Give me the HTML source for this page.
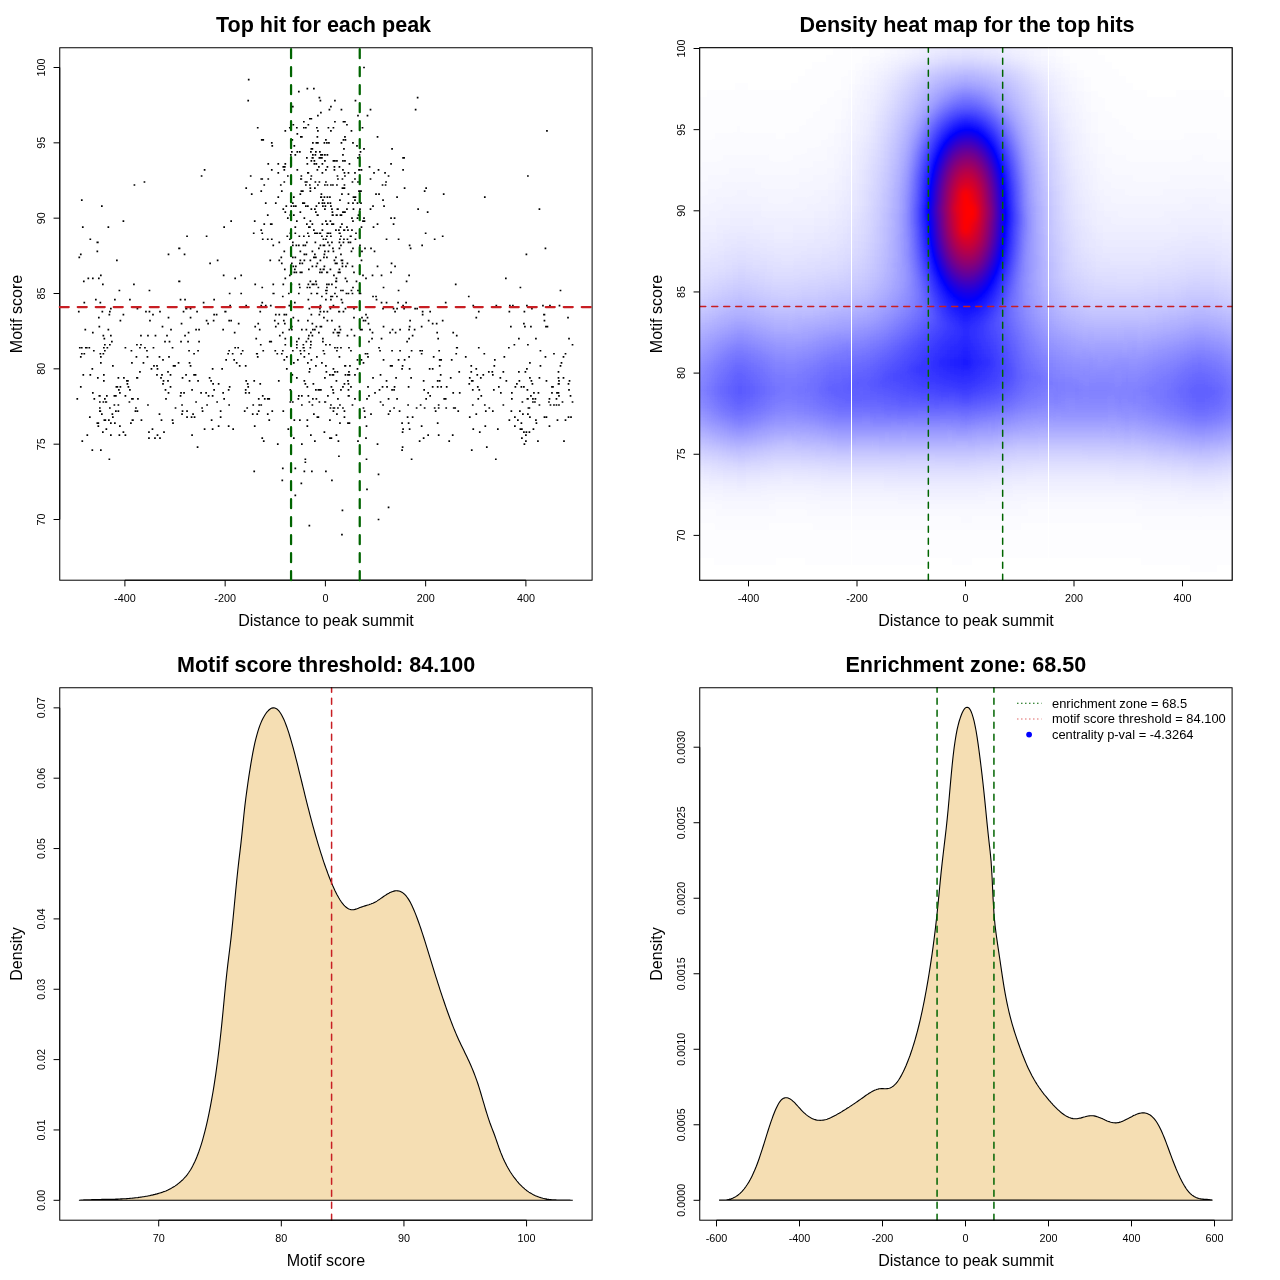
<!DOCTYPE html>
<html><head><meta charset="utf-8"><style>
html,body{margin:0;padding:0;background:#fff;}
svg{display:block;font-family:"Liberation Sans", sans-serif;will-change:transform;}
</style></head><body>
<svg width="1280" height="1280" viewBox="0 0 1280 1280">
<rect width="1280" height="1280" fill="#fff"/>
<path d="M78.9 1200.2L79.9 1200.2L80.9 1200.1L81.9 1200.0L82.9 1200.0L83.9 1199.9L84.9 1199.9L85.9 1199.9L86.9 1199.8L87.9 1199.8L88.9 1199.7L89.9 1199.7L90.9 1199.7L91.9 1199.6L92.9 1199.6L93.9 1199.6L94.9 1199.6L95.9 1199.6L96.9 1199.5L97.9 1199.5L98.9 1199.5L99.9 1199.5L100.9 1199.5L101.9 1199.4L102.9 1199.4L103.9 1199.4L104.9 1199.4L105.9 1199.4L106.9 1199.4L107.9 1199.3L108.9 1199.3L109.9 1199.3L110.9 1199.3L111.9 1199.2L112.9 1199.2L113.9 1199.2L114.9 1199.2L115.9 1199.1L116.9 1199.1L117.9 1199.1L118.9 1199.0L119.9 1199.0L120.9 1198.9L121.9 1198.9L122.9 1198.8L123.9 1198.8L124.9 1198.7L125.9 1198.7L126.9 1198.6L127.9 1198.5L128.9 1198.5L129.9 1198.4L130.9 1198.3L131.9 1198.2L132.9 1198.1L133.9 1198.0L134.9 1197.9L135.9 1197.8L136.9 1197.7L137.9 1197.6L138.9 1197.4L139.9 1197.3L140.9 1197.1L141.9 1197.0L142.9 1196.8L143.9 1196.7L144.9 1196.5L145.9 1196.3L146.9 1196.2L147.9 1196.0L148.9 1195.8L149.9 1195.6L150.9 1195.3L151.9 1195.1L152.9 1194.9L153.9 1194.6L154.9 1194.4L155.9 1194.1L156.9 1193.9L157.9 1193.6L158.9 1193.3L159.9 1193.0L160.9 1192.7L161.9 1192.4L162.9 1192.0L163.9 1191.6L164.9 1191.3L165.9 1190.9L166.9 1190.4L167.9 1190.0L168.9 1189.5L169.9 1189.0L170.9 1188.5L171.9 1187.9L172.9 1187.3L173.9 1186.7L174.9 1186.1L175.9 1185.4L176.9 1184.7L177.9 1183.9L178.9 1183.1L179.9 1182.3L180.9 1181.4L181.9 1180.5L182.9 1179.6L183.9 1178.5L184.9 1177.4L185.9 1176.3L186.9 1175.1L187.9 1173.7L188.9 1172.3L189.9 1170.8L190.9 1169.2L191.9 1167.4L192.9 1165.6L193.9 1163.6L194.9 1161.5L195.9 1159.2L196.9 1156.8L197.9 1154.2L198.9 1151.5L199.9 1148.6L200.9 1145.6L201.9 1142.3L202.9 1138.9L203.9 1135.2L204.9 1131.4L205.9 1127.4L206.9 1123.1L207.9 1118.6L208.9 1113.9L209.9 1108.9L210.9 1103.7L211.9 1098.2L212.9 1092.5L213.9 1086.4L214.9 1079.9L215.9 1073.1L216.9 1065.8L217.9 1058.2L218.9 1050.1L219.9 1041.5L220.9 1032.5L221.9 1022.9L222.9 1012.8L223.9 1002.3L224.9 991.8L225.9 981.6L226.9 972.2L227.9 963.6L228.9 955.5L229.9 947.5L230.9 939.1L231.9 929.9L232.9 920.0L233.9 909.7L234.9 899.2L235.9 888.7L236.9 878.7L237.9 869.2L238.9 860.4L239.9 852.1L240.9 843.6L241.9 834.4L242.9 824.6L243.9 814.7L244.9 805.6L245.9 797.5L246.9 790.1L247.9 783.0L248.9 776.2L249.9 769.8L250.9 763.6L251.9 757.8L252.9 752.4L253.9 747.4L254.9 742.7L255.9 738.6L256.9 734.8L257.9 731.3L258.9 728.2L259.9 725.4L260.9 722.9L261.9 720.6L262.9 718.6L263.9 716.7L264.9 715.0L265.9 713.5L266.9 712.2L267.9 711.0L268.9 710.0L269.9 709.2L270.9 708.6L271.9 708.1L272.9 707.9L273.9 707.9L274.9 708.0L275.9 708.4L276.9 709.0L277.9 709.8L278.9 710.9L279.9 712.2L280.9 713.7L281.9 715.4L282.9 717.4L283.9 719.5L284.9 721.9L285.9 724.5L286.9 727.2L287.9 730.2L288.9 733.2L289.9 736.5L290.9 739.8L291.9 743.3L292.9 746.9L293.9 750.6L294.9 754.4L295.9 758.3L296.9 762.2L297.9 766.2L298.9 770.3L299.9 774.3L300.9 778.4L301.9 782.5L302.9 786.7L303.9 790.7L304.9 794.8L305.9 798.9L306.9 802.9L307.9 806.8L308.9 810.7L309.9 814.6L310.9 818.4L311.9 822.1L312.9 825.8L313.9 829.4L314.9 833.0L315.9 836.5L316.9 839.9L317.9 843.3L318.9 846.6L319.9 849.9L320.9 853.1L321.9 856.2L322.9 859.3L323.9 862.3L324.9 865.2L325.9 868.1L326.9 870.8L327.9 873.6L328.9 876.2L329.9 878.7L330.9 881.2L331.9 883.6L332.9 886.0L333.9 888.2L334.9 890.4L335.9 892.4L336.9 894.4L337.9 896.2L338.9 898.0L339.9 899.7L340.9 901.2L341.9 902.6L342.9 903.9L343.9 905.1L344.9 906.1L345.9 907.0L346.9 907.8L347.9 908.4L348.9 908.9L349.9 909.3L350.9 909.6L351.9 909.7L352.9 909.7L353.9 909.6L354.9 909.4L355.9 909.1L356.9 908.8L357.9 908.4L358.9 908.0L359.9 907.6L360.9 907.2L361.9 906.9L362.9 906.5L363.9 906.2L364.9 905.9L365.9 905.6L366.9 905.3L367.9 905.0L368.9 904.7L369.9 904.3L370.9 904.0L371.9 903.6L372.9 903.2L373.9 902.7L374.9 902.2L375.9 901.7L376.9 901.1L377.9 900.4L378.9 899.8L379.9 899.1L380.9 898.4L381.9 897.7L382.9 897.0L383.9 896.3L384.9 895.6L385.9 895.0L386.9 894.3L387.9 893.7L388.9 893.2L389.9 892.6L390.9 892.2L391.9 891.8L392.9 891.4L393.9 891.1L394.9 890.9L395.9 890.8L396.9 890.8L397.9 890.9L398.9 891.0L399.9 891.3L400.9 891.7L401.9 892.2L402.9 892.9L403.9 893.7L404.9 894.6L405.9 895.7L406.9 897.0L407.9 898.4L408.9 899.9L409.9 901.6L410.9 903.5L411.9 905.5L412.9 907.7L413.9 910.0L414.9 912.4L415.9 914.9L416.9 917.5L417.9 920.2L418.9 923.0L419.9 925.9L420.9 928.8L421.9 931.8L422.9 934.9L423.9 938.0L424.9 941.2L425.9 944.4L426.9 947.6L427.9 950.9L428.9 954.1L429.9 957.4L430.9 960.6L431.9 963.9L432.9 967.1L433.9 970.4L434.9 973.6L435.9 976.8L436.9 979.9L437.9 983.1L438.9 986.2L439.9 989.3L440.9 992.3L441.9 995.4L442.9 998.4L443.9 1001.3L444.9 1004.2L445.9 1007.1L446.9 1010.0L447.9 1012.8L448.9 1015.5L449.9 1018.2L450.9 1020.9L451.9 1023.5L452.9 1026.1L453.9 1028.6L454.9 1031.0L455.9 1033.4L456.9 1035.7L457.9 1038.0L458.9 1040.2L459.9 1042.3L460.9 1044.4L461.9 1046.5L462.9 1048.6L463.9 1050.6L464.9 1052.7L465.9 1054.7L466.9 1056.8L467.9 1058.9L468.9 1061.1L469.9 1063.3L470.9 1065.5L471.9 1067.9L472.9 1070.3L473.9 1072.8L474.9 1075.4L475.9 1078.1L476.9 1080.9L477.9 1083.8L478.9 1086.9L479.9 1090.2L480.9 1093.5L481.9 1096.9L482.9 1100.3L483.9 1103.7L484.9 1107.1L485.9 1110.5L486.9 1113.7L487.9 1116.9L488.9 1119.9L489.9 1122.8L490.9 1125.5L491.9 1128.1L492.9 1130.7L493.9 1133.3L494.9 1136.0L495.9 1138.9L496.9 1141.7L497.9 1144.6L498.9 1147.5L499.9 1150.2L500.9 1152.9L501.9 1155.3L502.9 1157.7L503.9 1159.9L504.9 1162.1L505.9 1164.1L506.9 1166.0L507.9 1167.8L508.9 1169.5L509.9 1171.2L510.9 1172.8L511.9 1174.3L512.9 1175.7L513.9 1177.1L514.9 1178.4L515.9 1179.7L516.9 1181.0L517.9 1182.1L518.9 1183.3L519.9 1184.4L520.9 1185.4L521.9 1186.4L522.9 1187.3L523.9 1188.2L524.9 1189.1L525.9 1189.9L526.9 1190.7L527.9 1191.4L528.9 1192.1L529.9 1192.7L530.9 1193.3L531.9 1193.9L532.9 1194.5L533.9 1195.0L534.9 1195.5L535.9 1195.9L536.9 1196.3L537.9 1196.7L538.9 1197.1L539.9 1197.4L540.9 1197.7L541.9 1198.0L542.9 1198.3L543.9 1198.5L544.9 1198.7L545.9 1198.9L546.9 1199.1L547.9 1199.2L548.9 1199.4L549.9 1199.5L550.9 1199.6L551.9 1199.7L552.9 1199.8L553.9 1199.8L554.9 1199.9L555.9 1199.9L556.9 1200.0L557.9 1200.0L558.9 1200.0L559.9 1200.0L560.9 1200.1L561.9 1200.1L562.9 1200.1L563.9 1200.1L564.9 1200.1L565.9 1200.1L566.9 1200.1L567.9 1200.1L568.9 1200.1L569.9 1200.1L570.9 1200.2L571.9 1200.2L572.8 1200.2Z" fill="#F5DEB3" stroke="#000" stroke-width="1.1"/>
<line x1="331.59" y1="1220.2" x2="331.59" y2="687.75" stroke="#C81E23" stroke-width="1.5" stroke-dasharray="6 6" stroke-linecap="round"/>
<rect x="59.75" y="687.75" width="532.35" height="532.45" fill="none" stroke="#000" stroke-width="1"/>
<path d="M158.7 1220.2H526.56M158.7 1220.2V1226.4M281.32 1220.2V1226.4M403.94 1220.2V1226.4M526.56 1220.2V1226.4M59.75 1200.3V707.85M59.75 1200.3H53.55M59.75 1129.95H53.55M59.75 1059.6H53.55M59.75 989.25H53.55M59.75 918.9H53.55M59.75 848.55H53.55M59.75 778.2H53.55M59.75 707.85H53.55" stroke="#000" stroke-width="1" fill="none"/>
<text x="158.7" y="1241.7" text-anchor="middle" font-size="10.8" fill="#000">70</text>
<text x="281.32" y="1241.7" text-anchor="middle" font-size="10.8" fill="#000">80</text>
<text x="403.94" y="1241.7" text-anchor="middle" font-size="10.8" fill="#000">90</text>
<text x="526.56" y="1241.7" text-anchor="middle" font-size="10.8" fill="#000">100</text>
<text transform="translate(44.7,1200.3) rotate(-90)" text-anchor="middle" font-size="10.8" fill="#000">0.00</text>
<text transform="translate(44.7,1129.95) rotate(-90)" text-anchor="middle" font-size="10.8" fill="#000">0.01</text>
<text transform="translate(44.7,1059.6) rotate(-90)" text-anchor="middle" font-size="10.8" fill="#000">0.02</text>
<text transform="translate(44.7,989.25) rotate(-90)" text-anchor="middle" font-size="10.8" fill="#000">0.03</text>
<text transform="translate(44.7,918.9) rotate(-90)" text-anchor="middle" font-size="10.8" fill="#000">0.04</text>
<text transform="translate(44.7,848.55) rotate(-90)" text-anchor="middle" font-size="10.8" fill="#000">0.05</text>
<text transform="translate(44.7,778.2) rotate(-90)" text-anchor="middle" font-size="10.8" fill="#000">0.06</text>
<text transform="translate(44.7,707.85) rotate(-90)" text-anchor="middle" font-size="10.8" fill="#000">0.07</text>
<text x="325.93" y="1265.6" text-anchor="middle" font-size="16.05" fill="#000">Motif score</text>
<text transform="translate(21.9,953.98) rotate(-90)" text-anchor="middle" font-size="16.05" fill="#000">Density</text>
<text x="177" y="671.7" text-anchor="start" font-size="21.55" font-weight="bold" fill="#000">Motif score threshold: 84.100</text>
<path d="M719.1 1200.1L720.1 1200.2L721.1 1200.2L722.1 1200.2L723.1 1200.2L724.1 1200.2L725.1 1200.1L726.1 1200.0L727.1 1199.8L728.1 1199.6L729.1 1199.4L730.1 1199.1L731.1 1198.8L732.1 1198.4L733.1 1198.0L734.1 1197.5L735.1 1197.0L736.1 1196.4L737.1 1195.7L738.1 1195.0L739.1 1194.2L740.1 1193.3L741.1 1192.3L742.1 1191.3L743.1 1190.2L744.1 1189.0L745.1 1187.7L746.1 1186.3L747.1 1184.8L748.1 1183.2L749.1 1181.6L750.1 1179.8L751.1 1177.9L752.1 1175.9L753.1 1173.8L754.1 1171.6L755.1 1169.2L756.1 1166.8L757.1 1164.2L758.1 1161.5L759.1 1158.7L760.1 1155.7L761.1 1152.7L762.1 1149.6L763.1 1146.5L764.1 1143.3L765.1 1140.1L766.1 1136.9L767.1 1133.7L768.1 1130.5L769.1 1127.4L770.1 1124.4L771.1 1121.4L772.1 1118.6L773.1 1115.8L774.1 1113.2L775.1 1110.8L776.1 1108.5L777.1 1106.4L778.1 1104.5L779.1 1102.8L780.1 1101.4L781.1 1100.2L782.1 1099.2L783.1 1098.5L784.1 1098.1L785.1 1097.8L786.1 1097.7L787.1 1097.8L788.1 1098.0L789.1 1098.4L790.1 1099.0L791.1 1099.6L792.1 1100.4L793.1 1101.3L794.1 1102.2L795.1 1103.2L796.1 1104.3L797.1 1105.4L798.1 1106.5L799.1 1107.6L800.1 1108.7L801.1 1109.8L802.1 1110.9L803.1 1111.9L804.1 1112.8L805.1 1113.7L806.1 1114.6L807.1 1115.4L808.1 1116.1L809.1 1116.8L810.1 1117.4L811.1 1118.0L812.1 1118.5L813.1 1118.9L814.1 1119.3L815.1 1119.6L816.1 1119.9L817.1 1120.1L818.1 1120.2L819.1 1120.3L820.1 1120.4L821.1 1120.3L822.1 1120.3L823.1 1120.1L824.1 1120.0L825.1 1119.7L826.1 1119.5L827.1 1119.2L828.1 1118.8L829.1 1118.4L830.1 1118.0L831.1 1117.6L832.1 1117.1L833.1 1116.6L834.1 1116.1L835.1 1115.6L836.1 1115.0L837.1 1114.4L838.1 1113.8L839.1 1113.3L840.1 1112.7L841.1 1112.1L842.1 1111.5L843.1 1110.8L844.1 1110.2L845.1 1109.6L846.1 1109.0L847.1 1108.3L848.1 1107.7L849.1 1107.1L850.1 1106.4L851.1 1105.8L852.1 1105.1L853.1 1104.4L854.1 1103.8L855.1 1103.1L856.1 1102.4L857.1 1101.7L858.1 1101.0L859.1 1100.3L860.1 1099.6L861.1 1098.9L862.1 1098.2L863.1 1097.5L864.1 1096.8L865.1 1096.0L866.1 1095.3L867.1 1094.6L868.1 1094.0L869.1 1093.3L870.1 1092.7L871.1 1092.1L872.1 1091.5L873.1 1091.0L874.1 1090.5L875.1 1090.0L876.1 1089.7L877.1 1089.3L878.1 1089.1L879.1 1088.8L880.1 1088.7L881.1 1088.6L882.1 1088.6L883.1 1088.6L884.1 1088.7L885.1 1088.7L886.1 1088.7L887.1 1088.6L888.1 1088.5L889.1 1088.3L890.1 1088.0L891.1 1087.5L892.1 1086.9L893.1 1086.2L894.1 1085.4L895.1 1084.4L896.1 1083.3L897.1 1082.1L898.1 1080.7L899.1 1079.2L900.1 1077.6L901.1 1075.9L902.1 1074.0L903.1 1072.1L904.1 1070.0L905.1 1067.8L906.1 1065.5L907.1 1063.0L908.1 1060.5L909.1 1057.9L910.1 1055.2L911.1 1052.3L912.1 1049.3L913.1 1046.2L914.1 1043.0L915.1 1039.6L916.1 1036.0L917.1 1032.3L918.1 1028.5L919.1 1024.5L920.1 1020.3L921.1 1015.9L922.1 1011.3L923.1 1006.5L924.1 1001.6L925.1 996.4L926.1 991.0L927.1 985.4L928.1 979.6L929.1 973.5L930.1 967.2L931.1 960.7L932.1 953.8L933.1 946.6L934.1 939.0L935.1 931.0L936.1 922.4L937.1 913.2L938.1 903.4L939.1 893.1L940.1 882.6L941.1 872.6L942.1 863.4L943.1 854.7L944.1 846.3L945.1 837.9L946.1 829.2L947.1 819.9L948.1 809.7L949.1 798.7L950.1 787.4L951.1 776.2L952.1 765.7L953.1 756.3L954.1 748.0L955.1 741.0L956.1 734.9L957.1 729.7L958.1 725.3L959.1 721.5L960.1 718.3L961.1 715.5L962.1 713.0L963.1 711.0L964.1 709.3L965.1 708.1L966.1 707.4L967.1 707.2L968.1 707.4L969.1 708.2L970.1 709.6L971.1 711.6L972.1 714.1L973.1 717.3L974.1 721.2L975.1 725.8L976.1 731.0L977.1 737.1L978.1 743.8L979.1 751.2L980.1 758.9L981.1 767.0L982.1 775.4L983.1 784.2L984.1 793.6L985.1 803.4L986.1 813.5L987.1 823.6L988.1 833.3L989.1 842.5L990.1 851.1L991.1 861.5L992.1 877.7L993.1 899.0L994.1 915.5L995.1 925.8L996.1 933.7L997.1 940.9L998.1 947.7L999.1 954.3L1000.1 961.0L1001.1 967.9L1002.1 974.6L1003.1 981.2L1004.1 987.3L1005.1 993.1L1006.1 998.4L1007.1 1003.4L1008.1 1008.0L1009.1 1012.4L1010.1 1016.4L1011.1 1020.2L1012.1 1023.8L1013.1 1027.2L1014.1 1030.5L1015.1 1033.6L1016.1 1036.6L1017.1 1039.6L1018.1 1042.5L1019.1 1045.3L1020.1 1048.1L1021.1 1050.8L1022.1 1053.5L1023.1 1056.0L1024.1 1058.5L1025.1 1061.0L1026.1 1063.4L1027.1 1065.7L1028.1 1067.9L1029.1 1070.0L1030.1 1072.1L1031.1 1074.1L1032.1 1076.0L1033.1 1077.8L1034.1 1079.6L1035.1 1081.3L1036.1 1082.9L1037.1 1084.5L1038.1 1086.0L1039.1 1087.5L1040.1 1088.9L1041.1 1090.3L1042.1 1091.7L1043.1 1093.0L1044.1 1094.3L1045.1 1095.5L1046.1 1096.7L1047.1 1097.9L1048.1 1099.1L1049.1 1100.3L1050.1 1101.4L1051.1 1102.6L1052.1 1103.7L1053.1 1104.8L1054.1 1105.8L1055.1 1106.9L1056.1 1107.9L1057.1 1108.9L1058.1 1109.8L1059.1 1110.7L1060.1 1111.6L1061.1 1112.5L1062.1 1113.3L1063.1 1114.0L1064.1 1114.7L1065.1 1115.4L1066.1 1116.0L1067.1 1116.5L1068.1 1117.0L1069.1 1117.5L1070.1 1117.8L1071.1 1118.2L1072.1 1118.4L1073.1 1118.6L1074.1 1118.7L1075.1 1118.8L1076.1 1118.7L1077.1 1118.7L1078.1 1118.5L1079.1 1118.3L1080.1 1118.1L1081.1 1117.9L1082.1 1117.6L1083.1 1117.3L1084.1 1117.0L1085.1 1116.8L1086.1 1116.5L1087.1 1116.2L1088.1 1116.0L1089.1 1115.9L1090.1 1115.8L1091.1 1115.7L1092.1 1115.7L1093.1 1115.8L1094.1 1115.9L1095.1 1116.1L1096.1 1116.4L1097.1 1116.7L1098.1 1117.0L1099.1 1117.4L1100.1 1117.8L1101.1 1118.2L1102.1 1118.6L1103.1 1119.1L1104.1 1119.5L1105.1 1120.0L1106.1 1120.4L1107.1 1120.9L1108.1 1121.3L1109.1 1121.6L1110.1 1122.0L1111.1 1122.3L1112.1 1122.5L1113.1 1122.7L1114.1 1122.8L1115.1 1122.9L1116.1 1122.9L1117.1 1122.8L1118.1 1122.6L1119.1 1122.4L1120.1 1122.1L1121.1 1121.8L1122.1 1121.4L1123.1 1121.0L1124.1 1120.6L1125.1 1120.1L1126.1 1119.6L1127.1 1119.1L1128.1 1118.5L1129.1 1118.0L1130.1 1117.4L1131.1 1116.9L1132.1 1116.4L1133.1 1115.8L1134.1 1115.3L1135.1 1114.9L1136.1 1114.4L1137.1 1114.1L1138.1 1113.7L1139.1 1113.4L1140.1 1113.2L1141.1 1113.0L1142.1 1112.9L1143.1 1112.8L1144.1 1112.9L1145.1 1113.0L1146.1 1113.2L1147.1 1113.5L1148.1 1113.9L1149.1 1114.4L1150.1 1115.0L1151.1 1115.8L1152.1 1116.6L1153.1 1117.6L1154.1 1118.7L1155.1 1119.9L1156.1 1121.2L1157.1 1122.7L1158.1 1124.4L1159.1 1126.2L1160.1 1128.2L1161.1 1130.3L1162.1 1132.5L1163.1 1134.9L1164.1 1137.3L1165.1 1139.8L1166.1 1142.4L1167.1 1145.1L1168.1 1147.8L1169.1 1150.5L1170.1 1153.2L1171.1 1155.9L1172.1 1158.6L1173.1 1161.2L1174.1 1163.8L1175.1 1166.3L1176.1 1168.8L1177.1 1171.1L1178.1 1173.4L1179.1 1175.6L1180.1 1177.8L1181.1 1179.8L1182.1 1181.7L1183.1 1183.6L1184.1 1185.3L1185.1 1186.9L1186.1 1188.5L1187.1 1189.9L1188.1 1191.2L1189.1 1192.3L1190.1 1193.4L1191.1 1194.3L1192.1 1195.1L1193.1 1195.8L1194.1 1196.5L1195.1 1197.0L1196.1 1197.5L1197.1 1197.9L1198.1 1198.2L1199.1 1198.5L1200.1 1198.7L1201.1 1198.9L1202.1 1199.0L1203.1 1199.1L1204.1 1199.2L1205.1 1199.3L1206.1 1199.4L1207.1 1199.4L1208.1 1199.5L1209.1 1199.6L1210.1 1199.8L1211.1 1199.9L1212.1 1200.1L1212.5 1200.2Z" fill="#F5DEB3" stroke="#000" stroke-width="1.1"/>
<line x1="937.07" y1="1220.2" x2="937.07" y2="687.75" stroke="#006400" stroke-width="1.5" stroke-dasharray="6 6" stroke-linecap="round"/>
<line x1="993.93" y1="1220.2" x2="993.93" y2="687.75" stroke="#006400" stroke-width="1.5" stroke-dasharray="6 6" stroke-linecap="round"/>
<rect x="699.75" y="687.75" width="532.35" height="532.45" fill="none" stroke="#000" stroke-width="1"/>
<path d="M716.5 1220.2H1214.5M716.5 1220.2V1226.4M799.5 1220.2V1226.4M882.5 1220.2V1226.4M965.5 1220.2V1226.4M1048.5 1220.2V1226.4M1131.5 1220.2V1226.4M1214.5 1220.2V1226.4M699.75 1200.3V747.21M699.75 1200.3H693.55M699.75 1124.78H693.55M699.75 1049.27H693.55M699.75 973.75H693.55M699.75 898.24H693.55M699.75 822.72H693.55M699.75 747.21H693.55" stroke="#000" stroke-width="1" fill="none"/>
<text x="716.5" y="1241.7" text-anchor="middle" font-size="10.8" fill="#000">-600</text>
<text x="799.5" y="1241.7" text-anchor="middle" font-size="10.8" fill="#000">-400</text>
<text x="882.5" y="1241.7" text-anchor="middle" font-size="10.8" fill="#000">-200</text>
<text x="965.5" y="1241.7" text-anchor="middle" font-size="10.8" fill="#000">0</text>
<text x="1048.5" y="1241.7" text-anchor="middle" font-size="10.8" fill="#000">200</text>
<text x="1131.5" y="1241.7" text-anchor="middle" font-size="10.8" fill="#000">400</text>
<text x="1214.5" y="1241.7" text-anchor="middle" font-size="10.8" fill="#000">600</text>
<text transform="translate(684.7,1200.3) rotate(-90)" text-anchor="middle" font-size="10.8" fill="#000">0.0000</text>
<text transform="translate(684.7,1124.78) rotate(-90)" text-anchor="middle" font-size="10.8" fill="#000">0.0005</text>
<text transform="translate(684.7,1049.27) rotate(-90)" text-anchor="middle" font-size="10.8" fill="#000">0.0010</text>
<text transform="translate(684.7,973.75) rotate(-90)" text-anchor="middle" font-size="10.8" fill="#000">0.0015</text>
<text transform="translate(684.7,898.24) rotate(-90)" text-anchor="middle" font-size="10.8" fill="#000">0.0020</text>
<text transform="translate(684.7,822.72) rotate(-90)" text-anchor="middle" font-size="10.8" fill="#000">0.0025</text>
<text transform="translate(684.7,747.21) rotate(-90)" text-anchor="middle" font-size="10.8" fill="#000">0.0030</text>
<text x="965.92" y="1265.6" text-anchor="middle" font-size="16.05" fill="#000">Distance to peak summit</text>
<text transform="translate(661.9,953.98) rotate(-90)" text-anchor="middle" font-size="16.05" fill="#000">Density</text>
<text x="845.5" y="671.7" text-anchor="start" font-size="21.55" font-weight="bold" fill="#000">Enrichment zone: 68.50</text>
<line x1="1017" y1="703.2" x2="1041.5" y2="703.2" stroke="#006400" stroke-width="1.1" stroke-dasharray="1.5 2.5"/>
<line x1="1017" y1="719" x2="1041.5" y2="719" stroke="#E06666" stroke-width="1.1" stroke-dasharray="1.5 2.5"/>
<circle cx="1029.1" cy="734.6" r="2.9" fill="#0000FF"/>
<text x="1052" y="707.8" text-anchor="start" font-size="12.9" fill="#000">enrichment zone = 68.5</text>
<text x="1052" y="723.4" text-anchor="start" font-size="12.9" fill="#000">motif score threshold = 84.100</text>
<text x="1052" y="739" text-anchor="start" font-size="12.9" fill="#000">centrality p-val = -4.3264</text>
<rect x="59.75" y="47.75" width="532.35" height="532.45" fill="none" stroke="#000" stroke-width="1"/>
<path d="M124.9 580.2H525.9M124.9 580.2V586.4M225.15 580.2V586.4M325.4 580.2V586.4M425.65 580.2V586.4M525.9 580.2V586.4M59.75 519.51V67.5M59.75 519.51H53.55M59.75 444.18H53.55M59.75 368.84H53.55M59.75 293.5H53.55M59.75 218.17H53.55M59.75 142.84H53.55M59.75 67.5H53.55" stroke="#000" stroke-width="1" fill="none"/>
<text x="124.9" y="601.7" text-anchor="middle" font-size="10.8" fill="#000">-400</text>
<text x="225.15" y="601.7" text-anchor="middle" font-size="10.8" fill="#000">-200</text>
<text x="325.4" y="601.7" text-anchor="middle" font-size="10.8" fill="#000">0</text>
<text x="425.65" y="601.7" text-anchor="middle" font-size="10.8" fill="#000">200</text>
<text x="525.9" y="601.7" text-anchor="middle" font-size="10.8" fill="#000">400</text>
<text transform="translate(44.7,519.51) rotate(-90)" text-anchor="middle" font-size="10.8" fill="#000">70</text>
<text transform="translate(44.7,444.18) rotate(-90)" text-anchor="middle" font-size="10.8" fill="#000">75</text>
<text transform="translate(44.7,368.84) rotate(-90)" text-anchor="middle" font-size="10.8" fill="#000">80</text>
<text transform="translate(44.7,293.5) rotate(-90)" text-anchor="middle" font-size="10.8" fill="#000">85</text>
<text transform="translate(44.7,218.17) rotate(-90)" text-anchor="middle" font-size="10.8" fill="#000">90</text>
<text transform="translate(44.7,142.84) rotate(-90)" text-anchor="middle" font-size="10.8" fill="#000">95</text>
<text transform="translate(44.7,67.5) rotate(-90)" text-anchor="middle" font-size="10.8" fill="#000">100</text>
<text x="325.93" y="625.6" text-anchor="middle" font-size="16.05" fill="#000">Distance to peak summit</text>
<text transform="translate(21.9,313.98) rotate(-90)" text-anchor="middle" font-size="16.05" fill="#000">Motif score</text>
<text x="216" y="31.7" text-anchor="start" font-size="21.55" font-weight="bold" fill="#000">Top hit for each peak</text>
<path d="M131.07 361.96h1.7v1.7h-1.7zM232.32 428.26h1.7v1.7h-1.7zM262.39 138.97h1.7v1.7h-1.7zM263.40 184.17h1.7v1.7h-1.7zM322.04 337.86h1.7v1.7h-1.7zM284.45 343.88h1.7v1.7h-1.7zM455.88 346.90h1.7v1.7h-1.7zM375.18 193.21h1.7v1.7h-1.7zM508.51 310.74h1.7v1.7h-1.7zM295.98 377.03h1.7v1.7h-1.7zM326.55 184.17h1.7v1.7h-1.7zM276.43 352.92h1.7v1.7h-1.7zM317.53 286.63h1.7v1.7h-1.7zM340.59 214.31h1.7v1.7h-1.7zM296.48 169.11h1.7v1.7h-1.7zM353.12 307.72h1.7v1.7h-1.7zM113.52 404.15h1.7v1.7h-1.7zM178.69 247.45h1.7v1.7h-1.7zM320.54 193.21h1.7v1.7h-1.7zM318.03 331.83h1.7v1.7h-1.7zM346.10 123.90h1.7v1.7h-1.7zM101.49 310.74h1.7v1.7h-1.7zM190.72 416.20h1.7v1.7h-1.7zM513.52 343.88h1.7v1.7h-1.7zM436.83 422.23h1.7v1.7h-1.7zM159.14 437.30h1.7v1.7h-1.7zM257.88 410.18h1.7v1.7h-1.7zM307.51 395.11h1.7v1.7h-1.7zM347.61 172.12h1.7v1.7h-1.7zM183.20 392.10h1.7v1.7h-1.7zM293.47 419.22h1.7v1.7h-1.7zM344.60 138.97h1.7v1.7h-1.7zM244.85 364.98h1.7v1.7h-1.7zM336.58 208.28h1.7v1.7h-1.7zM334.07 120.89h1.7v1.7h-1.7zM98.49 395.11h1.7v1.7h-1.7zM127.06 380.04h1.7v1.7h-1.7zM421.29 349.91h1.7v1.7h-1.7zM333.57 166.09h1.7v1.7h-1.7zM324.55 205.27h1.7v1.7h-1.7zM109.01 343.88h1.7v1.7h-1.7zM307.01 319.78h1.7v1.7h-1.7zM174.68 407.16h1.7v1.7h-1.7zM371.17 337.86h1.7v1.7h-1.7zM365.65 425.24h1.7v1.7h-1.7zM297.98 292.65h1.7v1.7h-1.7zM281.94 331.83h1.7v1.7h-1.7zM454.87 283.61h1.7v1.7h-1.7zM105.00 401.14h1.7v1.7h-1.7zM310.51 292.65h1.7v1.7h-1.7zM339.09 199.24h1.7v1.7h-1.7zM413.77 328.82h1.7v1.7h-1.7zM311.52 404.15h1.7v1.7h-1.7zM521.04 437.30h1.7v1.7h-1.7zM191.22 389.08h1.7v1.7h-1.7zM475.43 316.76h1.7v1.7h-1.7zM197.23 380.04h1.7v1.7h-1.7zM262.39 349.91h1.7v1.7h-1.7zM91.47 449.35h1.7v1.7h-1.7zM301.99 202.25h1.7v1.7h-1.7zM281.94 467.43h1.7v1.7h-1.7zM246.86 383.06h1.7v1.7h-1.7zM518.53 380.04h1.7v1.7h-1.7zM338.58 268.55h1.7v1.7h-1.7zM344.10 364.98h1.7v1.7h-1.7zM382.69 325.80h1.7v1.7h-1.7zM427.31 434.28h1.7v1.7h-1.7zM514.02 425.24h1.7v1.7h-1.7zM543.60 416.20h1.7v1.7h-1.7zM353.62 334.84h1.7v1.7h-1.7zM323.55 202.25h1.7v1.7h-1.7zM499.49 377.03h1.7v1.7h-1.7zM219.79 416.20h1.7v1.7h-1.7zM317.03 114.86h1.7v1.7h-1.7zM357.13 181.16h1.7v1.7h-1.7zM351.62 181.16h1.7v1.7h-1.7zM470.91 380.04h1.7v1.7h-1.7zM437.83 404.15h1.7v1.7h-1.7zM445.35 407.16h1.7v1.7h-1.7zM203.75 428.26h1.7v1.7h-1.7zM310.51 148.01h1.7v1.7h-1.7zM301.99 190.20h1.7v1.7h-1.7zM546.60 325.80h1.7v1.7h-1.7zM431.82 367.99h1.7v1.7h-1.7zM316.53 135.96h1.7v1.7h-1.7zM82.45 374.02h1.7v1.7h-1.7zM271.42 145.00h1.7v1.7h-1.7zM295.48 271.56h1.7v1.7h-1.7zM118.03 389.08h1.7v1.7h-1.7zM367.66 322.79h1.7v1.7h-1.7zM539.59 364.98h1.7v1.7h-1.7zM347.11 374.02h1.7v1.7h-1.7zM294.98 205.27h1.7v1.7h-1.7zM312.02 398.12h1.7v1.7h-1.7zM468.91 377.03h1.7v1.7h-1.7zM352.12 247.45h1.7v1.7h-1.7zM376.68 223.35h1.7v1.7h-1.7zM338.58 310.74h1.7v1.7h-1.7zM292.47 123.90h1.7v1.7h-1.7zM316.53 416.20h1.7v1.7h-1.7zM528.56 431.27h1.7v1.7h-1.7zM336.08 413.19h1.7v1.7h-1.7zM360.14 202.25h1.7v1.7h-1.7zM401.24 367.99h1.7v1.7h-1.7zM314.52 256.49h1.7v1.7h-1.7zM538.58 404.15h1.7v1.7h-1.7zM342.09 386.07h1.7v1.7h-1.7zM195.23 328.82h1.7v1.7h-1.7zM493.47 364.98h1.7v1.7h-1.7zM387.71 398.12h1.7v1.7h-1.7zM306.00 157.05h1.7v1.7h-1.7zM431.82 322.79h1.7v1.7h-1.7zM401.74 431.27h1.7v1.7h-1.7zM259.39 310.74h1.7v1.7h-1.7zM458.38 371.00h1.7v1.7h-1.7zM280.94 190.20h1.7v1.7h-1.7zM323.55 352.92h1.7v1.7h-1.7zM140.59 419.22h1.7v1.7h-1.7zM245.35 304.71h1.7v1.7h-1.7zM410.76 458.39h1.7v1.7h-1.7zM538.58 208.28h1.7v1.7h-1.7zM263.90 398.12h1.7v1.7h-1.7zM555.63 398.12h1.7v1.7h-1.7zM314.02 187.19h1.7v1.7h-1.7zM306.50 87.74h1.7v1.7h-1.7zM436.83 386.07h1.7v1.7h-1.7zM393.72 217.32h1.7v1.7h-1.7zM110.01 307.72h1.7v1.7h-1.7zM285.45 205.27h1.7v1.7h-1.7zM303.00 235.40h1.7v1.7h-1.7zM293.97 301.70h1.7v1.7h-1.7zM292.97 437.30h1.7v1.7h-1.7zM306.50 425.24h1.7v1.7h-1.7zM260.39 178.15h1.7v1.7h-1.7zM341.59 509.62h1.7v1.7h-1.7zM401.24 449.35h1.7v1.7h-1.7zM99.49 352.92h1.7v1.7h-1.7zM349.61 241.43h1.7v1.7h-1.7zM271.42 410.18h1.7v1.7h-1.7zM307.01 205.27h1.7v1.7h-1.7zM365.65 458.39h1.7v1.7h-1.7zM303.50 470.45h1.7v1.7h-1.7zM347.11 380.04h1.7v1.7h-1.7zM327.56 250.47h1.7v1.7h-1.7zM408.26 328.82h1.7v1.7h-1.7zM105.50 401.14h1.7v1.7h-1.7zM520.54 422.23h1.7v1.7h-1.7zM449.86 377.03h1.7v1.7h-1.7zM372.17 205.27h1.7v1.7h-1.7zM300.49 482.50h1.7v1.7h-1.7zM102.00 431.27h1.7v1.7h-1.7zM172.17 422.23h1.7v1.7h-1.7zM374.17 392.10h1.7v1.7h-1.7zM362.64 407.16h1.7v1.7h-1.7zM260.39 404.15h1.7v1.7h-1.7zM452.37 331.83h1.7v1.7h-1.7zM435.83 322.79h1.7v1.7h-1.7zM142.60 361.96h1.7v1.7h-1.7zM234.32 346.90h1.7v1.7h-1.7zM345.10 265.53h1.7v1.7h-1.7zM431.82 386.07h1.7v1.7h-1.7zM331.07 283.61h1.7v1.7h-1.7zM299.49 259.51h1.7v1.7h-1.7zM551.11 386.07h1.7v1.7h-1.7zM289.96 154.04h1.7v1.7h-1.7zM358.63 169.11h1.7v1.7h-1.7zM308.51 524.69h1.7v1.7h-1.7zM297.98 244.44h1.7v1.7h-1.7zM367.16 355.94h1.7v1.7h-1.7zM256.38 413.19h1.7v1.7h-1.7zM283.45 358.95h1.7v1.7h-1.7zM148.11 431.27h1.7v1.7h-1.7zM518.03 337.86h1.7v1.7h-1.7zM144.10 346.90h1.7v1.7h-1.7zM340.09 389.08h1.7v1.7h-1.7zM526.55 398.12h1.7v1.7h-1.7zM377.68 169.11h1.7v1.7h-1.7zM394.72 331.83h1.7v1.7h-1.7zM415.78 407.16h1.7v1.7h-1.7zM91.97 392.10h1.7v1.7h-1.7zM343.10 229.37h1.7v1.7h-1.7zM332.57 223.35h1.7v1.7h-1.7zM310.51 313.75h1.7v1.7h-1.7zM348.61 374.02h1.7v1.7h-1.7zM494.97 458.39h1.7v1.7h-1.7zM420.79 352.92h1.7v1.7h-1.7zM349.11 364.98h1.7v1.7h-1.7zM274.93 202.25h1.7v1.7h-1.7zM294.47 494.55h1.7v1.7h-1.7zM548.61 425.24h1.7v1.7h-1.7zM416.78 96.78h1.7v1.7h-1.7zM81.44 440.31h1.7v1.7h-1.7zM299.49 250.47h1.7v1.7h-1.7zM319.04 271.56h1.7v1.7h-1.7zM268.91 340.87h1.7v1.7h-1.7zM317.03 141.99h1.7v1.7h-1.7zM429.31 395.11h1.7v1.7h-1.7zM298.99 286.63h1.7v1.7h-1.7zM250.87 193.21h1.7v1.7h-1.7zM148.11 437.30h1.7v1.7h-1.7zM84.45 328.82h1.7v1.7h-1.7zM309.51 346.90h1.7v1.7h-1.7zM529.06 416.20h1.7v1.7h-1.7zM319.54 99.80h1.7v1.7h-1.7zM311.52 250.47h1.7v1.7h-1.7zM495.48 304.71h1.7v1.7h-1.7zM543.60 319.78h1.7v1.7h-1.7zM110.01 422.23h1.7v1.7h-1.7zM298.99 151.03h1.7v1.7h-1.7zM231.82 352.92h1.7v1.7h-1.7zM105.50 428.26h1.7v1.7h-1.7zM316.03 292.65h1.7v1.7h-1.7zM331.07 241.43h1.7v1.7h-1.7zM391.22 389.08h1.7v1.7h-1.7zM167.66 253.48h1.7v1.7h-1.7zM133.57 184.17h1.7v1.7h-1.7zM99.99 274.57h1.7v1.7h-1.7zM308.01 226.36h1.7v1.7h-1.7zM363.65 410.18h1.7v1.7h-1.7zM533.07 392.10h1.7v1.7h-1.7zM444.85 301.70h1.7v1.7h-1.7zM99.99 449.35h1.7v1.7h-1.7zM350.61 328.82h1.7v1.7h-1.7zM234.32 277.59h1.7v1.7h-1.7zM299.99 178.15h1.7v1.7h-1.7zM323.05 256.49h1.7v1.7h-1.7zM347.11 229.37h1.7v1.7h-1.7zM317.03 214.31h1.7v1.7h-1.7zM570.16 416.20h1.7v1.7h-1.7zM319.54 259.51h1.7v1.7h-1.7zM491.47 371.00h1.7v1.7h-1.7zM186.20 416.20h1.7v1.7h-1.7zM310.01 151.03h1.7v1.7h-1.7zM502.49 404.15h1.7v1.7h-1.7zM315.53 325.80h1.7v1.7h-1.7zM247.36 99.80h1.7v1.7h-1.7zM401.74 446.34h1.7v1.7h-1.7zM356.63 202.25h1.7v1.7h-1.7zM537.08 440.31h1.7v1.7h-1.7zM403.25 157.05h1.7v1.7h-1.7zM136.08 377.03h1.7v1.7h-1.7zM213.27 389.08h1.7v1.7h-1.7zM520.54 386.07h1.7v1.7h-1.7zM329.06 374.02h1.7v1.7h-1.7zM410.26 377.03h1.7v1.7h-1.7zM291.97 241.43h1.7v1.7h-1.7zM80.94 352.92h1.7v1.7h-1.7zM530.56 380.04h1.7v1.7h-1.7zM545.60 380.04h1.7v1.7h-1.7zM269.91 223.35h1.7v1.7h-1.7zM389.21 331.83h1.7v1.7h-1.7zM325.05 169.11h1.7v1.7h-1.7zM567.66 383.06h1.7v1.7h-1.7zM519.54 428.26h1.7v1.7h-1.7zM179.69 395.11h1.7v1.7h-1.7zM352.12 141.99h1.7v1.7h-1.7zM339.59 214.31h1.7v1.7h-1.7zM277.43 172.12h1.7v1.7h-1.7zM319.04 151.03h1.7v1.7h-1.7zM315.03 151.03h1.7v1.7h-1.7zM325.05 364.98h1.7v1.7h-1.7zM344.10 135.96h1.7v1.7h-1.7zM224.30 310.74h1.7v1.7h-1.7zM327.56 232.39h1.7v1.7h-1.7zM438.83 358.95h1.7v1.7h-1.7zM140.09 334.84h1.7v1.7h-1.7zM210.26 380.04h1.7v1.7h-1.7zM304.50 244.44h1.7v1.7h-1.7zM343.60 410.18h1.7v1.7h-1.7zM380.69 337.86h1.7v1.7h-1.7zM361.14 316.76h1.7v1.7h-1.7zM257.38 322.79h1.7v1.7h-1.7zM337.58 440.31h1.7v1.7h-1.7zM340.59 108.84h1.7v1.7h-1.7zM254.37 283.61h1.7v1.7h-1.7zM316.53 232.39h1.7v1.7h-1.7zM205.75 319.78h1.7v1.7h-1.7zM389.71 364.98h1.7v1.7h-1.7zM352.62 208.28h1.7v1.7h-1.7zM337.08 398.12h1.7v1.7h-1.7zM420.79 425.24h1.7v1.7h-1.7zM440.34 386.07h1.7v1.7h-1.7zM525.55 431.27h1.7v1.7h-1.7zM326.05 289.64h1.7v1.7h-1.7zM322.54 349.91h1.7v1.7h-1.7zM414.77 108.84h1.7v1.7h-1.7zM288.46 328.82h1.7v1.7h-1.7zM89.46 374.02h1.7v1.7h-1.7zM140.09 343.88h1.7v1.7h-1.7zM302.49 244.44h1.7v1.7h-1.7zM161.14 374.02h1.7v1.7h-1.7zM262.90 440.31h1.7v1.7h-1.7zM86.46 434.28h1.7v1.7h-1.7zM344.10 160.07h1.7v1.7h-1.7zM548.11 401.14h1.7v1.7h-1.7zM371.67 331.83h1.7v1.7h-1.7zM312.52 383.06h1.7v1.7h-1.7zM362.14 220.33h1.7v1.7h-1.7zM322.54 244.44h1.7v1.7h-1.7zM420.79 325.80h1.7v1.7h-1.7zM330.06 105.82h1.7v1.7h-1.7zM455.38 352.92h1.7v1.7h-1.7zM139.09 346.90h1.7v1.7h-1.7zM266.91 214.31h1.7v1.7h-1.7zM385.70 380.04h1.7v1.7h-1.7zM308.01 334.84h1.7v1.7h-1.7zM523.55 443.32h1.7v1.7h-1.7zM323.55 265.53h1.7v1.7h-1.7zM295.48 244.44h1.7v1.7h-1.7zM350.11 386.07h1.7v1.7h-1.7zM378.18 193.21h1.7v1.7h-1.7zM318.03 166.09h1.7v1.7h-1.7zM410.76 349.91h1.7v1.7h-1.7zM397.73 289.64h1.7v1.7h-1.7zM188.71 380.04h1.7v1.7h-1.7zM309.51 259.51h1.7v1.7h-1.7zM433.82 238.41h1.7v1.7h-1.7zM347.61 241.43h1.7v1.7h-1.7zM336.58 175.13h1.7v1.7h-1.7zM314.02 208.28h1.7v1.7h-1.7zM307.51 123.90h1.7v1.7h-1.7zM147.11 404.15h1.7v1.7h-1.7zM350.11 235.40h1.7v1.7h-1.7zM303.50 259.51h1.7v1.7h-1.7zM233.32 358.95h1.7v1.7h-1.7zM556.63 419.22h1.7v1.7h-1.7zM191.22 434.28h1.7v1.7h-1.7zM557.63 383.06h1.7v1.7h-1.7zM270.92 223.35h1.7v1.7h-1.7zM302.49 346.90h1.7v1.7h-1.7zM337.08 407.16h1.7v1.7h-1.7zM311.52 265.53h1.7v1.7h-1.7zM532.07 401.14h1.7v1.7h-1.7zM292.97 214.31h1.7v1.7h-1.7zM488.46 407.16h1.7v1.7h-1.7zM152.12 313.75h1.7v1.7h-1.7zM361.14 250.47h1.7v1.7h-1.7zM543.09 313.75h1.7v1.7h-1.7zM526.05 367.99h1.7v1.7h-1.7zM272.92 292.65h1.7v1.7h-1.7zM335.08 280.60h1.7v1.7h-1.7zM281.94 349.91h1.7v1.7h-1.7zM543.60 313.75h1.7v1.7h-1.7zM422.79 380.04h1.7v1.7h-1.7zM326.05 283.61h1.7v1.7h-1.7zM164.15 340.87h1.7v1.7h-1.7zM407.76 386.07h1.7v1.7h-1.7zM291.97 105.82h1.7v1.7h-1.7zM299.49 211.29h1.7v1.7h-1.7zM308.51 307.72h1.7v1.7h-1.7zM314.52 154.04h1.7v1.7h-1.7zM295.98 220.33h1.7v1.7h-1.7zM350.61 129.93h1.7v1.7h-1.7zM329.56 407.16h1.7v1.7h-1.7zM117.53 377.03h1.7v1.7h-1.7zM290.97 328.82h1.7v1.7h-1.7zM203.75 169.11h1.7v1.7h-1.7zM403.25 307.72h1.7v1.7h-1.7zM379.69 374.02h1.7v1.7h-1.7zM452.87 407.16h1.7v1.7h-1.7zM187.21 340.87h1.7v1.7h-1.7zM83.45 352.92h1.7v1.7h-1.7zM325.05 298.68h1.7v1.7h-1.7zM354.12 199.24h1.7v1.7h-1.7zM319.04 232.39h1.7v1.7h-1.7zM296.98 358.95h1.7v1.7h-1.7zM391.22 148.01h1.7v1.7h-1.7zM285.95 355.94h1.7v1.7h-1.7zM511.01 398.12h1.7v1.7h-1.7zM516.03 383.06h1.7v1.7h-1.7zM330.06 235.40h1.7v1.7h-1.7zM332.57 407.16h1.7v1.7h-1.7zM279.94 184.17h1.7v1.7h-1.7zM148.61 310.74h1.7v1.7h-1.7zM268.41 419.22h1.7v1.7h-1.7zM417.28 208.28h1.7v1.7h-1.7zM308.01 352.92h1.7v1.7h-1.7zM532.57 428.26h1.7v1.7h-1.7zM333.57 259.51h1.7v1.7h-1.7zM301.49 262.52h1.7v1.7h-1.7zM332.57 410.18h1.7v1.7h-1.7zM228.31 319.78h1.7v1.7h-1.7zM223.30 226.36h1.7v1.7h-1.7zM287.46 428.26h1.7v1.7h-1.7zM334.57 262.52h1.7v1.7h-1.7zM170.16 328.82h1.7v1.7h-1.7zM277.43 163.08h1.7v1.7h-1.7zM368.16 340.87h1.7v1.7h-1.7zM328.06 283.61h1.7v1.7h-1.7zM359.64 190.20h1.7v1.7h-1.7zM527.56 407.16h1.7v1.7h-1.7zM425.30 187.19h1.7v1.7h-1.7zM283.45 169.11h1.7v1.7h-1.7zM317.53 389.08h1.7v1.7h-1.7zM438.83 364.98h1.7v1.7h-1.7zM397.23 301.70h1.7v1.7h-1.7zM139.09 371.00h1.7v1.7h-1.7zM169.66 386.07h1.7v1.7h-1.7zM343.60 172.12h1.7v1.7h-1.7zM324.05 154.04h1.7v1.7h-1.7zM357.13 440.31h1.7v1.7h-1.7zM325.05 238.41h1.7v1.7h-1.7zM523.04 431.27h1.7v1.7h-1.7zM326.05 235.40h1.7v1.7h-1.7zM423.30 389.08h1.7v1.7h-1.7zM321.54 154.04h1.7v1.7h-1.7zM248.36 392.10h1.7v1.7h-1.7zM519.54 286.63h1.7v1.7h-1.7zM211.77 367.99h1.7v1.7h-1.7zM285.95 367.99h1.7v1.7h-1.7zM290.46 434.28h1.7v1.7h-1.7zM557.63 392.10h1.7v1.7h-1.7zM363.15 66.65h1.7v1.7h-1.7zM343.60 383.06h1.7v1.7h-1.7zM427.81 319.78h1.7v1.7h-1.7zM313.02 413.19h1.7v1.7h-1.7zM320.04 111.85h1.7v1.7h-1.7zM291.97 256.49h1.7v1.7h-1.7zM360.64 226.36h1.7v1.7h-1.7zM357.13 289.64h1.7v1.7h-1.7zM356.13 145.00h1.7v1.7h-1.7zM326.05 141.99h1.7v1.7h-1.7zM316.53 169.11h1.7v1.7h-1.7zM283.45 250.47h1.7v1.7h-1.7zM181.69 377.03h1.7v1.7h-1.7zM104.00 349.91h1.7v1.7h-1.7zM249.86 175.13h1.7v1.7h-1.7zM247.36 386.07h1.7v1.7h-1.7zM78.44 256.49h1.7v1.7h-1.7zM136.58 377.03h1.7v1.7h-1.7zM450.86 358.95h1.7v1.7h-1.7zM278.43 259.51h1.7v1.7h-1.7zM347.61 395.11h1.7v1.7h-1.7zM342.09 169.11h1.7v1.7h-1.7zM308.51 371.00h1.7v1.7h-1.7zM309.51 220.33h1.7v1.7h-1.7zM532.07 398.12h1.7v1.7h-1.7zM351.62 404.15h1.7v1.7h-1.7zM304.50 461.41h1.7v1.7h-1.7zM289.96 166.09h1.7v1.7h-1.7zM527.05 175.13h1.7v1.7h-1.7zM278.94 334.84h1.7v1.7h-1.7zM359.14 208.28h1.7v1.7h-1.7zM309.01 367.99h1.7v1.7h-1.7zM311.52 283.61h1.7v1.7h-1.7zM563.14 440.31h1.7v1.7h-1.7zM315.53 283.61h1.7v1.7h-1.7zM537.58 392.10h1.7v1.7h-1.7zM314.02 440.31h1.7v1.7h-1.7zM553.12 352.92h1.7v1.7h-1.7zM306.50 286.63h1.7v1.7h-1.7zM381.69 386.07h1.7v1.7h-1.7zM252.87 232.39h1.7v1.7h-1.7zM441.84 235.40h1.7v1.7h-1.7zM391.22 364.98h1.7v1.7h-1.7zM470.41 364.98h1.7v1.7h-1.7zM294.47 232.39h1.7v1.7h-1.7zM339.59 328.82h1.7v1.7h-1.7zM487.96 371.00h1.7v1.7h-1.7zM366.15 488.53h1.7v1.7h-1.7zM274.42 349.91h1.7v1.7h-1.7zM167.66 392.10h1.7v1.7h-1.7zM340.59 259.51h1.7v1.7h-1.7zM526.55 389.08h1.7v1.7h-1.7zM306.50 386.07h1.7v1.7h-1.7zM94.98 298.68h1.7v1.7h-1.7zM298.99 262.52h1.7v1.7h-1.7zM549.11 304.71h1.7v1.7h-1.7zM407.76 386.07h1.7v1.7h-1.7zM307.51 298.68h1.7v1.7h-1.7zM285.45 313.75h1.7v1.7h-1.7zM357.13 114.86h1.7v1.7h-1.7zM124.55 346.90h1.7v1.7h-1.7zM423.80 407.16h1.7v1.7h-1.7zM344.10 175.13h1.7v1.7h-1.7zM255.38 337.86h1.7v1.7h-1.7zM316.53 292.65h1.7v1.7h-1.7zM523.55 310.74h1.7v1.7h-1.7zM346.10 208.28h1.7v1.7h-1.7zM525.05 434.28h1.7v1.7h-1.7zM338.58 325.80h1.7v1.7h-1.7zM375.18 295.67h1.7v1.7h-1.7zM363.65 220.33h1.7v1.7h-1.7zM319.54 304.71h1.7v1.7h-1.7zM530.06 395.11h1.7v1.7h-1.7zM123.05 377.03h1.7v1.7h-1.7zM88.46 346.90h1.7v1.7h-1.7zM326.55 319.78h1.7v1.7h-1.7zM161.64 325.80h1.7v1.7h-1.7zM448.36 440.31h1.7v1.7h-1.7zM294.47 467.43h1.7v1.7h-1.7zM329.56 232.39h1.7v1.7h-1.7zM471.92 404.15h1.7v1.7h-1.7zM80.94 199.24h1.7v1.7h-1.7zM332.07 247.45h1.7v1.7h-1.7zM411.77 416.20h1.7v1.7h-1.7zM227.31 352.92h1.7v1.7h-1.7zM360.64 169.11h1.7v1.7h-1.7zM273.92 319.78h1.7v1.7h-1.7zM347.61 383.06h1.7v1.7h-1.7zM331.07 479.49h1.7v1.7h-1.7zM386.20 386.07h1.7v1.7h-1.7zM291.47 138.97h1.7v1.7h-1.7zM351.12 217.32h1.7v1.7h-1.7zM296.48 151.03h1.7v1.7h-1.7zM277.43 322.79h1.7v1.7h-1.7zM342.59 310.74h1.7v1.7h-1.7zM299.99 135.96h1.7v1.7h-1.7zM408.76 367.99h1.7v1.7h-1.7zM281.44 479.49h1.7v1.7h-1.7zM303.00 346.90h1.7v1.7h-1.7zM366.65 316.76h1.7v1.7h-1.7zM557.63 377.03h1.7v1.7h-1.7zM476.93 386.07h1.7v1.7h-1.7zM339.09 271.56h1.7v1.7h-1.7zM331.07 319.78h1.7v1.7h-1.7zM303.50 217.32h1.7v1.7h-1.7zM99.99 361.96h1.7v1.7h-1.7zM363.15 217.32h1.7v1.7h-1.7zM240.34 274.57h1.7v1.7h-1.7zM313.02 256.49h1.7v1.7h-1.7zM332.57 331.83h1.7v1.7h-1.7zM352.62 196.23h1.7v1.7h-1.7zM336.08 184.17h1.7v1.7h-1.7zM246.35 407.16h1.7v1.7h-1.7zM338.08 310.74h1.7v1.7h-1.7zM362.14 274.57h1.7v1.7h-1.7zM381.69 184.17h1.7v1.7h-1.7zM553.12 404.15h1.7v1.7h-1.7zM186.20 410.18h1.7v1.7h-1.7zM124.55 434.28h1.7v1.7h-1.7zM290.46 271.56h1.7v1.7h-1.7zM295.98 126.92h1.7v1.7h-1.7zM341.59 301.70h1.7v1.7h-1.7zM212.77 319.78h1.7v1.7h-1.7zM421.79 313.75h1.7v1.7h-1.7zM340.09 253.48h1.7v1.7h-1.7zM332.57 126.92h1.7v1.7h-1.7zM522.04 413.19h1.7v1.7h-1.7zM292.47 123.90h1.7v1.7h-1.7zM341.59 265.53h1.7v1.7h-1.7zM300.99 395.11h1.7v1.7h-1.7zM311.52 223.35h1.7v1.7h-1.7zM114.03 298.68h1.7v1.7h-1.7zM104.50 419.22h1.7v1.7h-1.7zM343.60 211.29h1.7v1.7h-1.7zM91.97 277.59h1.7v1.7h-1.7zM108.51 458.39h1.7v1.7h-1.7zM202.75 301.70h1.7v1.7h-1.7zM348.11 395.11h1.7v1.7h-1.7zM253.37 470.45h1.7v1.7h-1.7zM491.97 374.02h1.7v1.7h-1.7zM477.43 398.12h1.7v1.7h-1.7zM339.59 226.36h1.7v1.7h-1.7zM180.69 322.79h1.7v1.7h-1.7zM478.43 389.08h1.7v1.7h-1.7zM433.82 407.16h1.7v1.7h-1.7zM108.01 419.22h1.7v1.7h-1.7zM251.87 413.19h1.7v1.7h-1.7zM538.58 377.03h1.7v1.7h-1.7zM261.39 437.30h1.7v1.7h-1.7zM330.56 437.30h1.7v1.7h-1.7zM228.31 349.91h1.7v1.7h-1.7zM342.09 289.64h1.7v1.7h-1.7zM315.53 141.99h1.7v1.7h-1.7zM544.60 355.94h1.7v1.7h-1.7zM557.63 371.00h1.7v1.7h-1.7zM330.06 129.93h1.7v1.7h-1.7zM347.61 389.08h1.7v1.7h-1.7zM299.49 193.21h1.7v1.7h-1.7zM111.02 340.87h1.7v1.7h-1.7zM319.54 310.74h1.7v1.7h-1.7zM323.55 196.23h1.7v1.7h-1.7zM527.05 343.88h1.7v1.7h-1.7zM539.59 349.91h1.7v1.7h-1.7zM219.79 410.18h1.7v1.7h-1.7zM104.00 343.88h1.7v1.7h-1.7zM443.35 398.12h1.7v1.7h-1.7zM493.97 358.95h1.7v1.7h-1.7zM221.29 367.99h1.7v1.7h-1.7zM517.03 419.22h1.7v1.7h-1.7zM113.52 395.11h1.7v1.7h-1.7zM320.04 157.05h1.7v1.7h-1.7zM454.37 407.16h1.7v1.7h-1.7zM365.15 277.59h1.7v1.7h-1.7zM330.06 205.27h1.7v1.7h-1.7zM253.87 220.33h1.7v1.7h-1.7zM475.43 367.99h1.7v1.7h-1.7zM235.83 361.96h1.7v1.7h-1.7zM217.78 425.24h1.7v1.7h-1.7zM343.60 416.20h1.7v1.7h-1.7zM309.51 280.60h1.7v1.7h-1.7zM437.83 434.28h1.7v1.7h-1.7zM371.67 274.57h1.7v1.7h-1.7zM290.97 151.03h1.7v1.7h-1.7zM322.04 199.24h1.7v1.7h-1.7zM267.41 163.08h1.7v1.7h-1.7zM484.45 425.24h1.7v1.7h-1.7zM423.80 190.20h1.7v1.7h-1.7zM510.51 410.18h1.7v1.7h-1.7zM432.82 355.94h1.7v1.7h-1.7zM383.20 205.27h1.7v1.7h-1.7zM305.00 126.92h1.7v1.7h-1.7zM401.74 364.98h1.7v1.7h-1.7zM439.84 374.02h1.7v1.7h-1.7zM548.61 398.12h1.7v1.7h-1.7zM205.25 392.10h1.7v1.7h-1.7zM322.54 238.41h1.7v1.7h-1.7zM411.77 334.84h1.7v1.7h-1.7zM336.08 214.31h1.7v1.7h-1.7zM160.14 377.03h1.7v1.7h-1.7zM390.71 262.52h1.7v1.7h-1.7zM181.19 404.15h1.7v1.7h-1.7zM278.43 313.75h1.7v1.7h-1.7zM407.26 404.15h1.7v1.7h-1.7zM326.55 271.56h1.7v1.7h-1.7zM559.64 289.64h1.7v1.7h-1.7zM479.94 377.03h1.7v1.7h-1.7zM343.60 229.37h1.7v1.7h-1.7zM286.96 175.13h1.7v1.7h-1.7zM368.66 166.09h1.7v1.7h-1.7zM339.09 422.23h1.7v1.7h-1.7zM107.51 226.36h1.7v1.7h-1.7zM238.84 364.98h1.7v1.7h-1.7zM354.62 196.23h1.7v1.7h-1.7zM342.09 211.29h1.7v1.7h-1.7zM456.38 346.90h1.7v1.7h-1.7zM484.95 410.18h1.7v1.7h-1.7zM508.51 419.22h1.7v1.7h-1.7zM295.98 346.90h1.7v1.7h-1.7zM297.48 319.78h1.7v1.7h-1.7zM274.93 313.75h1.7v1.7h-1.7zM185.20 374.02h1.7v1.7h-1.7zM340.59 298.68h1.7v1.7h-1.7zM266.91 413.19h1.7v1.7h-1.7zM358.13 190.20h1.7v1.7h-1.7zM133.07 283.61h1.7v1.7h-1.7zM261.89 395.11h1.7v1.7h-1.7zM313.52 160.07h1.7v1.7h-1.7zM98.99 407.16h1.7v1.7h-1.7zM297.98 395.11h1.7v1.7h-1.7zM305.00 184.17h1.7v1.7h-1.7zM344.60 277.59h1.7v1.7h-1.7zM156.13 364.98h1.7v1.7h-1.7zM302.49 343.88h1.7v1.7h-1.7zM264.90 202.25h1.7v1.7h-1.7zM337.08 208.28h1.7v1.7h-1.7zM387.71 413.19h1.7v1.7h-1.7zM103.00 346.90h1.7v1.7h-1.7zM259.89 343.88h1.7v1.7h-1.7zM136.58 410.18h1.7v1.7h-1.7zM406.25 340.87h1.7v1.7h-1.7zM318.53 313.75h1.7v1.7h-1.7zM526.05 304.71h1.7v1.7h-1.7zM310.01 434.28h1.7v1.7h-1.7zM337.08 331.83h1.7v1.7h-1.7zM79.94 253.48h1.7v1.7h-1.7zM436.83 380.04h1.7v1.7h-1.7zM336.08 262.52h1.7v1.7h-1.7zM437.83 407.16h1.7v1.7h-1.7zM189.71 364.98h1.7v1.7h-1.7zM135.08 407.16h1.7v1.7h-1.7zM292.47 316.76h1.7v1.7h-1.7zM112.02 364.98h1.7v1.7h-1.7zM305.00 205.27h1.7v1.7h-1.7zM109.01 407.16h1.7v1.7h-1.7zM362.64 361.96h1.7v1.7h-1.7zM535.58 422.23h1.7v1.7h-1.7zM556.13 392.10h1.7v1.7h-1.7zM405.25 301.70h1.7v1.7h-1.7zM134.58 410.18h1.7v1.7h-1.7zM97.48 425.24h1.7v1.7h-1.7zM314.52 241.43h1.7v1.7h-1.7zM568.16 389.08h1.7v1.7h-1.7zM362.64 319.78h1.7v1.7h-1.7zM122.55 313.75h1.7v1.7h-1.7zM182.70 310.74h1.7v1.7h-1.7zM341.59 178.15h1.7v1.7h-1.7zM184.20 298.68h1.7v1.7h-1.7zM260.39 304.71h1.7v1.7h-1.7zM485.95 446.34h1.7v1.7h-1.7zM523.04 386.07h1.7v1.7h-1.7zM318.53 181.16h1.7v1.7h-1.7zM483.95 404.15h1.7v1.7h-1.7zM309.01 117.88h1.7v1.7h-1.7zM354.12 374.02h1.7v1.7h-1.7zM130.57 349.91h1.7v1.7h-1.7zM354.12 178.15h1.7v1.7h-1.7zM245.35 187.19h1.7v1.7h-1.7zM299.49 271.56h1.7v1.7h-1.7zM366.65 352.92h1.7v1.7h-1.7zM109.01 310.74h1.7v1.7h-1.7zM336.08 349.91h1.7v1.7h-1.7zM558.13 395.11h1.7v1.7h-1.7zM335.08 229.37h1.7v1.7h-1.7zM168.66 340.87h1.7v1.7h-1.7zM297.98 337.86h1.7v1.7h-1.7zM352.12 202.25h1.7v1.7h-1.7zM253.87 425.24h1.7v1.7h-1.7zM529.06 377.03h1.7v1.7h-1.7zM106.51 346.90h1.7v1.7h-1.7zM171.67 419.22h1.7v1.7h-1.7zM96.48 250.47h1.7v1.7h-1.7zM497.98 386.07h1.7v1.7h-1.7zM325.55 292.65h1.7v1.7h-1.7zM325.05 470.45h1.7v1.7h-1.7zM542.09 304.71h1.7v1.7h-1.7zM288.96 238.41h1.7v1.7h-1.7zM252.37 404.15h1.7v1.7h-1.7zM331.57 211.29h1.7v1.7h-1.7zM174.17 364.98h1.7v1.7h-1.7zM79.94 386.07h1.7v1.7h-1.7zM291.97 256.49h1.7v1.7h-1.7zM309.51 190.20h1.7v1.7h-1.7zM310.01 117.88h1.7v1.7h-1.7zM310.51 117.88h1.7v1.7h-1.7zM350.61 289.64h1.7v1.7h-1.7zM425.30 398.12h1.7v1.7h-1.7zM338.58 247.45h1.7v1.7h-1.7zM334.07 99.80h1.7v1.7h-1.7zM332.57 250.47h1.7v1.7h-1.7zM326.55 232.39h1.7v1.7h-1.7zM367.16 386.07h1.7v1.7h-1.7zM243.85 410.18h1.7v1.7h-1.7zM403.75 358.95h1.7v1.7h-1.7zM329.06 419.22h1.7v1.7h-1.7zM317.03 129.93h1.7v1.7h-1.7zM324.05 184.17h1.7v1.7h-1.7zM240.34 292.65h1.7v1.7h-1.7zM102.50 352.92h1.7v1.7h-1.7zM257.88 398.12h1.7v1.7h-1.7zM294.98 265.53h1.7v1.7h-1.7zM312.02 154.04h1.7v1.7h-1.7zM282.95 319.78h1.7v1.7h-1.7zM334.07 292.65h1.7v1.7h-1.7zM457.38 410.18h1.7v1.7h-1.7zM244.85 389.08h1.7v1.7h-1.7zM317.03 184.17h1.7v1.7h-1.7zM284.45 163.08h1.7v1.7h-1.7zM186.20 416.20h1.7v1.7h-1.7zM111.52 413.19h1.7v1.7h-1.7zM261.39 232.39h1.7v1.7h-1.7zM78.94 346.90h1.7v1.7h-1.7zM103.50 337.86h1.7v1.7h-1.7zM336.58 346.90h1.7v1.7h-1.7zM396.23 196.23h1.7v1.7h-1.7zM118.54 434.28h1.7v1.7h-1.7zM310.01 178.15h1.7v1.7h-1.7zM380.69 301.70h1.7v1.7h-1.7zM288.96 126.92h1.7v1.7h-1.7zM183.70 253.48h1.7v1.7h-1.7zM284.45 337.86h1.7v1.7h-1.7zM122.55 431.27h1.7v1.7h-1.7zM318.53 401.14h1.7v1.7h-1.7zM347.61 292.65h1.7v1.7h-1.7zM181.69 410.18h1.7v1.7h-1.7zM312.02 157.05h1.7v1.7h-1.7zM298.48 235.40h1.7v1.7h-1.7zM315.53 265.53h1.7v1.7h-1.7zM308.51 401.14h1.7v1.7h-1.7zM160.64 419.22h1.7v1.7h-1.7zM99.49 301.70h1.7v1.7h-1.7zM442.84 193.21h1.7v1.7h-1.7zM98.49 325.80h1.7v1.7h-1.7zM512.02 304.71h1.7v1.7h-1.7zM342.09 160.07h1.7v1.7h-1.7zM89.46 238.41h1.7v1.7h-1.7zM344.60 364.98h1.7v1.7h-1.7zM177.68 361.96h1.7v1.7h-1.7zM289.46 232.39h1.7v1.7h-1.7zM180.19 340.87h1.7v1.7h-1.7zM348.61 422.23h1.7v1.7h-1.7zM315.53 398.12h1.7v1.7h-1.7zM379.19 349.91h1.7v1.7h-1.7zM332.07 184.17h1.7v1.7h-1.7zM178.69 280.60h1.7v1.7h-1.7zM96.48 422.23h1.7v1.7h-1.7zM307.01 172.12h1.7v1.7h-1.7zM472.42 428.26h1.7v1.7h-1.7zM300.49 178.15h1.7v1.7h-1.7zM206.25 404.15h1.7v1.7h-1.7zM334.07 346.90h1.7v1.7h-1.7zM283.45 181.16h1.7v1.7h-1.7zM352.12 220.33h1.7v1.7h-1.7zM331.57 214.31h1.7v1.7h-1.7zM282.44 166.09h1.7v1.7h-1.7zM558.13 404.15h1.7v1.7h-1.7zM292.97 196.23h1.7v1.7h-1.7zM261.89 238.41h1.7v1.7h-1.7zM321.04 157.05h1.7v1.7h-1.7zM307.51 283.61h1.7v1.7h-1.7zM373.67 250.47h1.7v1.7h-1.7zM534.57 398.12h1.7v1.7h-1.7zM329.06 196.23h1.7v1.7h-1.7zM340.09 289.64h1.7v1.7h-1.7zM339.09 404.15h1.7v1.7h-1.7zM394.22 310.74h1.7v1.7h-1.7zM300.99 328.82h1.7v1.7h-1.7zM468.91 416.20h1.7v1.7h-1.7zM343.60 184.17h1.7v1.7h-1.7zM110.01 434.28h1.7v1.7h-1.7zM545.10 325.80h1.7v1.7h-1.7zM156.63 434.28h1.7v1.7h-1.7zM560.64 361.96h1.7v1.7h-1.7zM357.13 157.05h1.7v1.7h-1.7zM299.49 349.91h1.7v1.7h-1.7zM340.09 214.31h1.7v1.7h-1.7zM360.64 358.95h1.7v1.7h-1.7zM185.70 307.72h1.7v1.7h-1.7zM282.44 208.28h1.7v1.7h-1.7zM91.97 331.83h1.7v1.7h-1.7zM525.55 431.27h1.7v1.7h-1.7zM342.09 407.16h1.7v1.7h-1.7zM291.47 374.02h1.7v1.7h-1.7zM156.63 367.99h1.7v1.7h-1.7zM294.47 154.04h1.7v1.7h-1.7zM100.99 413.19h1.7v1.7h-1.7zM298.99 286.63h1.7v1.7h-1.7zM552.12 386.07h1.7v1.7h-1.7zM342.09 407.16h1.7v1.7h-1.7zM438.83 380.04h1.7v1.7h-1.7zM326.05 286.63h1.7v1.7h-1.7zM355.13 232.39h1.7v1.7h-1.7zM335.58 277.59h1.7v1.7h-1.7zM396.23 398.12h1.7v1.7h-1.7zM332.57 367.99h1.7v1.7h-1.7zM366.15 398.12h1.7v1.7h-1.7zM338.08 455.38h1.7v1.7h-1.7zM393.22 389.08h1.7v1.7h-1.7zM325.05 343.88h1.7v1.7h-1.7zM396.23 307.72h1.7v1.7h-1.7zM305.50 340.87h1.7v1.7h-1.7zM209.26 262.52h1.7v1.7h-1.7zM471.92 389.08h1.7v1.7h-1.7zM201.74 410.18h1.7v1.7h-1.7zM310.51 175.13h1.7v1.7h-1.7zM119.54 319.78h1.7v1.7h-1.7zM365.15 313.75h1.7v1.7h-1.7zM358.13 169.11h1.7v1.7h-1.7zM332.57 304.71h1.7v1.7h-1.7zM311.02 470.45h1.7v1.7h-1.7zM571.67 401.14h1.7v1.7h-1.7zM496.98 428.26h1.7v1.7h-1.7zM256.88 126.92h1.7v1.7h-1.7zM333.57 169.11h1.7v1.7h-1.7zM372.17 295.67h1.7v1.7h-1.7zM158.64 355.94h1.7v1.7h-1.7zM524.55 371.00h1.7v1.7h-1.7zM555.63 404.15h1.7v1.7h-1.7zM154.12 437.30h1.7v1.7h-1.7zM393.72 386.07h1.7v1.7h-1.7zM162.14 358.95h1.7v1.7h-1.7zM241.84 349.91h1.7v1.7h-1.7zM300.99 443.32h1.7v1.7h-1.7zM361.14 328.82h1.7v1.7h-1.7zM342.09 154.04h1.7v1.7h-1.7zM322.04 340.87h1.7v1.7h-1.7zM333.57 407.16h1.7v1.7h-1.7zM387.71 175.13h1.7v1.7h-1.7zM85.95 346.90h1.7v1.7h-1.7zM195.23 401.14h1.7v1.7h-1.7zM482.44 374.02h1.7v1.7h-1.7zM329.06 437.30h1.7v1.7h-1.7zM361.64 126.92h1.7v1.7h-1.7zM527.05 413.19h1.7v1.7h-1.7zM326.05 271.56h1.7v1.7h-1.7zM406.75 416.20h1.7v1.7h-1.7zM310.01 340.87h1.7v1.7h-1.7zM359.64 328.82h1.7v1.7h-1.7zM196.73 446.34h1.7v1.7h-1.7zM185.20 307.72h1.7v1.7h-1.7zM300.49 190.20h1.7v1.7h-1.7zM373.17 172.12h1.7v1.7h-1.7zM310.51 160.07h1.7v1.7h-1.7zM351.12 229.37h1.7v1.7h-1.7zM480.44 395.11h1.7v1.7h-1.7zM294.47 226.36h1.7v1.7h-1.7zM300.99 135.96h1.7v1.7h-1.7zM408.76 325.80h1.7v1.7h-1.7zM340.09 253.48h1.7v1.7h-1.7zM340.09 346.90h1.7v1.7h-1.7zM343.10 148.01h1.7v1.7h-1.7zM136.08 343.88h1.7v1.7h-1.7zM335.08 256.49h1.7v1.7h-1.7zM88.96 416.20h1.7v1.7h-1.7zM397.73 358.95h1.7v1.7h-1.7zM178.19 247.45h1.7v1.7h-1.7zM321.04 235.40h1.7v1.7h-1.7zM408.76 244.44h1.7v1.7h-1.7zM148.61 289.64h1.7v1.7h-1.7zM330.06 184.17h1.7v1.7h-1.7zM293.47 145.00h1.7v1.7h-1.7zM297.48 398.12h1.7v1.7h-1.7zM403.75 187.19h1.7v1.7h-1.7zM356.63 217.32h1.7v1.7h-1.7zM544.60 247.45h1.7v1.7h-1.7zM359.14 244.44h1.7v1.7h-1.7zM329.06 343.88h1.7v1.7h-1.7zM499.99 392.10h1.7v1.7h-1.7zM325.05 138.97h1.7v1.7h-1.7zM310.51 358.95h1.7v1.7h-1.7zM321.04 361.96h1.7v1.7h-1.7zM326.55 196.23h1.7v1.7h-1.7zM196.23 310.74h1.7v1.7h-1.7zM213.27 313.75h1.7v1.7h-1.7zM99.99 355.94h1.7v1.7h-1.7zM102.00 283.61h1.7v1.7h-1.7zM210.77 419.22h1.7v1.7h-1.7zM320.04 389.08h1.7v1.7h-1.7zM283.95 268.55h1.7v1.7h-1.7zM127.56 386.07h1.7v1.7h-1.7zM335.58 380.04h1.7v1.7h-1.7zM337.58 334.84h1.7v1.7h-1.7zM350.61 250.47h1.7v1.7h-1.7zM201.24 407.16h1.7v1.7h-1.7zM327.06 202.25h1.7v1.7h-1.7zM267.41 178.15h1.7v1.7h-1.7zM338.58 355.94h1.7v1.7h-1.7zM270.92 169.11h1.7v1.7h-1.7zM80.94 346.90h1.7v1.7h-1.7zM332.07 214.31h1.7v1.7h-1.7zM156.13 374.02h1.7v1.7h-1.7zM510.01 325.80h1.7v1.7h-1.7zM407.76 422.23h1.7v1.7h-1.7zM354.62 238.41h1.7v1.7h-1.7zM319.04 389.08h1.7v1.7h-1.7zM281.94 295.67h1.7v1.7h-1.7zM323.55 431.27h1.7v1.7h-1.7zM356.63 367.99h1.7v1.7h-1.7zM332.57 374.02h1.7v1.7h-1.7zM303.00 126.92h1.7v1.7h-1.7zM207.26 322.79h1.7v1.7h-1.7zM321.04 154.04h1.7v1.7h-1.7zM314.02 253.48h1.7v1.7h-1.7zM338.58 232.39h1.7v1.7h-1.7zM276.93 443.32h1.7v1.7h-1.7zM97.48 422.23h1.7v1.7h-1.7zM313.02 229.37h1.7v1.7h-1.7zM408.26 337.86h1.7v1.7h-1.7zM483.45 352.92h1.7v1.7h-1.7zM180.19 392.10h1.7v1.7h-1.7zM288.46 304.71h1.7v1.7h-1.7zM228.81 386.07h1.7v1.7h-1.7zM378.18 346.90h1.7v1.7h-1.7zM421.29 244.44h1.7v1.7h-1.7zM296.48 132.94h1.7v1.7h-1.7zM545.60 416.20h1.7v1.7h-1.7zM321.54 172.12h1.7v1.7h-1.7zM377.68 518.66h1.7v1.7h-1.7zM521.54 401.14h1.7v1.7h-1.7zM291.97 349.91h1.7v1.7h-1.7zM215.78 313.75h1.7v1.7h-1.7zM335.08 286.63h1.7v1.7h-1.7zM455.88 334.84h1.7v1.7h-1.7zM76.43 398.12h1.7v1.7h-1.7zM303.00 120.89h1.7v1.7h-1.7zM389.21 410.18h1.7v1.7h-1.7zM429.31 310.74h1.7v1.7h-1.7zM112.02 416.20h1.7v1.7h-1.7zM213.27 298.68h1.7v1.7h-1.7zM324.05 208.28h1.7v1.7h-1.7zM304.50 181.16h1.7v1.7h-1.7zM353.62 196.23h1.7v1.7h-1.7zM256.38 352.92h1.7v1.7h-1.7zM270.41 340.87h1.7v1.7h-1.7zM283.45 313.75h1.7v1.7h-1.7zM349.61 235.40h1.7v1.7h-1.7zM319.04 307.72h1.7v1.7h-1.7zM392.72 223.35h1.7v1.7h-1.7zM118.54 289.64h1.7v1.7h-1.7zM292.97 361.96h1.7v1.7h-1.7zM308.01 235.40h1.7v1.7h-1.7zM338.08 229.37h1.7v1.7h-1.7zM440.34 358.95h1.7v1.7h-1.7zM341.59 259.51h1.7v1.7h-1.7zM311.52 322.79h1.7v1.7h-1.7zM568.66 380.04h1.7v1.7h-1.7zM284.45 129.93h1.7v1.7h-1.7zM546.10 129.93h1.7v1.7h-1.7zM558.13 380.04h1.7v1.7h-1.7zM549.61 404.15h1.7v1.7h-1.7zM322.54 238.41h1.7v1.7h-1.7zM323.55 244.44h1.7v1.7h-1.7zM559.64 364.98h1.7v1.7h-1.7zM318.03 247.45h1.7v1.7h-1.7zM323.55 202.25h1.7v1.7h-1.7zM379.69 401.14h1.7v1.7h-1.7zM340.59 141.99h1.7v1.7h-1.7zM426.80 211.29h1.7v1.7h-1.7zM228.81 292.65h1.7v1.7h-1.7zM354.62 99.80h1.7v1.7h-1.7zM341.59 187.19h1.7v1.7h-1.7zM335.08 280.60h1.7v1.7h-1.7zM103.00 380.04h1.7v1.7h-1.7zM283.95 322.79h1.7v1.7h-1.7zM270.92 141.99h1.7v1.7h-1.7zM198.23 340.87h1.7v1.7h-1.7zM558.63 304.71h1.7v1.7h-1.7zM527.05 398.12h1.7v1.7h-1.7zM329.56 307.72h1.7v1.7h-1.7zM365.15 437.30h1.7v1.7h-1.7zM310.51 208.28h1.7v1.7h-1.7zM260.39 190.20h1.7v1.7h-1.7zM344.60 307.72h1.7v1.7h-1.7zM256.88 355.94h1.7v1.7h-1.7zM286.96 217.32h1.7v1.7h-1.7zM316.03 355.94h1.7v1.7h-1.7zM319.54 268.55h1.7v1.7h-1.7zM342.59 120.89h1.7v1.7h-1.7zM438.33 349.91h1.7v1.7h-1.7zM364.15 416.20h1.7v1.7h-1.7zM268.41 398.12h1.7v1.7h-1.7zM323.05 268.55h1.7v1.7h-1.7zM158.64 413.19h1.7v1.7h-1.7zM312.02 141.99h1.7v1.7h-1.7zM524.05 325.80h1.7v1.7h-1.7zM317.53 416.20h1.7v1.7h-1.7zM323.05 310.74h1.7v1.7h-1.7zM518.03 371.00h1.7v1.7h-1.7zM369.66 208.28h1.7v1.7h-1.7zM380.69 274.57h1.7v1.7h-1.7zM100.99 205.27h1.7v1.7h-1.7zM419.79 404.15h1.7v1.7h-1.7zM314.52 181.16h1.7v1.7h-1.7zM324.05 154.04h1.7v1.7h-1.7zM283.95 166.09h1.7v1.7h-1.7zM441.84 319.78h1.7v1.7h-1.7zM319.54 244.44h1.7v1.7h-1.7zM303.50 355.94h1.7v1.7h-1.7zM370.16 247.45h1.7v1.7h-1.7zM277.93 380.04h1.7v1.7h-1.7zM227.81 425.24h1.7v1.7h-1.7zM167.16 380.04h1.7v1.7h-1.7zM187.71 331.83h1.7v1.7h-1.7zM303.50 380.04h1.7v1.7h-1.7zM347.61 202.25h1.7v1.7h-1.7zM342.59 241.43h1.7v1.7h-1.7zM102.50 401.14h1.7v1.7h-1.7zM237.33 346.90h1.7v1.7h-1.7zM83.45 301.70h1.7v1.7h-1.7zM514.52 386.07h1.7v1.7h-1.7zM408.26 355.94h1.7v1.7h-1.7zM398.73 410.18h1.7v1.7h-1.7zM382.69 358.95h1.7v1.7h-1.7zM284.45 277.59h1.7v1.7h-1.7zM278.43 241.43h1.7v1.7h-1.7zM193.22 352.92h1.7v1.7h-1.7zM124.55 395.11h1.7v1.7h-1.7zM258.89 328.82h1.7v1.7h-1.7zM401.24 422.23h1.7v1.7h-1.7zM314.02 232.39h1.7v1.7h-1.7zM162.65 380.04h1.7v1.7h-1.7zM193.72 416.20h1.7v1.7h-1.7zM227.81 389.08h1.7v1.7h-1.7zM280.94 352.92h1.7v1.7h-1.7zM217.78 383.06h1.7v1.7h-1.7zM216.28 401.14h1.7v1.7h-1.7zM117.53 410.18h1.7v1.7h-1.7zM169.66 374.02h1.7v1.7h-1.7zM477.93 346.90h1.7v1.7h-1.7zM339.09 232.39h1.7v1.7h-1.7zM472.42 304.71h1.7v1.7h-1.7zM529.06 361.96h1.7v1.7h-1.7zM312.02 328.82h1.7v1.7h-1.7zM452.37 392.10h1.7v1.7h-1.7zM306.50 163.08h1.7v1.7h-1.7zM98.99 395.11h1.7v1.7h-1.7zM505.00 277.59h1.7v1.7h-1.7zM308.01 268.55h1.7v1.7h-1.7zM419.29 349.91h1.7v1.7h-1.7zM327.06 241.43h1.7v1.7h-1.7zM295.98 340.87h1.7v1.7h-1.7zM222.29 328.82h1.7v1.7h-1.7zM347.11 422.23h1.7v1.7h-1.7zM348.61 163.08h1.7v1.7h-1.7zM328.06 141.99h1.7v1.7h-1.7zM223.30 398.12h1.7v1.7h-1.7zM334.07 328.82h1.7v1.7h-1.7zM437.33 337.86h1.7v1.7h-1.7zM348.11 346.90h1.7v1.7h-1.7zM326.55 223.35h1.7v1.7h-1.7zM310.01 343.88h1.7v1.7h-1.7zM318.53 157.05h1.7v1.7h-1.7zM458.88 392.10h1.7v1.7h-1.7zM324.05 401.14h1.7v1.7h-1.7zM369.66 108.84h1.7v1.7h-1.7zM325.05 220.33h1.7v1.7h-1.7zM316.03 126.92h1.7v1.7h-1.7zM421.79 310.74h1.7v1.7h-1.7zM382.19 404.15h1.7v1.7h-1.7zM335.58 214.31h1.7v1.7h-1.7zM364.65 319.78h1.7v1.7h-1.7zM503.50 355.94h1.7v1.7h-1.7zM289.46 214.31h1.7v1.7h-1.7zM378.68 389.08h1.7v1.7h-1.7zM315.53 205.27h1.7v1.7h-1.7zM289.46 389.08h1.7v1.7h-1.7zM228.31 404.15h1.7v1.7h-1.7zM561.64 401.14h1.7v1.7h-1.7zM327.06 395.11h1.7v1.7h-1.7zM309.01 286.63h1.7v1.7h-1.7zM99.49 410.18h1.7v1.7h-1.7zM145.10 310.74h1.7v1.7h-1.7zM222.29 392.10h1.7v1.7h-1.7zM334.07 371.00h1.7v1.7h-1.7zM356.63 358.95h1.7v1.7h-1.7zM193.22 374.02h1.7v1.7h-1.7zM346.10 280.60h1.7v1.7h-1.7zM313.02 283.61h1.7v1.7h-1.7zM253.37 380.04h1.7v1.7h-1.7zM321.04 295.67h1.7v1.7h-1.7zM304.50 383.06h1.7v1.7h-1.7zM340.09 244.44h1.7v1.7h-1.7zM390.21 217.32h1.7v1.7h-1.7zM328.56 108.84h1.7v1.7h-1.7zM509.01 304.71h1.7v1.7h-1.7zM129.06 298.68h1.7v1.7h-1.7zM98.99 410.18h1.7v1.7h-1.7zM326.05 256.49h1.7v1.7h-1.7zM126.56 383.06h1.7v1.7h-1.7zM477.93 310.74h1.7v1.7h-1.7zM320.04 154.04h1.7v1.7h-1.7zM164.65 389.08h1.7v1.7h-1.7zM188.21 349.91h1.7v1.7h-1.7zM330.06 298.68h1.7v1.7h-1.7zM315.03 232.39h1.7v1.7h-1.7zM165.15 398.12h1.7v1.7h-1.7zM224.80 310.74h1.7v1.7h-1.7zM272.42 292.65h1.7v1.7h-1.7zM132.07 419.22h1.7v1.7h-1.7zM84.95 346.90h1.7v1.7h-1.7zM326.55 166.09h1.7v1.7h-1.7zM326.55 310.74h1.7v1.7h-1.7zM272.42 283.61h1.7v1.7h-1.7zM307.51 172.12h1.7v1.7h-1.7zM330.06 295.67h1.7v1.7h-1.7zM162.14 383.06h1.7v1.7h-1.7zM146.10 349.91h1.7v1.7h-1.7zM269.41 259.51h1.7v1.7h-1.7zM511.01 392.10h1.7v1.7h-1.7zM376.68 265.53h1.7v1.7h-1.7zM315.03 211.29h1.7v1.7h-1.7zM391.72 328.82h1.7v1.7h-1.7zM402.24 428.26h1.7v1.7h-1.7zM280.94 262.52h1.7v1.7h-1.7zM355.63 280.60h1.7v1.7h-1.7zM295.98 343.88h1.7v1.7h-1.7zM146.61 355.94h1.7v1.7h-1.7zM318.53 96.78h1.7v1.7h-1.7zM366.65 114.86h1.7v1.7h-1.7zM309.01 226.36h1.7v1.7h-1.7zM390.21 163.08h1.7v1.7h-1.7zM282.44 410.18h1.7v1.7h-1.7zM324.05 250.47h1.7v1.7h-1.7zM208.76 377.03h1.7v1.7h-1.7zM337.08 178.15h1.7v1.7h-1.7zM360.64 259.51h1.7v1.7h-1.7zM385.70 238.41h1.7v1.7h-1.7zM294.47 256.49h1.7v1.7h-1.7zM171.67 346.90h1.7v1.7h-1.7zM360.14 190.20h1.7v1.7h-1.7zM329.56 220.33h1.7v1.7h-1.7zM117.53 404.15h1.7v1.7h-1.7zM126.06 380.04h1.7v1.7h-1.7zM335.58 280.60h1.7v1.7h-1.7zM297.98 90.76h1.7v1.7h-1.7zM352.12 286.63h1.7v1.7h-1.7zM562.64 377.03h1.7v1.7h-1.7zM322.54 268.55h1.7v1.7h-1.7zM314.02 328.82h1.7v1.7h-1.7zM332.57 160.07h1.7v1.7h-1.7zM303.50 253.48h1.7v1.7h-1.7zM342.59 138.97h1.7v1.7h-1.7zM338.58 166.09h1.7v1.7h-1.7zM230.31 319.78h1.7v1.7h-1.7zM198.23 328.82h1.7v1.7h-1.7zM416.28 307.72h1.7v1.7h-1.7zM290.97 262.52h1.7v1.7h-1.7zM347.61 193.21h1.7v1.7h-1.7zM387.71 506.61h1.7v1.7h-1.7zM324.55 205.27h1.7v1.7h-1.7zM318.03 202.25h1.7v1.7h-1.7zM300.99 404.15h1.7v1.7h-1.7zM354.12 398.12h1.7v1.7h-1.7zM292.97 205.27h1.7v1.7h-1.7zM136.58 307.72h1.7v1.7h-1.7zM255.88 352.92h1.7v1.7h-1.7zM514.02 416.20h1.7v1.7h-1.7zM286.45 235.40h1.7v1.7h-1.7zM115.03 395.11h1.7v1.7h-1.7zM259.39 383.06h1.7v1.7h-1.7zM393.22 407.16h1.7v1.7h-1.7zM444.85 398.12h1.7v1.7h-1.7zM320.54 196.23h1.7v1.7h-1.7zM358.63 154.04h1.7v1.7h-1.7zM336.58 371.00h1.7v1.7h-1.7zM348.11 371.00h1.7v1.7h-1.7zM535.07 419.22h1.7v1.7h-1.7zM277.43 196.23h1.7v1.7h-1.7zM331.07 208.28h1.7v1.7h-1.7zM212.27 383.06h1.7v1.7h-1.7zM525.05 440.31h1.7v1.7h-1.7zM315.53 163.08h1.7v1.7h-1.7zM324.55 401.14h1.7v1.7h-1.7zM427.31 392.10h1.7v1.7h-1.7zM222.80 274.57h1.7v1.7h-1.7zM320.04 325.80h1.7v1.7h-1.7zM385.70 301.70h1.7v1.7h-1.7zM351.62 265.53h1.7v1.7h-1.7zM344.10 120.89h1.7v1.7h-1.7zM154.63 334.84h1.7v1.7h-1.7zM291.97 244.44h1.7v1.7h-1.7zM321.54 223.35h1.7v1.7h-1.7zM445.85 386.07h1.7v1.7h-1.7zM315.03 280.60h1.7v1.7h-1.7zM129.06 389.08h1.7v1.7h-1.7zM261.39 301.70h1.7v1.7h-1.7zM319.54 232.39h1.7v1.7h-1.7zM97.98 316.76h1.7v1.7h-1.7zM307.01 232.39h1.7v1.7h-1.7zM530.06 325.80h1.7v1.7h-1.7zM409.26 319.78h1.7v1.7h-1.7zM346.60 262.52h1.7v1.7h-1.7zM116.53 386.07h1.7v1.7h-1.7zM77.94 310.74h1.7v1.7h-1.7zM263.40 223.35h1.7v1.7h-1.7zM351.62 292.65h1.7v1.7h-1.7zM167.16 371.00h1.7v1.7h-1.7zM567.15 316.76h1.7v1.7h-1.7zM303.50 202.25h1.7v1.7h-1.7zM311.52 148.01h1.7v1.7h-1.7zM564.65 352.92h1.7v1.7h-1.7zM266.91 238.41h1.7v1.7h-1.7zM230.31 220.33h1.7v1.7h-1.7zM305.50 328.82h1.7v1.7h-1.7zM359.64 292.65h1.7v1.7h-1.7zM137.08 398.12h1.7v1.7h-1.7zM309.51 187.19h1.7v1.7h-1.7zM331.57 295.67h1.7v1.7h-1.7zM290.46 205.27h1.7v1.7h-1.7zM306.00 241.43h1.7v1.7h-1.7zM558.13 383.06h1.7v1.7h-1.7zM324.05 160.07h1.7v1.7h-1.7zM323.55 253.48h1.7v1.7h-1.7zM264.90 304.71h1.7v1.7h-1.7zM96.98 377.03h1.7v1.7h-1.7zM299.99 352.92h1.7v1.7h-1.7zM315.03 256.49h1.7v1.7h-1.7zM291.97 401.14h1.7v1.7h-1.7zM325.05 289.64h1.7v1.7h-1.7zM335.58 434.28h1.7v1.7h-1.7zM414.27 307.72h1.7v1.7h-1.7zM313.02 87.74h1.7v1.7h-1.7zM399.24 328.82h1.7v1.7h-1.7zM143.60 181.16h1.7v1.7h-1.7zM428.81 367.99h1.7v1.7h-1.7zM200.24 392.10h1.7v1.7h-1.7zM534.07 401.14h1.7v1.7h-1.7zM181.19 413.19h1.7v1.7h-1.7zM408.76 428.26h1.7v1.7h-1.7zM363.15 148.01h1.7v1.7h-1.7zM483.95 196.23h1.7v1.7h-1.7zM402.24 169.11h1.7v1.7h-1.7zM471.92 380.04h1.7v1.7h-1.7zM564.65 419.22h1.7v1.7h-1.7zM122.55 220.33h1.7v1.7h-1.7zM108.51 313.75h1.7v1.7h-1.7zM399.24 349.91h1.7v1.7h-1.7zM329.56 202.25h1.7v1.7h-1.7zM353.12 271.56h1.7v1.7h-1.7zM402.24 157.05h1.7v1.7h-1.7zM205.75 235.40h1.7v1.7h-1.7zM330.06 404.15h1.7v1.7h-1.7zM502.49 371.00h1.7v1.7h-1.7zM130.06 422.23h1.7v1.7h-1.7zM188.71 361.96h1.7v1.7h-1.7zM418.78 440.31h1.7v1.7h-1.7zM306.00 181.16h1.7v1.7h-1.7zM320.54 325.80h1.7v1.7h-1.7zM96.48 241.43h1.7v1.7h-1.7zM567.66 416.20h1.7v1.7h-1.7zM216.78 259.51h1.7v1.7h-1.7zM323.55 141.99h1.7v1.7h-1.7zM189.71 316.76h1.7v1.7h-1.7zM290.97 325.80h1.7v1.7h-1.7zM519.03 410.18h1.7v1.7h-1.7zM178.19 280.60h1.7v1.7h-1.7zM341.09 223.35h1.7v1.7h-1.7zM424.80 232.39h1.7v1.7h-1.7zM292.47 265.53h1.7v1.7h-1.7zM321.54 229.37h1.7v1.7h-1.7zM305.50 253.48h1.7v1.7h-1.7zM119.54 386.07h1.7v1.7h-1.7zM336.58 331.83h1.7v1.7h-1.7zM357.63 214.31h1.7v1.7h-1.7zM359.64 151.03h1.7v1.7h-1.7zM159.14 310.74h1.7v1.7h-1.7zM270.92 238.41h1.7v1.7h-1.7zM390.21 271.56h1.7v1.7h-1.7zM343.60 187.19h1.7v1.7h-1.7zM464.90 355.94h1.7v1.7h-1.7zM523.04 322.79h1.7v1.7h-1.7zM313.52 163.08h1.7v1.7h-1.7zM568.16 337.86h1.7v1.7h-1.7zM293.47 271.56h1.7v1.7h-1.7zM300.49 175.13h1.7v1.7h-1.7zM402.24 304.71h1.7v1.7h-1.7zM320.04 196.23h1.7v1.7h-1.7zM166.16 334.84h1.7v1.7h-1.7zM289.46 401.14h1.7v1.7h-1.7zM392.72 307.72h1.7v1.7h-1.7zM288.96 274.57h1.7v1.7h-1.7zM397.73 238.41h1.7v1.7h-1.7zM346.60 334.84h1.7v1.7h-1.7zM499.99 392.10h1.7v1.7h-1.7zM325.55 371.00h1.7v1.7h-1.7zM92.97 349.91h1.7v1.7h-1.7zM338.58 331.83h1.7v1.7h-1.7zM341.59 262.52h1.7v1.7h-1.7zM119.04 425.24h1.7v1.7h-1.7zM354.12 172.12h1.7v1.7h-1.7zM340.09 235.40h1.7v1.7h-1.7zM172.67 364.98h1.7v1.7h-1.7zM531.06 307.72h1.7v1.7h-1.7zM315.03 389.08h1.7v1.7h-1.7zM327.56 126.92h1.7v1.7h-1.7zM287.96 292.65h1.7v1.7h-1.7zM372.67 226.36h1.7v1.7h-1.7zM309.01 184.17h1.7v1.7h-1.7zM291.97 202.25h1.7v1.7h-1.7zM376.68 135.96h1.7v1.7h-1.7zM229.31 304.71h1.7v1.7h-1.7zM132.07 398.12h1.7v1.7h-1.7zM131.57 419.22h1.7v1.7h-1.7zM375.68 298.68h1.7v1.7h-1.7zM106.00 395.11h1.7v1.7h-1.7zM225.30 358.95h1.7v1.7h-1.7zM422.79 437.30h1.7v1.7h-1.7zM322.04 205.27h1.7v1.7h-1.7zM304.50 458.39h1.7v1.7h-1.7zM207.76 395.11h1.7v1.7h-1.7zM194.73 374.02h1.7v1.7h-1.7zM331.07 223.35h1.7v1.7h-1.7zM364.15 247.45h1.7v1.7h-1.7zM505.50 380.04h1.7v1.7h-1.7zM535.07 337.86h1.7v1.7h-1.7zM468.41 383.06h1.7v1.7h-1.7zM364.65 352.92h1.7v1.7h-1.7zM260.39 229.37h1.7v1.7h-1.7zM283.45 358.95h1.7v1.7h-1.7zM370.16 413.19h1.7v1.7h-1.7zM332.57 392.10h1.7v1.7h-1.7zM405.75 280.60h1.7v1.7h-1.7zM298.99 419.22h1.7v1.7h-1.7zM93.47 398.12h1.7v1.7h-1.7zM333.07 274.57h1.7v1.7h-1.7zM346.60 238.41h1.7v1.7h-1.7zM310.01 331.83h1.7v1.7h-1.7zM211.77 428.26h1.7v1.7h-1.7zM260.89 138.97h1.7v1.7h-1.7zM266.91 398.12h1.7v1.7h-1.7zM329.56 268.55h1.7v1.7h-1.7zM192.22 413.19h1.7v1.7h-1.7zM131.07 398.12h1.7v1.7h-1.7zM521.04 428.26h1.7v1.7h-1.7zM200.74 175.13h1.7v1.7h-1.7zM103.50 419.22h1.7v1.7h-1.7zM261.39 286.63h1.7v1.7h-1.7zM240.34 352.92h1.7v1.7h-1.7zM344.60 374.02h1.7v1.7h-1.7zM168.16 355.94h1.7v1.7h-1.7zM475.43 413.19h1.7v1.7h-1.7zM395.23 377.03h1.7v1.7h-1.7zM525.55 253.48h1.7v1.7h-1.7zM382.69 286.63h1.7v1.7h-1.7zM409.76 247.45h1.7v1.7h-1.7zM571.67 343.88h1.7v1.7h-1.7zM324.05 377.03h1.7v1.7h-1.7zM79.94 355.94h1.7v1.7h-1.7zM328.56 244.44h1.7v1.7h-1.7zM343.10 187.19h1.7v1.7h-1.7zM391.22 349.91h1.7v1.7h-1.7zM244.85 392.10h1.7v1.7h-1.7zM254.37 325.80h1.7v1.7h-1.7zM345.60 292.65h1.7v1.7h-1.7zM377.68 473.46h1.7v1.7h-1.7zM326.05 223.35h1.7v1.7h-1.7zM107.51 328.82h1.7v1.7h-1.7zM282.44 283.61h1.7v1.7h-1.7zM451.87 434.28h1.7v1.7h-1.7zM372.17 377.03h1.7v1.7h-1.7zM316.53 262.52h1.7v1.7h-1.7zM300.99 271.56h1.7v1.7h-1.7zM274.93 325.80h1.7v1.7h-1.7zM258.38 404.15h1.7v1.7h-1.7zM152.62 346.90h1.7v1.7h-1.7zM325.05 181.16h1.7v1.7h-1.7zM96.98 241.43h1.7v1.7h-1.7zM476.43 374.02h1.7v1.7h-1.7zM562.64 355.94h1.7v1.7h-1.7zM316.53 214.31h1.7v1.7h-1.7zM104.00 398.12h1.7v1.7h-1.7zM321.54 202.25h1.7v1.7h-1.7zM259.89 343.88h1.7v1.7h-1.7zM290.46 283.61h1.7v1.7h-1.7zM298.48 283.61h1.7v1.7h-1.7zM284.45 211.29h1.7v1.7h-1.7zM307.01 361.96h1.7v1.7h-1.7zM343.10 238.41h1.7v1.7h-1.7zM115.53 386.07h1.7v1.7h-1.7zM491.97 410.18h1.7v1.7h-1.7zM149.11 319.78h1.7v1.7h-1.7zM233.82 331.83h1.7v1.7h-1.7zM311.52 334.84h1.7v1.7h-1.7zM394.22 265.53h1.7v1.7h-1.7zM237.83 322.79h1.7v1.7h-1.7zM280.44 256.49h1.7v1.7h-1.7zM368.16 395.11h1.7v1.7h-1.7zM91.47 367.99h1.7v1.7h-1.7zM147.11 334.84h1.7v1.7h-1.7zM135.58 355.94h1.7v1.7h-1.7zM319.54 325.80h1.7v1.7h-1.7zM408.26 274.57h1.7v1.7h-1.7zM334.07 160.07h1.7v1.7h-1.7zM336.08 160.07h1.7v1.7h-1.7zM336.08 295.67h1.7v1.7h-1.7zM382.19 307.72h1.7v1.7h-1.7zM103.00 374.02h1.7v1.7h-1.7zM153.12 364.98h1.7v1.7h-1.7zM293.97 268.55h1.7v1.7h-1.7zM128.56 401.14h1.7v1.7h-1.7zM569.66 395.11h1.7v1.7h-1.7zM358.13 190.20h1.7v1.7h-1.7zM353.12 316.76h1.7v1.7h-1.7zM306.00 223.35h1.7v1.7h-1.7zM341.09 533.73h1.7v1.7h-1.7zM81.94 226.36h1.7v1.7h-1.7zM211.77 395.11h1.7v1.7h-1.7zM332.07 389.08h1.7v1.7h-1.7zM115.03 410.18h1.7v1.7h-1.7zM163.15 431.27h1.7v1.7h-1.7zM186.20 235.40h1.7v1.7h-1.7zM87.46 277.59h1.7v1.7h-1.7zM321.04 271.56h1.7v1.7h-1.7zM311.52 157.05h1.7v1.7h-1.7zM337.58 271.56h1.7v1.7h-1.7zM338.58 241.43h1.7v1.7h-1.7zM492.97 389.08h1.7v1.7h-1.7zM303.50 349.91h1.7v1.7h-1.7zM179.69 298.68h1.7v1.7h-1.7zM119.04 392.10h1.7v1.7h-1.7zM245.35 380.04h1.7v1.7h-1.7zM116.03 259.51h1.7v1.7h-1.7zM344.10 211.29h1.7v1.7h-1.7zM110.01 334.84h1.7v1.7h-1.7zM167.66 316.76h1.7v1.7h-1.7zM97.98 277.59h1.7v1.7h-1.7zM315.03 364.98h1.7v1.7h-1.7zM528.56 407.16h1.7v1.7h-1.7zM269.91 304.71h1.7v1.7h-1.7zM331.57 374.02h1.7v1.7h-1.7zM436.33 331.83h1.7v1.7h-1.7zM551.11 392.10h1.7v1.7h-1.7zM385.20 181.16h1.7v1.7h-1.7zM321.54 163.08h1.7v1.7h-1.7zM261.39 178.15h1.7v1.7h-1.7zM306.50 419.22h1.7v1.7h-1.7zM326.55 154.04h1.7v1.7h-1.7zM376.68 443.32h1.7v1.7h-1.7zM508.01 346.90h1.7v1.7h-1.7zM470.41 371.00h1.7v1.7h-1.7zM151.62 428.26h1.7v1.7h-1.7zM369.16 328.82h1.7v1.7h-1.7zM341.09 193.21h1.7v1.7h-1.7zM384.20 172.12h1.7v1.7h-1.7zM82.95 280.60h1.7v1.7h-1.7zM247.86 78.70h1.7v1.7h-1.7zM323.05 316.76h1.7v1.7h-1.7zM467.91 295.67h1.7v1.7h-1.7zM470.91 449.35h1.7v1.7h-1.7zM184.20 334.84h1.7v1.7h-1.7zM102.50 334.84h1.7v1.7h-1.7zM382.19 199.24h1.7v1.7h-1.7zM330.56 386.07h1.7v1.7h-1.7zM114.03 422.23h1.7v1.7h-1.7zM478.93 431.27h1.7v1.7h-1.7zM434.82 410.18h1.7v1.7h-1.7zM339.09 238.41h1.7v1.7h-1.7zM346.10 226.36h1.7v1.7h-1.7zM272.42 244.44h1.7v1.7h-1.7zM307.51 337.86h1.7v1.7h-1.7zM350.11 349.91h1.7v1.7h-1.7zM150.62 367.99h1.7v1.7h-1.7zM189.71 307.72h1.7v1.7h-1.7zM384.70 184.17h1.7v1.7h-1.7zM197.23 349.91h1.7v1.7h-1.7zM358.63 292.65h1.7v1.7h-1.7zM98.99 401.14h1.7v1.7h-1.7zM531.57 383.06h1.7v1.7h-1.7zM369.66 178.15h1.7v1.7h-1.7z" fill="#000"/>
<line x1="59.75" y1="307.07" x2="592.1" y2="307.07" stroke="#C81E23" stroke-width="2.25" stroke-dasharray="9 9" stroke-linecap="round"/>
<line x1="291.06" y1="580.2" x2="291.06" y2="47.75" stroke="#006400" stroke-width="2.25" stroke-dasharray="9 9" stroke-linecap="round"/>
<line x1="359.74" y1="580.2" x2="359.74" y2="47.75" stroke="#006400" stroke-width="2.25" stroke-dasharray="9 9" stroke-linecap="round"/>
<rect x="699.75" y="47.75" width="532.35" height="532.45" fill="none" stroke="#000" stroke-width="1"/>
<path d="M748.5 580.2H1182.5M748.5 580.2V586.4M857 580.2V586.4M965.5 580.2V586.4M1074 580.2V586.4M1182.5 580.2V586.4M699.75 535.4V48.5M699.75 535.4H693.55M699.75 454.25H693.55M699.75 373.1H693.55M699.75 291.95H693.55M699.75 210.8H693.55M699.75 129.65H693.55M699.75 48.5H693.55" stroke="#000" stroke-width="1" fill="none"/>
<text x="748.5" y="601.7" text-anchor="middle" font-size="10.8" fill="#000">-400</text>
<text x="857" y="601.7" text-anchor="middle" font-size="10.8" fill="#000">-200</text>
<text x="965.5" y="601.7" text-anchor="middle" font-size="10.8" fill="#000">0</text>
<text x="1074" y="601.7" text-anchor="middle" font-size="10.8" fill="#000">200</text>
<text x="1182.5" y="601.7" text-anchor="middle" font-size="10.8" fill="#000">400</text>
<text transform="translate(684.7,535.4) rotate(-90)" text-anchor="middle" font-size="10.8" fill="#000">70</text>
<text transform="translate(684.7,454.25) rotate(-90)" text-anchor="middle" font-size="10.8" fill="#000">75</text>
<text transform="translate(684.7,373.1) rotate(-90)" text-anchor="middle" font-size="10.8" fill="#000">80</text>
<text transform="translate(684.7,291.95) rotate(-90)" text-anchor="middle" font-size="10.8" fill="#000">85</text>
<text transform="translate(684.7,210.8) rotate(-90)" text-anchor="middle" font-size="10.8" fill="#000">90</text>
<text transform="translate(684.7,129.65) rotate(-90)" text-anchor="middle" font-size="10.8" fill="#000">95</text>
<text transform="translate(684.7,48.5) rotate(-90)" text-anchor="middle" font-size="10.8" fill="#000">100</text>
<text x="965.92" y="625.6" text-anchor="middle" font-size="16.05" fill="#000">Distance to peak summit</text>
<text transform="translate(661.9,313.98) rotate(-90)" text-anchor="middle" font-size="16.05" fill="#000">Motif score</text>
<text x="799.4" y="31.7" text-anchor="start" font-size="21.55" font-weight="bold" fill="#000">Density heat map for the top hits</text>
<defs><filter id="hmf" filterUnits="userSpaceOnUse" x="669.75" y="17.75" width="592.35" height="592.45" color-interpolation-filters="sRGB">
<feGaussianBlur stdDeviation="3.85"/>
<feComponentTransfer><feFuncR type="table" tableValues="1 0 1"/><feFuncG type="table" tableValues="1 0 0"/><feFuncB type="table" tableValues="1 1 0"/><feFuncA type="linear" slope="0" intercept="1"/></feComponentTransfer>
</filter><clipPath id="hmc"><rect x="699.75" y="47.75" width="532.35" height="532.45"/></clipPath></defs>
<g clip-path="url(#hmc)"><g filter="url(#hmf)"><rect x="678.75" y="26.75" width="581" height="581" fill="#000"/><path fill="rgb(1,1,1)" d="M846.75 26.75h35v7h-35zM1049.75 26.75h35v7h-35zM839.75 33.75h42v7h-42zM1056.75 33.75h35v7h-35zM832.75 40.75h42v7h-42zM1056.75 40.75h42v7h-42zM832.75 47.75h35v7h-35zM1063.75 47.75h35v7h-35zM825.75 54.75h35v7h-35zM1070.75 54.75h35v7h-35zM811.75 61.75h42v7h-42zM1077.75 61.75h35v7h-35zM804.75 68.75h42v7h-42zM1084.75 68.75h35v7h-35zM797.75 75.75h42v7h-42zM1091.75 75.75h35v7h-35zM734.75 82.75h14v7h-14zM790.75 82.75h49v7h-49zM1091.75 82.75h42v7h-42zM706.75 89.75h126v7h-126zM1098.75 89.75h49v7h-49zM1175.75 89.75h49v7h-49zM678.75 96.75h147v7h-147zM1105.75 96.75h154v7h-154zM678.75 103.75h140v7h-140zM1105.75 103.75h154v7h-154zM678.75 110.75h133v7h-133zM1112.75 110.75h147v7h-147zM678.75 117.75h126v7h-126zM1119.75 117.75h140v7h-140zM678.75 124.75h56v7h-56zM741.75 124.75h56v7h-56zM1126.75 124.75h133v7h-133zM678.75 131.75h35v7h-35zM776.75 131.75h7v7h-7zM1133.75 131.75h49v7h-49zM1217.75 131.75h42v7h-42zM678.75 138.75h14v7h-14zM1238.75 138.75h21v7h-21zM678.75 523.75h35v7h-35zM769.75 523.75h42v7h-42zM1021.75 523.75h119v7h-119zM678.75 530.75h581v7h-581zM678.75 537.75h581v7h-581zM678.75 544.75h581v7h-581zM678.75 551.75h581v7h-581zM713.75 558.75h63v7h-63zM804.75 558.75h126v7h-126zM951.75 558.75h21v7h-21zM1140.75 558.75h119v7h-119zM1189.75 565.75h28v7h-28z"/><path fill="rgb(2,2,2)" d="M881.75 26.75h14v7h-14zM1035.75 26.75h14v7h-14zM881.75 33.75h7v7h-7zM1042.75 33.75h14v7h-14zM874.75 40.75h7v7h-7zM1049.75 40.75h7v7h-7zM867.75 47.75h14v7h-14zM1056.75 47.75h7v7h-7zM860.75 54.75h7v7h-7zM1063.75 54.75h7v7h-7zM853.75 61.75h7v7h-7zM1070.75 61.75h7v7h-7zM846.75 68.75h7v7h-7zM1077.75 68.75h7v7h-7zM839.75 75.75h14v7h-14zM1084.75 75.75h7v7h-7zM839.75 82.75h7v7h-7zM1084.75 82.75h7v7h-7zM832.75 89.75h14v7h-14zM1091.75 89.75h7v7h-7zM825.75 96.75h14v7h-14zM1091.75 96.75h14v7h-14zM818.75 103.75h21v7h-21zM1091.75 103.75h14v7h-14zM811.75 110.75h28v7h-28zM1098.75 110.75h14v7h-14zM804.75 117.75h28v7h-28zM1098.75 117.75h21v7h-21zM734.75 124.75h7v7h-7zM797.75 124.75h35v7h-35zM1098.75 124.75h28v7h-28zM713.75 131.75h63v7h-63zM783.75 131.75h42v7h-42zM1105.75 131.75h28v7h-28zM1182.75 131.75h35v7h-35zM692.75 138.75h126v7h-126zM1105.75 138.75h133v7h-133zM678.75 145.75h126v7h-126zM1112.75 145.75h147v7h-147zM678.75 152.75h42v7h-42zM769.75 152.75h21v7h-21zM1126.75 152.75h63v7h-63zM1203.75 152.75h56v7h-56zM678.75 159.75h21v7h-21zM1231.75 159.75h28v7h-28zM678.75 509.75h35v7h-35zM776.75 509.75h28v7h-28zM1028.75 509.75h105v7h-105zM678.75 516.75h280v7h-280zM972.75 516.75h224v7h-224zM1203.75 516.75h56v7h-56zM713.75 523.75h56v7h-56zM811.75 523.75h210v7h-210zM1140.75 523.75h119v7h-119z"/><path fill="rgb(3,3,3)" d="M895.75 26.75h14v7h-14zM1028.75 26.75h7v7h-7zM888.75 33.75h14v7h-14zM1035.75 33.75h7v7h-7zM881.75 40.75h14v7h-14zM1042.75 40.75h7v7h-7zM881.75 47.75h7v7h-7zM1049.75 47.75h7v7h-7zM867.75 54.75h14v7h-14zM1056.75 54.75h7v7h-7zM860.75 61.75h7v7h-7zM1063.75 61.75h7v7h-7zM853.75 68.75h7v7h-7zM1070.75 68.75h7v7h-7zM853.75 75.75h7v7h-7zM1077.75 75.75h7v7h-7zM846.75 82.75h7v7h-7zM1077.75 82.75h7v7h-7zM846.75 89.75h7v7h-7zM1084.75 89.75h7v7h-7zM839.75 96.75h7v7h-7zM1084.75 96.75h7v7h-7zM839.75 103.75h7v7h-7zM1084.75 103.75h7v7h-7zM839.75 110.75h7v7h-7zM1091.75 110.75h7v7h-7zM832.75 117.75h7v7h-7zM1091.75 117.75h7v7h-7zM832.75 124.75h7v7h-7zM1091.75 124.75h7v7h-7zM825.75 131.75h7v7h-7zM1098.75 131.75h7v7h-7zM818.75 138.75h14v7h-14zM1098.75 138.75h7v7h-7zM804.75 145.75h21v7h-21zM1098.75 145.75h14v7h-14zM720.75 152.75h49v7h-49zM790.75 152.75h35v7h-35zM1105.75 152.75h21v7h-21zM1189.75 152.75h14v7h-14zM699.75 159.75h112v7h-112zM1105.75 159.75h126v7h-126zM678.75 166.75h49v7h-49zM755.75 166.75h42v7h-42zM1112.75 166.75h147v7h-147zM678.75 173.75h28v7h-28zM1133.75 173.75h35v7h-35zM1224.75 173.75h35v7h-35zM678.75 502.75h42v7h-42zM769.75 502.75h49v7h-49zM1021.75 502.75h119v7h-119zM713.75 509.75h63v7h-63zM804.75 509.75h224v7h-224zM1133.75 509.75h126v7h-126zM958.75 516.75h14v7h-14zM1196.75 516.75h7v7h-7z"/><path fill="rgb(4,4,4)" d="M909.75 26.75h7v7h-7zM1014.75 26.75h14v7h-14zM902.75 33.75h7v7h-7zM1021.75 33.75h14v7h-14zM895.75 40.75h7v7h-7zM1028.75 40.75h14v7h-14zM888.75 47.75h7v7h-7zM1042.75 47.75h7v7h-7zM1049.75 54.75h7v7h-7zM867.75 61.75h7v7h-7zM1056.75 61.75h7v7h-7zM860.75 68.75h7v7h-7zM1063.75 68.75h7v7h-7zM1070.75 75.75h7v7h-7zM853.75 82.75h7v7h-7zM1070.75 82.75h7v7h-7zM1077.75 89.75h7v7h-7zM846.75 96.75h7v7h-7zM1077.75 96.75h7v7h-7zM846.75 103.75h7v7h-7zM1084.75 110.75h7v7h-7zM839.75 117.75h7v7h-7zM1084.75 117.75h7v7h-7zM839.75 124.75h7v7h-7zM1084.75 124.75h7v7h-7zM832.75 131.75h7v7h-7zM1091.75 131.75h7v7h-7zM832.75 138.75h7v7h-7zM1091.75 138.75h7v7h-7zM825.75 145.75h14v7h-14zM1091.75 145.75h7v7h-7zM825.75 152.75h7v7h-7zM1098.75 152.75h7v7h-7zM811.75 159.75h21v7h-21zM1098.75 159.75h7v7h-7zM727.75 166.75h28v7h-28zM797.75 166.75h28v7h-28zM1098.75 166.75h14v7h-14zM706.75 173.75h105v7h-105zM1105.75 173.75h28v7h-28zM1168.75 173.75h56v7h-56zM678.75 180.75h42v7h-42zM762.75 180.75h35v7h-35zM1112.75 180.75h84v7h-84zM1203.75 180.75h56v7h-56zM678.75 187.75h28v7h-28zM1126.75 187.75h35v7h-35zM1231.75 187.75h28v7h-28zM678.75 495.75h35v7h-35zM776.75 495.75h28v7h-28zM1028.75 495.75h105v7h-105zM720.75 502.75h49v7h-49zM818.75 502.75h203v7h-203zM1140.75 502.75h119v7h-119z"/><path fill="rgb(5,5,5)" d="M916.75 26.75h14v7h-14zM1007.75 26.75h7v7h-7zM909.75 33.75h7v7h-7zM1014.75 33.75h7v7h-7zM902.75 40.75h7v7h-7zM1021.75 40.75h7v7h-7zM895.75 47.75h7v7h-7zM1035.75 47.75h7v7h-7zM881.75 54.75h7v7h-7zM1042.75 54.75h7v7h-7zM874.75 61.75h7v7h-7zM1049.75 61.75h7v7h-7zM867.75 68.75h7v7h-7zM860.75 75.75h7v7h-7zM1063.75 75.75h7v7h-7zM853.75 89.75h7v7h-7zM1070.75 89.75h7v7h-7zM853.75 96.75h7v7h-7zM1077.75 103.75h7v7h-7zM846.75 110.75h7v7h-7zM1077.75 110.75h7v7h-7zM846.75 117.75h7v7h-7zM839.75 131.75h7v7h-7zM1084.75 131.75h7v7h-7zM839.75 138.75h7v7h-7zM1084.75 138.75h7v7h-7zM832.75 152.75h7v7h-7zM1091.75 152.75h7v7h-7zM832.75 159.75h7v7h-7zM1091.75 159.75h7v7h-7zM825.75 166.75h7v7h-7zM811.75 173.75h21v7h-21zM1098.75 173.75h7v7h-7zM720.75 180.75h42v7h-42zM797.75 180.75h28v7h-28zM1098.75 180.75h14v7h-14zM1196.75 180.75h7v7h-7zM706.75 187.75h28v7h-28zM748.75 187.75h63v7h-63zM1105.75 187.75h21v7h-21zM1161.75 187.75h70v7h-70zM678.75 194.75h35v7h-35zM769.75 194.75h21v7h-21zM1112.75 194.75h70v7h-70zM1217.75 194.75h42v7h-42zM678.75 201.75h21v7h-21zM1238.75 201.75h21v7h-21zM678.75 488.75h21v7h-21zM713.75 495.75h63v7h-63zM804.75 495.75h91v7h-91zM986.75 495.75h42v7h-42zM1133.75 495.75h42v7h-42zM1224.75 495.75h35v7h-35z"/><path fill="rgb(6,6,6)" d="M930.75 26.75h14v7h-14zM993.75 26.75h14v7h-14zM916.75 33.75h14v7h-14zM1007.75 33.75h7v7h-7zM909.75 40.75h7v7h-7zM1014.75 40.75h7v7h-7zM902.75 47.75h7v7h-7zM1028.75 47.75h7v7h-7zM888.75 54.75h7v7h-7zM1035.75 54.75h7v7h-7zM881.75 61.75h7v7h-7zM1056.75 68.75h7v7h-7zM867.75 75.75h7v7h-7zM860.75 82.75h7v7h-7zM1063.75 82.75h7v7h-7zM860.75 89.75h7v7h-7zM1070.75 96.75h7v7h-7zM853.75 103.75h7v7h-7zM1070.75 103.75h7v7h-7zM853.75 110.75h7v7h-7zM1077.75 117.75h7v7h-7zM846.75 124.75h7v7h-7zM1077.75 124.75h7v7h-7zM846.75 131.75h7v7h-7zM839.75 145.75h7v7h-7zM1084.75 145.75h7v7h-7zM839.75 152.75h7v7h-7zM1084.75 152.75h7v7h-7zM832.75 166.75h7v7h-7zM1091.75 166.75h7v7h-7zM832.75 173.75h7v7h-7zM1091.75 173.75h7v7h-7zM825.75 180.75h7v7h-7zM1091.75 180.75h7v7h-7zM734.75 187.75h14v7h-14zM811.75 187.75h14v7h-14zM1098.75 187.75h7v7h-7zM713.75 194.75h56v7h-56zM790.75 194.75h28v7h-28zM1098.75 194.75h14v7h-14zM1182.75 194.75h35v7h-35zM699.75 201.75h21v7h-21zM762.75 201.75h42v7h-42zM1105.75 201.75h84v7h-84zM1210.75 201.75h28v7h-28zM678.75 208.75h28v7h-28zM1119.75 208.75h42v7h-42zM1231.75 208.75h28v7h-28zM699.75 488.75h21v7h-21zM762.75 488.75h56v7h-56zM1014.75 488.75h133v7h-133zM895.75 495.75h91v7h-91zM1175.75 495.75h49v7h-49z"/><path fill="rgb(7,7,7)" d="M944.75 26.75h49v7h-49zM930.75 33.75h14v7h-14zM993.75 33.75h14v7h-14zM916.75 40.75h7v7h-7zM1007.75 40.75h7v7h-7zM909.75 47.75h7v7h-7zM1021.75 47.75h7v7h-7zM895.75 54.75h7v7h-7zM1028.75 54.75h7v7h-7zM1042.75 61.75h7v7h-7zM874.75 68.75h7v7h-7zM1049.75 68.75h7v7h-7zM1056.75 75.75h7v7h-7zM867.75 82.75h7v7h-7zM1063.75 89.75h7v7h-7zM860.75 96.75h7v7h-7zM1063.75 96.75h7v7h-7zM860.75 103.75h7v7h-7zM1070.75 110.75h7v7h-7zM853.75 117.75h7v7h-7zM1070.75 117.75h7v7h-7zM853.75 124.75h7v7h-7zM1077.75 131.75h7v7h-7zM846.75 138.75h7v7h-7zM1077.75 138.75h7v7h-7zM846.75 145.75h7v7h-7zM1077.75 145.75h7v7h-7zM839.75 159.75h7v7h-7zM1084.75 159.75h7v7h-7zM839.75 166.75h7v7h-7zM1084.75 166.75h7v7h-7zM832.75 180.75h7v7h-7zM825.75 187.75h7v7h-7zM1091.75 187.75h7v7h-7zM818.75 194.75h14v7h-14zM720.75 201.75h42v7h-42zM804.75 201.75h21v7h-21zM1098.75 201.75h7v7h-7zM1189.75 201.75h21v7h-21zM706.75 208.75h21v7h-21zM762.75 208.75h49v7h-49zM1105.75 208.75h14v7h-14zM1161.75 208.75h70v7h-70zM678.75 215.75h35v7h-35zM1112.75 215.75h56v7h-56zM1224.75 215.75h35v7h-35zM678.75 222.75h21v7h-21zM1245.75 222.75h14v7h-14zM678.75 481.75h28v7h-28zM720.75 488.75h42v7h-42zM818.75 488.75h105v7h-105zM979.75 488.75h35v7h-35zM1147.75 488.75h35v7h-35zM1224.75 488.75h35v7h-35z"/><path fill="rgb(8,8,8)" d="M944.75 33.75h21v7h-21zM972.75 33.75h21v7h-21zM923.75 40.75h14v7h-14zM1000.75 40.75h7v7h-7zM916.75 47.75h7v7h-7zM1014.75 47.75h7v7h-7zM902.75 54.75h7v7h-7zM888.75 61.75h7v7h-7zM1035.75 61.75h7v7h-7zM881.75 68.75h7v7h-7zM874.75 75.75h7v7h-7zM1056.75 82.75h7v7h-7zM867.75 89.75h7v7h-7zM1063.75 103.75h7v7h-7zM860.75 110.75h7v7h-7zM1070.75 124.75h7v7h-7zM853.75 131.75h7v7h-7zM1070.75 131.75h7v7h-7zM846.75 152.75h7v7h-7zM1077.75 152.75h7v7h-7zM846.75 159.75h7v7h-7zM1077.75 159.75h7v7h-7zM839.75 173.75h7v7h-7zM1084.75 173.75h7v7h-7zM839.75 180.75h7v7h-7zM1084.75 180.75h7v7h-7zM832.75 187.75h7v7h-7zM832.75 194.75h7v7h-7zM1091.75 194.75h7v7h-7zM825.75 201.75h7v7h-7zM1091.75 201.75h7v7h-7zM727.75 208.75h35v7h-35zM811.75 208.75h14v7h-14zM1098.75 208.75h7v7h-7zM713.75 215.75h14v7h-14zM755.75 215.75h56v7h-56zM1098.75 215.75h14v7h-14zM1168.75 215.75h56v7h-56zM699.75 222.75h14v7h-14zM776.75 222.75h14v7h-14zM1105.75 222.75h70v7h-70zM1224.75 222.75h21v7h-21zM678.75 229.75h21v7h-21zM1238.75 229.75h21v7h-21zM706.75 481.75h14v7h-14zM769.75 481.75h42v7h-42zM1014.75 481.75h126v7h-126zM923.75 488.75h56v7h-56zM1182.75 488.75h42v7h-42z"/><path fill="rgb(9,9,9)" d="M965.75 33.75h7v7h-7zM937.75 40.75h7v7h-7zM986.75 40.75h14v7h-14zM923.75 47.75h7v7h-7zM1007.75 47.75h7v7h-7zM1021.75 54.75h7v7h-7zM1042.75 68.75h7v7h-7zM1049.75 75.75h7v7h-7zM874.75 82.75h7v7h-7zM1056.75 89.75h7v7h-7zM867.75 96.75h7v7h-7zM1056.75 96.75h7v7h-7zM867.75 103.75h7v7h-7zM1063.75 110.75h7v7h-7zM860.75 117.75h7v7h-7zM1063.75 117.75h7v7h-7zM860.75 124.75h7v7h-7zM853.75 138.75h7v7h-7zM1070.75 138.75h7v7h-7zM853.75 145.75h7v7h-7zM1070.75 145.75h7v7h-7zM846.75 166.75h7v7h-7zM1077.75 166.75h7v7h-7zM1077.75 173.75h7v7h-7zM839.75 187.75h7v7h-7zM1084.75 187.75h7v7h-7zM1084.75 194.75h7v7h-7zM832.75 201.75h7v7h-7zM825.75 208.75h7v7h-7zM1091.75 208.75h7v7h-7zM727.75 215.75h28v7h-28zM811.75 215.75h14v7h-14zM1091.75 215.75h7v7h-7zM713.75 222.75h14v7h-14zM755.75 222.75h21v7h-21zM790.75 222.75h21v7h-21zM1098.75 222.75h7v7h-7zM1175.75 222.75h49v7h-49zM699.75 229.75h14v7h-14zM776.75 229.75h14v7h-14zM1105.75 229.75h70v7h-70zM1224.75 229.75h14v7h-14zM678.75 236.75h21v7h-21zM1238.75 236.75h21v7h-21zM678.75 474.75h21v7h-21zM720.75 481.75h14v7h-14zM748.75 481.75h21v7h-21zM811.75 481.75h70v7h-70zM993.75 481.75h21v7h-21zM1140.75 481.75h28v7h-28zM1231.75 481.75h28v7h-28z"/><path fill="rgb(10,10,10)" d="M944.75 40.75h14v7h-14zM972.75 40.75h14v7h-14zM1000.75 47.75h7v7h-7zM909.75 54.75h7v7h-7zM1014.75 54.75h7v7h-7zM895.75 61.75h7v7h-7zM1028.75 61.75h7v7h-7zM888.75 68.75h7v7h-7zM881.75 75.75h7v7h-7zM1049.75 82.75h7v7h-7zM874.75 89.75h7v7h-7zM1056.75 103.75h7v7h-7zM867.75 110.75h7v7h-7zM1063.75 124.75h7v7h-7zM860.75 131.75h7v7h-7zM853.75 152.75h7v7h-7zM1070.75 152.75h7v7h-7zM853.75 159.75h7v7h-7zM1070.75 159.75h7v7h-7zM846.75 173.75h7v7h-7zM846.75 180.75h7v7h-7zM1077.75 180.75h7v7h-7zM1077.75 187.75h7v7h-7zM839.75 194.75h7v7h-7zM1084.75 201.75h7v7h-7zM832.75 208.75h7v7h-7zM1084.75 208.75h7v7h-7zM825.75 215.75h7v7h-7zM727.75 222.75h28v7h-28zM811.75 222.75h14v7h-14zM1091.75 222.75h7v7h-7zM713.75 229.75h7v7h-7zM762.75 229.75h14v7h-14zM790.75 229.75h21v7h-21zM1098.75 229.75h7v7h-7zM1175.75 229.75h21v7h-21zM1203.75 229.75h21v7h-21zM699.75 236.75h14v7h-14zM776.75 236.75h14v7h-14zM1105.75 236.75h63v7h-63zM1224.75 236.75h14v7h-14zM678.75 243.75h21v7h-21zM1245.75 243.75h14v7h-14zM699.75 474.75h7v7h-7zM783.75 474.75h7v7h-7zM1028.75 474.75h84v7h-84zM734.75 481.75h14v7h-14zM881.75 481.75h112v7h-112zM1168.75 481.75h21v7h-21zM1217.75 481.75h14v7h-14z"/><path fill="rgb(11,11,11)" d="M958.75 40.75h14v7h-14zM930.75 47.75h7v7h-7zM993.75 47.75h7v7h-7zM916.75 54.75h7v7h-7zM1035.75 68.75h7v7h-7zM1042.75 75.75h7v7h-7zM1049.75 89.75h7v7h-7zM874.75 96.75h7v7h-7zM1056.75 110.75h7v7h-7zM867.75 117.75h7v7h-7zM1063.75 131.75h7v7h-7zM860.75 138.75h7v7h-7zM853.75 166.75h7v7h-7zM1070.75 166.75h7v7h-7zM853.75 173.75h7v7h-7zM846.75 187.75h7v7h-7zM846.75 194.75h7v7h-7zM1077.75 194.75h7v7h-7zM839.75 201.75h7v7h-7zM839.75 208.75h7v7h-7zM832.75 215.75h7v7h-7zM1084.75 215.75h7v7h-7zM825.75 222.75h7v7h-7zM720.75 229.75h14v7h-14zM741.75 229.75h21v7h-21zM811.75 229.75h14v7h-14zM1091.75 229.75h7v7h-7zM1196.75 229.75h7v7h-7zM713.75 236.75h7v7h-7zM762.75 236.75h14v7h-14zM790.75 236.75h21v7h-21zM1098.75 236.75h7v7h-7zM1168.75 236.75h21v7h-21zM1210.75 236.75h14v7h-14zM699.75 243.75h7v7h-7zM1105.75 243.75h56v7h-56zM1231.75 243.75h14v7h-14zM678.75 250.75h14v7h-14zM706.75 474.75h14v7h-14zM762.75 474.75h21v7h-21zM790.75 474.75h28v7h-28zM1007.75 474.75h21v7h-21zM1112.75 474.75h35v7h-35zM1189.75 481.75h28v7h-28z"/><path fill="rgb(12,12,12)" d="M937.75 47.75h7v7h-7zM986.75 47.75h7v7h-7zM1007.75 54.75h7v7h-7zM902.75 61.75h7v7h-7zM881.75 82.75h7v7h-7zM1049.75 96.75h7v7h-7zM867.75 124.75h7v7h-7zM1063.75 138.75h7v7h-7zM860.75 145.75h7v7h-7zM1063.75 145.75h7v7h-7zM860.75 152.75h7v7h-7zM1070.75 173.75h7v7h-7zM853.75 180.75h7v7h-7zM1070.75 180.75h7v7h-7zM846.75 201.75h7v7h-7zM1077.75 201.75h7v7h-7zM1077.75 208.75h7v7h-7zM839.75 215.75h7v7h-7zM832.75 222.75h7v7h-7zM1084.75 222.75h7v7h-7zM734.75 229.75h7v7h-7zM825.75 229.75h7v7h-7zM720.75 236.75h14v7h-14zM748.75 236.75h14v7h-14zM811.75 236.75h14v7h-14zM1091.75 236.75h7v7h-7zM1189.75 236.75h21v7h-21zM706.75 243.75h14v7h-14zM769.75 243.75h35v7h-35zM1098.75 243.75h7v7h-7zM1161.75 243.75h21v7h-21zM1217.75 243.75h14v7h-14zM692.75 250.75h14v7h-14zM1105.75 250.75h49v7h-49zM1231.75 250.75h28v7h-28zM678.75 467.75h21v7h-21zM720.75 474.75h14v7h-14zM748.75 474.75h14v7h-14zM818.75 474.75h63v7h-63zM986.75 474.75h21v7h-21zM1147.75 474.75h21v7h-21zM1231.75 474.75h28v7h-28z"/><path fill="rgb(13,13,13)" d="M944.75 47.75h14v7h-14zM972.75 47.75h14v7h-14zM923.75 54.75h7v7h-7zM1000.75 54.75h7v7h-7zM1021.75 61.75h7v7h-7zM895.75 68.75h7v7h-7zM888.75 75.75h7v7h-7zM1042.75 82.75h7v7h-7zM881.75 89.75h7v7h-7zM874.75 103.75h7v7h-7zM1056.75 117.75h7v7h-7zM867.75 131.75h7v7h-7zM1063.75 152.75h7v7h-7zM860.75 159.75h7v7h-7zM853.75 187.75h7v7h-7zM1070.75 187.75h7v7h-7zM853.75 194.75h7v7h-7zM1070.75 194.75h7v7h-7zM846.75 208.75h7v7h-7zM1077.75 215.75h7v7h-7zM839.75 222.75h7v7h-7zM832.75 229.75h7v7h-7zM1084.75 229.75h7v7h-7zM734.75 236.75h14v7h-14zM825.75 236.75h7v7h-7zM1084.75 236.75h7v7h-7zM720.75 243.75h7v7h-7zM755.75 243.75h14v7h-14zM804.75 243.75h14v7h-14zM1091.75 243.75h7v7h-7zM1182.75 243.75h35v7h-35zM706.75 250.75h7v7h-7zM776.75 250.75h21v7h-21zM1098.75 250.75h7v7h-7zM1154.75 250.75h21v7h-21zM1224.75 250.75h7v7h-7zM678.75 257.75h21v7h-21zM1112.75 257.75h35v7h-35zM1238.75 257.75h21v7h-21zM699.75 467.75h7v7h-7zM1035.75 467.75h70v7h-70zM734.75 474.75h14v7h-14zM881.75 474.75h105v7h-105zM1168.75 474.75h14v7h-14zM1224.75 474.75h7v7h-7z"/><path fill="rgb(14,14,14)" d="M958.75 47.75h14v7h-14zM930.75 54.75h7v7h-7zM909.75 61.75h7v7h-7zM1028.75 68.75h7v7h-7zM1035.75 75.75h7v7h-7zM1049.75 103.75h7v7h-7zM874.75 110.75h7v7h-7zM1056.75 124.75h7v7h-7zM1056.75 131.75h7v7h-7zM867.75 138.75h7v7h-7zM1063.75 159.75h7v7h-7zM860.75 166.75h7v7h-7zM1063.75 166.75h7v7h-7zM860.75 173.75h7v7h-7zM853.75 201.75h7v7h-7zM1070.75 201.75h7v7h-7zM1070.75 208.75h7v7h-7zM846.75 215.75h7v7h-7zM1077.75 222.75h7v7h-7zM839.75 229.75h7v7h-7zM1077.75 229.75h7v7h-7zM832.75 236.75h7v7h-7zM727.75 243.75h28v7h-28zM818.75 243.75h14v7h-14zM1084.75 243.75h7v7h-7zM713.75 250.75h7v7h-7zM762.75 250.75h14v7h-14zM797.75 250.75h21v7h-21zM1091.75 250.75h7v7h-7zM1175.75 250.75h21v7h-21zM1203.75 250.75h21v7h-21zM699.75 257.75h7v7h-7zM783.75 257.75h7v7h-7zM1098.75 257.75h14v7h-14zM1147.75 257.75h21v7h-21zM1224.75 257.75h14v7h-14zM678.75 264.75h14v7h-14zM1245.75 264.75h14v7h-14zM706.75 467.75h7v7h-7zM776.75 467.75h28v7h-28zM1014.75 467.75h21v7h-21zM1105.75 467.75h35v7h-35zM1182.75 474.75h14v7h-14zM1203.75 474.75h21v7h-21z"/><path fill="rgb(15,15,15)" d="M993.75 54.75h7v7h-7zM1014.75 61.75h7v7h-7zM888.75 82.75h7v7h-7zM1042.75 89.75h7v7h-7zM881.75 96.75h7v7h-7zM1049.75 110.75h7v7h-7zM874.75 117.75h7v7h-7zM1056.75 138.75h7v7h-7zM867.75 145.75h7v7h-7zM1063.75 173.75h7v7h-7zM860.75 180.75h7v7h-7zM853.75 208.75h7v7h-7zM1070.75 215.75h7v7h-7zM846.75 222.75h7v7h-7zM839.75 236.75h7v7h-7zM1077.75 236.75h7v7h-7zM832.75 243.75h7v7h-7zM720.75 250.75h14v7h-14zM748.75 250.75h14v7h-14zM818.75 250.75h7v7h-7zM1084.75 250.75h7v7h-7zM1196.75 250.75h7v7h-7zM706.75 257.75h14v7h-14zM769.75 257.75h14v7h-14zM790.75 257.75h14v7h-14zM1091.75 257.75h7v7h-7zM1168.75 257.75h14v7h-14zM1217.75 257.75h7v7h-7zM692.75 264.75h14v7h-14zM1098.75 264.75h56v7h-56zM1231.75 264.75h14v7h-14zM713.75 467.75h7v7h-7zM762.75 467.75h14v7h-14zM804.75 467.75h21v7h-21zM1000.75 467.75h14v7h-14zM1140.75 467.75h14v7h-14zM1245.75 467.75h14v7h-14zM1196.75 474.75h7v7h-7z"/><path fill="rgb(16,16,16)" d="M937.75 54.75h7v7h-7zM986.75 54.75h7v7h-7zM916.75 61.75h7v7h-7zM902.75 68.75h7v7h-7zM895.75 75.75h7v7h-7zM1035.75 82.75h7v7h-7zM1042.75 96.75h7v7h-7zM881.75 103.75h7v7h-7zM1049.75 117.75h7v7h-7zM874.75 124.75h7v7h-7zM1056.75 145.75h7v7h-7zM867.75 152.75h7v7h-7zM1063.75 180.75h7v7h-7zM860.75 187.75h7v7h-7zM1063.75 187.75h7v7h-7zM860.75 194.75h7v7h-7zM853.75 215.75h7v7h-7zM1070.75 222.75h7v7h-7zM846.75 229.75h7v7h-7zM1077.75 243.75h7v7h-7zM734.75 250.75h14v7h-14zM825.75 250.75h7v7h-7zM720.75 257.75h7v7h-7zM755.75 257.75h14v7h-14zM804.75 257.75h14v7h-14zM1182.75 257.75h35v7h-35zM706.75 264.75h7v7h-7zM776.75 264.75h14v7h-14zM1091.75 264.75h7v7h-7zM1154.75 264.75h21v7h-21zM1224.75 264.75h7v7h-7zM678.75 271.75h21v7h-21zM1119.75 271.75h21v7h-21zM1238.75 271.75h21v7h-21zM678.75 460.75h21v7h-21zM720.75 467.75h14v7h-14zM748.75 467.75h14v7h-14zM825.75 467.75h70v7h-70zM979.75 467.75h21v7h-21zM1154.75 467.75h14v7h-14zM1231.75 467.75h14v7h-14z"/><path fill="rgb(17,17,17)" d="M944.75 54.75h14v7h-14zM979.75 54.75h7v7h-7zM1007.75 61.75h7v7h-7zM1021.75 68.75h7v7h-7zM1028.75 75.75h7v7h-7zM888.75 89.75h7v7h-7zM1042.75 103.75h7v7h-7zM1049.75 124.75h7v7h-7zM874.75 131.75h7v7h-7zM1056.75 152.75h7v7h-7zM867.75 159.75h7v7h-7zM1063.75 194.75h7v7h-7zM860.75 201.75h7v7h-7zM1063.75 201.75h7v7h-7zM853.75 222.75h7v7h-7zM1070.75 229.75h7v7h-7zM846.75 236.75h7v7h-7zM1070.75 236.75h7v7h-7zM839.75 243.75h7v7h-7zM832.75 250.75h7v7h-7zM1077.75 250.75h7v7h-7zM727.75 257.75h7v7h-7zM741.75 257.75h14v7h-14zM818.75 257.75h14v7h-14zM1084.75 257.75h7v7h-7zM713.75 264.75h7v7h-7zM769.75 264.75h7v7h-7zM790.75 264.75h21v7h-21zM1175.75 264.75h14v7h-14zM1217.75 264.75h7v7h-7zM699.75 271.75h7v7h-7zM1098.75 271.75h21v7h-21zM1140.75 271.75h21v7h-21zM1231.75 271.75h7v7h-7zM699.75 460.75h7v7h-7zM1028.75 460.75h84v7h-84zM734.75 467.75h14v7h-14zM895.75 467.75h84v7h-84zM1168.75 467.75h14v7h-14zM1224.75 467.75h7v7h-7z"/><path fill="rgb(18,18,18)" d="M958.75 54.75h21v7h-21zM923.75 61.75h7v7h-7zM895.75 82.75h7v7h-7zM1035.75 89.75h7v7h-7zM888.75 96.75h7v7h-7zM881.75 110.75h7v7h-7zM874.75 138.75h7v7h-7zM1056.75 159.75h7v7h-7zM867.75 166.75h7v7h-7zM867.75 173.75h7v7h-7zM860.75 208.75h7v7h-7zM1063.75 208.75h7v7h-7zM853.75 229.75h7v7h-7zM846.75 243.75h7v7h-7zM1070.75 243.75h7v7h-7zM839.75 250.75h7v7h-7zM734.75 257.75h7v7h-7zM832.75 257.75h7v7h-7zM1077.75 257.75h7v7h-7zM720.75 264.75h7v7h-7zM755.75 264.75h14v7h-14zM811.75 264.75h14v7h-14zM1084.75 264.75h7v7h-7zM1189.75 264.75h28v7h-28zM706.75 271.75h7v7h-7zM776.75 271.75h21v7h-21zM1091.75 271.75h7v7h-7zM1161.75 271.75h14v7h-14zM1224.75 271.75h7v7h-7zM678.75 278.75h21v7h-21zM1105.75 278.75h35v7h-35zM1238.75 278.75h21v7h-21zM706.75 460.75h7v7h-7zM776.75 460.75h21v7h-21zM1014.75 460.75h14v7h-14zM1112.75 460.75h28v7h-28zM1182.75 467.75h7v7h-7zM1210.75 467.75h14v7h-14z"/><path fill="rgb(19,19,19)" d="M1000.75 61.75h7v7h-7zM909.75 68.75h7v7h-7zM902.75 75.75h7v7h-7zM1042.75 110.75h7v7h-7zM881.75 117.75h7v7h-7zM1049.75 131.75h7v7h-7zM874.75 145.75h7v7h-7zM1056.75 166.75h7v7h-7zM1056.75 173.75h7v7h-7zM867.75 180.75h7v7h-7zM860.75 215.75h7v7h-7zM1063.75 215.75h7v7h-7zM860.75 222.75h7v7h-7zM1063.75 222.75h7v7h-7zM853.75 236.75h7v7h-7zM846.75 250.75h7v7h-7zM1070.75 250.75h7v7h-7zM839.75 257.75h7v7h-7zM727.75 264.75h7v7h-7zM748.75 264.75h7v7h-7zM825.75 264.75h7v7h-7zM1077.75 264.75h7v7h-7zM713.75 271.75h7v7h-7zM769.75 271.75h7v7h-7zM797.75 271.75h14v7h-14zM1084.75 271.75h7v7h-7zM1175.75 271.75h7v7h-7zM1217.75 271.75h7v7h-7zM699.75 278.75h7v7h-7zM1098.75 278.75h7v7h-7zM1140.75 278.75h14v7h-14zM1231.75 278.75h7v7h-7zM713.75 460.75h7v7h-7zM769.75 460.75h7v7h-7zM797.75 460.75h21v7h-21zM1007.75 460.75h7v7h-7zM1140.75 460.75h7v7h-7zM1189.75 467.75h21v7h-21z"/><path fill="rgb(20,20,20)" d="M930.75 61.75h7v7h-7zM1014.75 68.75h7v7h-7zM1028.75 82.75h7v7h-7zM1035.75 96.75h7v7h-7zM888.75 103.75h7v7h-7zM881.75 124.75h7v7h-7zM1049.75 138.75h7v7h-7zM874.75 152.75h7v7h-7zM1056.75 180.75h7v7h-7zM867.75 187.75h7v7h-7zM867.75 194.75h7v7h-7zM860.75 229.75h7v7h-7zM1063.75 229.75h7v7h-7zM853.75 243.75h7v7h-7zM1070.75 257.75h7v7h-7zM734.75 264.75h14v7h-14zM832.75 264.75h7v7h-7zM720.75 271.75h7v7h-7zM762.75 271.75h7v7h-7zM811.75 271.75h7v7h-7zM1182.75 271.75h14v7h-14zM1203.75 271.75h14v7h-14zM706.75 278.75h7v7h-7zM776.75 278.75h14v7h-14zM1091.75 278.75h7v7h-7zM1154.75 278.75h14v7h-14zM1224.75 278.75h7v7h-7zM678.75 285.75h21v7h-21zM1119.75 285.75h14v7h-14zM1245.75 285.75h14v7h-14zM678.75 453.75h14v7h-14zM720.75 460.75h7v7h-7zM755.75 460.75h14v7h-14zM818.75 460.75h14v7h-14zM986.75 460.75h21v7h-21zM1147.75 460.75h14v7h-14zM1238.75 460.75h21v7h-21z"/><path fill="rgb(21,21,21)" d="M993.75 61.75h7v7h-7zM1021.75 75.75h7v7h-7zM895.75 89.75h7v7h-7zM1042.75 117.75h7v7h-7zM1049.75 145.75h7v7h-7zM874.75 159.75h7v7h-7zM1056.75 187.75h7v7h-7zM1056.75 194.75h7v7h-7zM867.75 201.75h7v7h-7zM860.75 236.75h7v7h-7zM1063.75 236.75h7v7h-7zM853.75 250.75h7v7h-7zM846.75 257.75h7v7h-7zM839.75 264.75h7v7h-7zM1070.75 264.75h7v7h-7zM727.75 271.75h7v7h-7zM748.75 271.75h14v7h-14zM818.75 271.75h14v7h-14zM1077.75 271.75h7v7h-7zM1196.75 271.75h7v7h-7zM769.75 278.75h7v7h-7zM790.75 278.75h14v7h-14zM1084.75 278.75h7v7h-7zM1168.75 278.75h14v7h-14zM1217.75 278.75h7v7h-7zM699.75 285.75h7v7h-7zM1098.75 285.75h21v7h-21zM1133.75 285.75h21v7h-21zM1231.75 285.75h14v7h-14zM692.75 453.75h7v7h-7zM1042.75 453.75h42v7h-42zM727.75 460.75h7v7h-7zM748.75 460.75h7v7h-7zM832.75 460.75h119v7h-119zM972.75 460.75h14v7h-14zM1161.75 460.75h7v7h-7zM1231.75 460.75h7v7h-7z"/><path fill="rgb(22,22,22)" d="M937.75 61.75h7v7h-7zM916.75 68.75h7v7h-7zM902.75 82.75h7v7h-7zM1028.75 89.75h7v7h-7zM1035.75 103.75h7v7h-7zM888.75 110.75h7v7h-7zM1042.75 124.75h7v7h-7zM881.75 131.75h7v7h-7zM1049.75 152.75h7v7h-7zM874.75 166.75h7v7h-7zM1056.75 201.75h7v7h-7zM867.75 208.75h7v7h-7zM1056.75 208.75h7v7h-7zM867.75 215.75h7v7h-7zM860.75 243.75h7v7h-7zM1063.75 243.75h7v7h-7zM1063.75 250.75h7v7h-7zM853.75 257.75h7v7h-7zM734.75 271.75h14v7h-14zM832.75 271.75h7v7h-7zM713.75 278.75h7v7h-7zM762.75 278.75h7v7h-7zM804.75 278.75h14v7h-14zM1182.75 278.75h7v7h-7zM1203.75 278.75h14v7h-14zM1091.75 285.75h7v7h-7zM1154.75 285.75h14v7h-14zM678.75 292.75h14v7h-14zM699.75 453.75h7v7h-7zM1021.75 453.75h21v7h-21zM1084.75 453.75h35v7h-35zM734.75 460.75h14v7h-14zM951.75 460.75h21v7h-21zM1168.75 460.75h14v7h-14zM1224.75 460.75h7v7h-7z"/><path fill="rgb(23,23,23)" d="M986.75 61.75h7v7h-7zM1007.75 68.75h7v7h-7zM909.75 75.75h7v7h-7zM1021.75 82.75h7v7h-7zM895.75 96.75h7v7h-7zM1042.75 131.75h7v7h-7zM881.75 138.75h7v7h-7zM1049.75 159.75h7v7h-7zM1049.75 166.75h7v7h-7zM874.75 173.75h7v7h-7zM874.75 180.75h7v7h-7zM1056.75 215.75h7v7h-7zM867.75 222.75h7v7h-7zM860.75 250.75h7v7h-7zM1063.75 257.75h7v7h-7zM846.75 264.75h7v7h-7zM839.75 271.75h7v7h-7zM1070.75 271.75h7v7h-7zM720.75 278.75h7v7h-7zM755.75 278.75h7v7h-7zM818.75 278.75h7v7h-7zM1077.75 278.75h7v7h-7zM1189.75 278.75h14v7h-14zM706.75 285.75h7v7h-7zM776.75 285.75h21v7h-21zM1084.75 285.75h7v7h-7zM1168.75 285.75h7v7h-7zM1224.75 285.75h7v7h-7zM692.75 292.75h7v7h-7zM1098.75 292.75h42v7h-42zM1238.75 292.75h21v7h-21zM706.75 453.75h7v7h-7zM776.75 453.75h21v7h-21zM1014.75 453.75h7v7h-7zM1119.75 453.75h21v7h-21zM1182.75 460.75h7v7h-7zM1217.75 460.75h7v7h-7z"/><path fill="rgb(24,24,24)" d="M944.75 61.75h7v7h-7zM979.75 61.75h7v7h-7zM1014.75 75.75h7v7h-7zM1028.75 96.75h7v7h-7zM1035.75 110.75h7v7h-7zM888.75 117.75h7v7h-7zM881.75 145.75h7v7h-7zM1049.75 173.75h7v7h-7zM874.75 187.75h7v7h-7zM1056.75 222.75h7v7h-7zM867.75 229.75h7v7h-7zM1056.75 229.75h7v7h-7zM853.75 264.75h7v7h-7zM1063.75 264.75h7v7h-7zM727.75 278.75h7v7h-7zM748.75 278.75h7v7h-7zM825.75 278.75h7v7h-7zM1070.75 278.75h7v7h-7zM713.75 285.75h7v7h-7zM769.75 285.75h7v7h-7zM797.75 285.75h14v7h-14zM1077.75 285.75h7v7h-7zM1175.75 285.75h7v7h-7zM1217.75 285.75h7v7h-7zM699.75 292.75h7v7h-7zM1091.75 292.75h7v7h-7zM1140.75 292.75h14v7h-14zM1231.75 292.75h7v7h-7zM713.75 453.75h7v7h-7zM769.75 453.75h7v7h-7zM797.75 453.75h14v7h-14zM1007.75 453.75h7v7h-7zM1140.75 453.75h7v7h-7zM1189.75 460.75h28v7h-28z"/><path fill="rgb(25,25,25)" d="M951.75 61.75h14v7h-14zM972.75 61.75h7v7h-7zM923.75 68.75h7v7h-7zM902.75 89.75h7v7h-7zM895.75 103.75h7v7h-7zM1035.75 117.75h7v7h-7zM888.75 124.75h7v7h-7zM1042.75 138.75h7v7h-7zM881.75 152.75h7v7h-7zM1049.75 180.75h7v7h-7zM874.75 194.75h7v7h-7zM867.75 236.75h7v7h-7zM1056.75 236.75h7v7h-7zM860.75 257.75h7v7h-7zM846.75 271.75h7v7h-7zM1063.75 271.75h7v7h-7zM734.75 278.75h14v7h-14zM832.75 278.75h7v7h-7zM762.75 285.75h7v7h-7zM811.75 285.75h7v7h-7zM1182.75 285.75h14v7h-14zM1203.75 285.75h14v7h-14zM783.75 292.75h7v7h-7zM1084.75 292.75h7v7h-7zM1154.75 292.75h14v7h-14zM1224.75 292.75h7v7h-7zM678.75 299.75h14v7h-14zM1245.75 299.75h14v7h-14zM678.75 446.75h14v7h-14zM762.75 453.75h7v7h-7zM811.75 453.75h14v7h-14zM993.75 453.75h14v7h-14zM1147.75 453.75h7v7h-7zM1238.75 453.75h21v7h-21z"/><path fill="rgb(26,26,26)" d="M965.75 61.75h7v7h-7zM1000.75 68.75h7v7h-7zM916.75 75.75h7v7h-7zM909.75 82.75h7v7h-7zM1028.75 103.75h7v7h-7zM1042.75 145.75h7v7h-7zM881.75 159.75h7v7h-7zM1049.75 187.75h7v7h-7zM1049.75 194.75h7v7h-7zM874.75 201.75h7v7h-7zM874.75 208.75h7v7h-7zM867.75 243.75h7v7h-7zM1056.75 243.75h7v7h-7zM1056.75 250.75h7v7h-7zM860.75 264.75h7v7h-7zM853.75 271.75h7v7h-7zM839.75 278.75h7v7h-7zM720.75 285.75h7v7h-7zM755.75 285.75h7v7h-7zM818.75 285.75h7v7h-7zM1070.75 285.75h7v7h-7zM1196.75 285.75h7v7h-7zM706.75 292.75h7v7h-7zM776.75 292.75h7v7h-7zM790.75 292.75h7v7h-7zM1168.75 292.75h7v7h-7zM692.75 299.75h7v7h-7zM1091.75 299.75h56v7h-56zM1238.75 299.75h7v7h-7zM692.75 446.75h7v7h-7zM1042.75 446.75h35v7h-35zM720.75 453.75h7v7h-7zM755.75 453.75h7v7h-7zM825.75 453.75h70v7h-70zM909.75 453.75h21v7h-21zM979.75 453.75h14v7h-14zM1154.75 453.75h14v7h-14zM1231.75 453.75h7v7h-7z"/><path fill="rgb(27,27,27)" d="M930.75 68.75h7v7h-7zM1021.75 89.75h7v7h-7zM902.75 96.75h7v7h-7zM895.75 110.75h7v7h-7zM1035.75 124.75h7v7h-7zM888.75 131.75h7v7h-7zM1042.75 152.75h7v7h-7zM881.75 166.75h7v7h-7zM1049.75 201.75h7v7h-7zM1049.75 208.75h7v7h-7zM874.75 215.75h7v7h-7zM867.75 250.75h7v7h-7zM1056.75 257.75h7v7h-7zM846.75 278.75h7v7h-7zM1063.75 278.75h7v7h-7zM727.75 285.75h7v7h-7zM741.75 285.75h14v7h-14zM825.75 285.75h14v7h-14zM713.75 292.75h7v7h-7zM769.75 292.75h7v7h-7zM797.75 292.75h14v7h-14zM1077.75 292.75h7v7h-7zM1175.75 292.75h7v7h-7zM1217.75 292.75h7v7h-7zM699.75 299.75h7v7h-7zM1147.75 299.75h7v7h-7zM1231.75 299.75h7v7h-7zM699.75 446.75h7v7h-7zM1021.75 446.75h21v7h-21zM1077.75 446.75h35v7h-35zM727.75 453.75h7v7h-7zM748.75 453.75h7v7h-7zM895.75 453.75h14v7h-14zM930.75 453.75h49v7h-49zM1168.75 453.75h7v7h-7zM1224.75 453.75h7v7h-7z"/><path fill="rgb(28,28,28)" d="M993.75 68.75h7v7h-7zM1007.75 75.75h7v7h-7zM1014.75 82.75h7v7h-7zM888.75 138.75h7v7h-7zM1042.75 159.75h7v7h-7zM881.75 173.75h7v7h-7zM1049.75 215.75h7v7h-7zM874.75 222.75h7v7h-7zM1049.75 222.75h7v7h-7zM874.75 229.75h7v7h-7zM867.75 257.75h7v7h-7zM1056.75 264.75h7v7h-7zM860.75 271.75h7v7h-7zM853.75 278.75h7v7h-7zM734.75 285.75h7v7h-7zM839.75 285.75h7v7h-7zM762.75 292.75h7v7h-7zM811.75 292.75h7v7h-7zM1070.75 292.75h7v7h-7zM1182.75 292.75h14v7h-14zM1203.75 292.75h14v7h-14zM1084.75 299.75h7v7h-7zM1154.75 299.75h14v7h-14zM1224.75 299.75h7v7h-7zM678.75 306.75h14v7h-14zM776.75 446.75h14v7h-14zM1014.75 446.75h7v7h-7zM1112.75 446.75h21v7h-21zM734.75 453.75h14v7h-14zM1175.75 453.75h7v7h-7z"/><path fill="rgb(29,29,29)" d="M909.75 89.75h7v7h-7zM1021.75 96.75h7v7h-7zM902.75 103.75h7v7h-7zM1028.75 110.75h7v7h-7zM895.75 117.75h7v7h-7zM1035.75 131.75h7v7h-7zM1042.75 166.75h7v7h-7zM881.75 180.75h7v7h-7zM1049.75 229.75h7v7h-7zM874.75 236.75h7v7h-7zM867.75 264.75h7v7h-7zM1056.75 271.75h7v7h-7zM1063.75 285.75h7v7h-7zM720.75 292.75h7v7h-7zM755.75 292.75h7v7h-7zM818.75 292.75h7v7h-7zM1196.75 292.75h7v7h-7zM706.75 299.75h7v7h-7zM776.75 299.75h21v7h-21zM1077.75 299.75h7v7h-7zM1168.75 299.75h7v7h-7zM692.75 306.75h7v7h-7zM1091.75 306.75h49v7h-49zM1238.75 306.75h21v7h-21zM706.75 446.75h7v7h-7zM790.75 446.75h14v7h-14zM1007.75 446.75h7v7h-7zM1133.75 446.75h7v7h-7zM1182.75 453.75h7v7h-7zM1217.75 453.75h7v7h-7z"/><path fill="rgb(30,30,30)" d="M937.75 68.75h7v7h-7zM923.75 75.75h7v7h-7zM916.75 82.75h7v7h-7zM888.75 145.75h7v7h-7zM1042.75 173.75h7v7h-7zM881.75 187.75h7v7h-7zM881.75 194.75h7v7h-7zM1049.75 236.75h7v7h-7zM874.75 243.75h7v7h-7zM1049.75 243.75h7v7h-7zM860.75 278.75h7v7h-7zM1056.75 278.75h7v7h-7zM846.75 285.75h7v7h-7zM727.75 292.75h7v7h-7zM748.75 292.75h7v7h-7zM825.75 292.75h7v7h-7zM769.75 299.75h7v7h-7zM797.75 299.75h14v7h-14zM1175.75 299.75h7v7h-7zM1217.75 299.75h7v7h-7zM699.75 306.75h7v7h-7zM1084.75 306.75h7v7h-7zM1140.75 306.75h14v7h-14zM1231.75 306.75h7v7h-7zM678.75 439.75h14v7h-14zM713.75 446.75h7v7h-7zM769.75 446.75h7v7h-7zM804.75 446.75h7v7h-7zM1000.75 446.75h7v7h-7zM1140.75 446.75h7v7h-7zM1245.75 446.75h14v7h-14zM1189.75 453.75h7v7h-7zM1203.75 453.75h14v7h-14z"/><path fill="rgb(31,31,31)" d="M986.75 68.75h7v7h-7zM1000.75 75.75h7v7h-7zM1014.75 89.75h7v7h-7zM1021.75 103.75h7v7h-7zM1028.75 117.75h7v7h-7zM895.75 124.75h7v7h-7zM1035.75 138.75h7v7h-7zM888.75 152.75h7v7h-7zM1042.75 180.75h7v7h-7zM881.75 201.75h7v7h-7zM874.75 250.75h7v7h-7zM1049.75 250.75h7v7h-7zM867.75 271.75h7v7h-7zM853.75 285.75h7v7h-7zM741.75 292.75h7v7h-7zM832.75 292.75h14v7h-14zM1063.75 292.75h7v7h-7zM713.75 299.75h7v7h-7zM762.75 299.75h7v7h-7zM811.75 299.75h7v7h-7zM1070.75 299.75h7v7h-7zM1182.75 299.75h7v7h-7zM1210.75 299.75h7v7h-7zM1154.75 306.75h7v7h-7zM692.75 439.75h7v7h-7zM762.75 446.75h7v7h-7zM811.75 446.75h14v7h-14zM993.75 446.75h7v7h-7zM1147.75 446.75h7v7h-7zM1238.75 446.75h7v7h-7zM1196.75 453.75h7v7h-7z"/><path fill="rgb(32,32,32)" d="M944.75 68.75h7v7h-7zM979.75 68.75h7v7h-7zM1007.75 82.75h7v7h-7zM909.75 96.75h7v7h-7zM902.75 110.75h7v7h-7zM1035.75 145.75h7v7h-7zM888.75 159.75h7v7h-7zM1042.75 187.75h7v7h-7zM1042.75 194.75h7v7h-7zM881.75 208.75h7v7h-7zM881.75 215.75h7v7h-7zM874.75 257.75h7v7h-7zM1049.75 257.75h7v7h-7zM1049.75 264.75h7v7h-7zM860.75 285.75h7v7h-7zM1056.75 285.75h7v7h-7zM734.75 292.75h7v7h-7zM720.75 299.75h7v7h-7zM818.75 299.75h7v7h-7zM1189.75 299.75h21v7h-21zM706.75 306.75h7v7h-7zM776.75 306.75h14v7h-14zM1077.75 306.75h7v7h-7zM1161.75 306.75h7v7h-7zM1224.75 306.75h7v7h-7zM678.75 313.75h21v7h-21zM1098.75 313.75h42v7h-42zM1245.75 313.75h14v7h-14zM1042.75 439.75h63v7h-63zM720.75 446.75h7v7h-7zM755.75 446.75h7v7h-7zM825.75 446.75h7v7h-7zM853.75 446.75h21v7h-21zM979.75 446.75h14v7h-14zM1154.75 446.75h14v7h-14zM1231.75 446.75h7v7h-7z"/><path fill="rgb(33,33,33)" d="M951.75 68.75h7v7h-7zM930.75 75.75h7v7h-7zM1028.75 124.75h7v7h-7zM895.75 131.75h7v7h-7zM1035.75 152.75h7v7h-7zM888.75 166.75h7v7h-7zM1042.75 201.75h7v7h-7zM1042.75 208.75h7v7h-7zM881.75 222.75h7v7h-7zM881.75 229.75h7v7h-7zM874.75 264.75h7v7h-7zM1049.75 271.75h7v7h-7zM867.75 278.75h7v7h-7zM846.75 292.75h7v7h-7zM755.75 299.75h7v7h-7zM825.75 299.75h7v7h-7zM1063.75 299.75h7v7h-7zM790.75 306.75h14v7h-14zM1168.75 306.75h7v7h-7zM1091.75 313.75h7v7h-7zM1140.75 313.75h7v7h-7zM1238.75 313.75h7v7h-7zM699.75 439.75h7v7h-7zM1021.75 439.75h21v7h-21zM1105.75 439.75h14v7h-14zM748.75 446.75h7v7h-7zM832.75 446.75h21v7h-21zM874.75 446.75h105v7h-105zM1168.75 446.75h7v7h-7z"/><path fill="rgb(34,34,34)" d="M958.75 68.75h21v7h-21zM993.75 75.75h7v7h-7zM923.75 82.75h7v7h-7zM916.75 89.75h7v7h-7zM1014.75 96.75h7v7h-7zM1021.75 110.75h7v7h-7zM888.75 173.75h7v7h-7zM1042.75 215.75h7v7h-7zM1042.75 222.75h7v7h-7zM881.75 236.75h7v7h-7zM874.75 271.75h7v7h-7zM1049.75 278.75h7v7h-7zM853.75 292.75h7v7h-7zM1056.75 292.75h7v7h-7zM727.75 299.75h7v7h-7zM748.75 299.75h7v7h-7zM832.75 299.75h7v7h-7zM713.75 306.75h7v7h-7zM769.75 306.75h7v7h-7zM804.75 306.75h7v7h-7zM1070.75 306.75h7v7h-7zM1175.75 306.75h7v7h-7zM1217.75 306.75h7v7h-7zM699.75 313.75h7v7h-7zM1084.75 313.75h7v7h-7zM1147.75 313.75h7v7h-7zM1231.75 313.75h7v7h-7zM783.75 439.75h7v7h-7zM1014.75 439.75h7v7h-7zM1119.75 439.75h14v7h-14zM727.75 446.75h7v7h-7zM741.75 446.75h7v7h-7zM1224.75 446.75h7v7h-7z"/><path fill="rgb(35,35,35)" d="M909.75 103.75h7v7h-7zM902.75 117.75h7v7h-7zM1028.75 131.75h7v7h-7zM895.75 138.75h7v7h-7zM1035.75 159.75h7v7h-7zM888.75 180.75h7v7h-7zM1042.75 229.75h7v7h-7zM1042.75 236.75h7v7h-7zM881.75 243.75h7v7h-7zM881.75 250.75h7v7h-7zM867.75 285.75h7v7h-7zM860.75 292.75h7v7h-7zM734.75 299.75h14v7h-14zM839.75 299.75h7v7h-7zM762.75 306.75h7v7h-7zM811.75 306.75h7v7h-7zM1063.75 306.75h7v7h-7zM1182.75 306.75h7v7h-7zM1210.75 306.75h7v7h-7zM1077.75 313.75h7v7h-7zM1154.75 313.75h7v7h-7zM678.75 320.75h14v7h-14zM706.75 439.75h7v7h-7zM776.75 439.75h7v7h-7zM790.75 439.75h7v7h-7zM1133.75 439.75h7v7h-7zM734.75 446.75h7v7h-7zM1175.75 446.75h7v7h-7zM1217.75 446.75h7v7h-7z"/><path fill="rgb(36,36,36)" d="M937.75 75.75h7v7h-7zM1000.75 82.75h7v7h-7zM1007.75 89.75h7v7h-7zM895.75 145.75h7v7h-7zM1035.75 166.75h7v7h-7zM888.75 187.75h7v7h-7zM1042.75 243.75h7v7h-7zM1042.75 250.75h7v7h-7zM881.75 257.75h7v7h-7zM874.75 278.75h7v7h-7zM1049.75 285.75h7v7h-7zM846.75 299.75h7v7h-7zM1056.75 299.75h7v7h-7zM720.75 306.75h7v7h-7zM818.75 306.75h7v7h-7zM1189.75 306.75h21v7h-21zM706.75 313.75h7v7h-7zM776.75 313.75h14v7h-14zM1161.75 313.75h7v7h-7zM1224.75 313.75h7v7h-7zM692.75 320.75h7v7h-7zM1091.75 320.75h49v7h-49zM1238.75 320.75h21v7h-21zM678.75 432.75h14v7h-14zM769.75 439.75h7v7h-7zM797.75 439.75h14v7h-14zM1007.75 439.75h7v7h-7zM1140.75 439.75h7v7h-7zM1245.75 439.75h14v7h-14zM1182.75 446.75h7v7h-7zM1210.75 446.75h7v7h-7z"/><path fill="rgb(37,37,37)" d="M986.75 75.75h7v7h-7zM916.75 96.75h7v7h-7zM1014.75 103.75h7v7h-7zM1021.75 117.75h7v7h-7zM902.75 124.75h7v7h-7zM1028.75 138.75h7v7h-7zM1035.75 173.75h7v7h-7zM888.75 194.75h7v7h-7zM888.75 201.75h7v7h-7zM1042.75 257.75h7v7h-7zM881.75 264.75h7v7h-7zM1042.75 264.75h7v7h-7zM1049.75 292.75h7v7h-7zM755.75 306.75h7v7h-7zM825.75 306.75h7v7h-7zM790.75 313.75h14v7h-14zM1070.75 313.75h7v7h-7zM1168.75 313.75h7v7h-7zM1084.75 320.75h7v7h-7zM1140.75 320.75h7v7h-7zM692.75 432.75h7v7h-7zM713.75 439.75h7v7h-7zM811.75 439.75h7v7h-7zM1000.75 439.75h7v7h-7zM1147.75 439.75h7v7h-7zM1238.75 439.75h7v7h-7zM1189.75 446.75h7v7h-7zM1203.75 446.75h7v7h-7z"/><path fill="rgb(38,38,38)" d="M930.75 82.75h7v7h-7zM909.75 110.75h7v7h-7zM895.75 152.75h7v7h-7zM1035.75 180.75h7v7h-7zM1035.75 187.75h7v7h-7zM888.75 208.75h7v7h-7zM888.75 215.75h7v7h-7zM1042.75 271.75h7v7h-7zM867.75 292.75h7v7h-7zM853.75 299.75h7v7h-7zM727.75 306.75h7v7h-7zM748.75 306.75h7v7h-7zM832.75 306.75h7v7h-7zM1056.75 306.75h7v7h-7zM713.75 313.75h7v7h-7zM769.75 313.75h7v7h-7zM804.75 313.75h7v7h-7zM1063.75 313.75h7v7h-7zM1175.75 313.75h7v7h-7zM1217.75 313.75h7v7h-7zM699.75 320.75h7v7h-7zM1077.75 320.75h7v7h-7zM1147.75 320.75h7v7h-7zM1231.75 320.75h7v7h-7zM1042.75 432.75h63v7h-63zM762.75 439.75h7v7h-7zM818.75 439.75h7v7h-7zM986.75 439.75h14v7h-14zM1154.75 439.75h7v7h-7zM1231.75 439.75h7v7h-7zM1196.75 446.75h7v7h-7z"/><path fill="rgb(39,39,39)" d="M944.75 75.75h7v7h-7zM923.75 89.75h7v7h-7zM1007.75 96.75h7v7h-7zM1028.75 145.75h7v7h-7zM895.75 159.75h7v7h-7zM1035.75 194.75h7v7h-7zM888.75 222.75h7v7h-7zM888.75 229.75h7v7h-7zM881.75 271.75h7v7h-7zM1042.75 278.75h7v7h-7zM874.75 285.75h7v7h-7zM860.75 299.75h7v7h-7zM1049.75 299.75h7v7h-7zM741.75 306.75h7v7h-7zM839.75 306.75h7v7h-7zM762.75 313.75h7v7h-7zM811.75 313.75h7v7h-7zM1182.75 313.75h7v7h-7zM1210.75 313.75h7v7h-7zM1154.75 320.75h7v7h-7zM678.75 327.75h14v7h-14zM1098.75 327.75h21v7h-21zM699.75 432.75h7v7h-7zM1028.75 432.75h14v7h-14zM1105.75 432.75h14v7h-14zM720.75 439.75h7v7h-7zM755.75 439.75h7v7h-7zM825.75 439.75h7v7h-7zM860.75 439.75h14v7h-14zM979.75 439.75h7v7h-7zM1161.75 439.75h7v7h-7z"/><path fill="rgb(40,40,40)" d="M979.75 75.75h7v7h-7zM993.75 82.75h7v7h-7zM1021.75 124.75h7v7h-7zM902.75 131.75h7v7h-7zM1035.75 201.75h7v7h-7zM1035.75 208.75h7v7h-7zM888.75 236.75h7v7h-7zM888.75 243.75h7v7h-7zM881.75 278.75h7v7h-7zM1042.75 285.75h7v7h-7zM734.75 306.75h7v7h-7zM846.75 306.75h7v7h-7zM818.75 313.75h7v7h-7zM1189.75 313.75h7v7h-7zM1203.75 313.75h7v7h-7zM706.75 320.75h7v7h-7zM776.75 320.75h14v7h-14zM1070.75 320.75h7v7h-7zM1161.75 320.75h7v7h-7zM1224.75 320.75h7v7h-7zM692.75 327.75h7v7h-7zM1084.75 327.75h14v7h-14zM1119.75 327.75h21v7h-21zM1238.75 327.75h21v7h-21zM1021.75 432.75h7v7h-7zM1119.75 432.75h14v7h-14zM832.75 439.75h28v7h-28zM874.75 439.75h84v7h-84zM965.75 439.75h14v7h-14zM1168.75 439.75h7v7h-7zM1224.75 439.75h7v7h-7z"/><path fill="rgb(41,41,41)" d="M951.75 75.75h7v7h-7zM972.75 75.75h7v7h-7zM1000.75 89.75h7v7h-7zM916.75 103.75h7v7h-7zM1014.75 110.75h7v7h-7zM1028.75 152.75h7v7h-7zM895.75 166.75h7v7h-7zM1035.75 215.75h7v7h-7zM1035.75 222.75h7v7h-7zM888.75 250.75h7v7h-7zM874.75 292.75h7v7h-7zM867.75 299.75h7v7h-7zM853.75 306.75h7v7h-7zM720.75 313.75h7v7h-7zM755.75 313.75h7v7h-7zM1056.75 313.75h7v7h-7zM1196.75 313.75h7v7h-7zM790.75 320.75h7v7h-7zM1168.75 320.75h7v7h-7zM1140.75 327.75h7v7h-7zM706.75 432.75h7v7h-7zM776.75 432.75h14v7h-14zM1014.75 432.75h7v7h-7zM1133.75 432.75h7v7h-7zM727.75 439.75h7v7h-7zM748.75 439.75h7v7h-7zM958.75 439.75h7v7h-7z"/><path fill="rgb(42,42,42)" d="M958.75 75.75h14v7h-14zM937.75 82.75h7v7h-7zM909.75 117.75h7v7h-7zM902.75 138.75h7v7h-7zM1028.75 159.75h7v7h-7zM895.75 173.75h7v7h-7zM1035.75 229.75h7v7h-7zM1035.75 236.75h7v7h-7zM1035.75 243.75h7v7h-7zM888.75 257.75h7v7h-7zM888.75 264.75h7v7h-7zM881.75 285.75h7v7h-7zM1042.75 292.75h7v7h-7zM1049.75 306.75h7v7h-7zM727.75 313.75h7v7h-7zM748.75 313.75h7v7h-7zM825.75 313.75h7v7h-7zM769.75 320.75h7v7h-7zM797.75 320.75h14v7h-14zM1063.75 320.75h7v7h-7zM1175.75 320.75h7v7h-7zM1217.75 320.75h7v7h-7zM699.75 327.75h7v7h-7zM1077.75 327.75h7v7h-7zM1147.75 327.75h7v7h-7zM1231.75 327.75h7v7h-7zM678.75 425.75h14v7h-14zM790.75 432.75h14v7h-14zM1007.75 432.75h7v7h-7zM1140.75 432.75h7v7h-7zM741.75 439.75h7v7h-7zM1175.75 439.75h7v7h-7z"/><path fill="rgb(43,43,43)" d="M986.75 82.75h7v7h-7zM923.75 96.75h7v7h-7zM1007.75 103.75h7v7h-7zM1021.75 131.75h7v7h-7zM895.75 180.75h7v7h-7zM1035.75 250.75h7v7h-7zM1035.75 257.75h7v7h-7zM1035.75 264.75h7v7h-7zM888.75 271.75h7v7h-7zM1042.75 299.75h7v7h-7zM860.75 306.75h7v7h-7zM741.75 313.75h7v7h-7zM832.75 313.75h14v7h-14zM713.75 320.75h7v7h-7zM1182.75 320.75h7v7h-7zM1070.75 327.75h7v7h-7zM1154.75 327.75h7v7h-7zM678.75 334.75h14v7h-14zM1098.75 334.75h21v7h-21zM692.75 425.75h7v7h-7zM769.75 432.75h7v7h-7zM804.75 432.75h7v7h-7zM1238.75 432.75h21v7h-21zM734.75 439.75h7v7h-7zM1182.75 439.75h7v7h-7zM1217.75 439.75h7v7h-7z"/><path fill="rgb(44,44,44)" d="M930.75 89.75h7v7h-7zM1014.75 117.75h7v7h-7zM902.75 145.75h7v7h-7zM1028.75 166.75h7v7h-7zM895.75 187.75h7v7h-7zM895.75 194.75h7v7h-7zM1035.75 271.75h7v7h-7zM734.75 313.75h7v7h-7zM1049.75 313.75h7v7h-7zM762.75 320.75h7v7h-7zM811.75 320.75h7v7h-7zM1056.75 320.75h7v7h-7zM1210.75 320.75h7v7h-7zM776.75 327.75h14v7h-14zM1161.75 327.75h7v7h-7zM1224.75 327.75h7v7h-7zM692.75 334.75h7v7h-7zM1084.75 334.75h14v7h-14zM1119.75 334.75h21v7h-21zM1245.75 334.75h14v7h-14zM1042.75 425.75h63v7h-63zM713.75 432.75h7v7h-7zM811.75 432.75h7v7h-7zM1000.75 432.75h7v7h-7zM1147.75 432.75h7v7h-7zM1189.75 439.75h7v7h-7zM1210.75 439.75h7v7h-7z"/><path fill="rgb(45,45,45)" d="M1000.75 96.75h7v7h-7zM916.75 110.75h7v7h-7zM909.75 124.75h7v7h-7zM1021.75 138.75h7v7h-7zM1028.75 173.75h7v7h-7zM895.75 201.75h7v7h-7zM888.75 278.75h7v7h-7zM1035.75 278.75h7v7h-7zM881.75 292.75h7v7h-7zM874.75 299.75h7v7h-7zM867.75 306.75h7v7h-7zM846.75 313.75h7v7h-7zM720.75 320.75h7v7h-7zM755.75 320.75h7v7h-7zM818.75 320.75h7v7h-7zM1189.75 320.75h7v7h-7zM1203.75 320.75h7v7h-7zM706.75 327.75h7v7h-7zM790.75 327.75h7v7h-7zM1063.75 327.75h7v7h-7zM1168.75 327.75h7v7h-7zM1077.75 334.75h7v7h-7zM1140.75 334.75h7v7h-7zM1238.75 334.75h7v7h-7zM699.75 425.75h7v7h-7zM1035.75 425.75h7v7h-7zM1105.75 425.75h14v7h-14zM762.75 432.75h7v7h-7zM818.75 432.75h7v7h-7zM993.75 432.75h7v7h-7zM1154.75 432.75h7v7h-7zM1231.75 432.75h7v7h-7zM1196.75 439.75h14v7h-14z"/><path fill="rgb(46,46,46)" d="M944.75 82.75h7v7h-7zM993.75 89.75h7v7h-7zM902.75 152.75h7v7h-7zM1028.75 180.75h7v7h-7zM895.75 208.75h7v7h-7zM895.75 215.75h7v7h-7zM895.75 222.75h7v7h-7zM1035.75 285.75h7v7h-7zM1042.75 306.75h7v7h-7zM853.75 313.75h7v7h-7zM825.75 320.75h7v7h-7zM1196.75 320.75h7v7h-7zM769.75 327.75h7v7h-7zM797.75 327.75h7v7h-7zM699.75 334.75h7v7h-7zM1147.75 334.75h7v7h-7zM1231.75 334.75h7v7h-7zM678.75 341.75h14v7h-14zM1021.75 425.75h14v7h-14zM1119.75 425.75h14v7h-14zM720.75 432.75h7v7h-7zM979.75 432.75h14v7h-14zM1161.75 432.75h7v7h-7z"/><path fill="rgb(47,47,47)" d="M979.75 82.75h7v7h-7zM923.75 103.75h7v7h-7zM1028.75 187.75h7v7h-7zM895.75 229.75h7v7h-7zM895.75 236.75h7v7h-7zM895.75 243.75h7v7h-7zM895.75 250.75h7v7h-7zM888.75 285.75h7v7h-7zM1035.75 292.75h7v7h-7zM860.75 313.75h7v7h-7zM727.75 320.75h7v7h-7zM748.75 320.75h7v7h-7zM832.75 320.75h7v7h-7zM1049.75 320.75h7v7h-7zM713.75 327.75h7v7h-7zM804.75 327.75h7v7h-7zM1056.75 327.75h7v7h-7zM1175.75 327.75h7v7h-7zM1217.75 327.75h7v7h-7zM1070.75 334.75h7v7h-7zM1154.75 334.75h7v7h-7zM1091.75 341.75h35v7h-35zM1133.75 425.75h7v7h-7zM755.75 432.75h7v7h-7zM825.75 432.75h63v7h-63zM902.75 432.75h49v7h-49zM972.75 432.75h7v7h-7zM1168.75 432.75h7v7h-7zM1224.75 432.75h7v7h-7z"/><path fill="rgb(48,48,48)" d="M951.75 82.75h7v7h-7zM1007.75 110.75h7v7h-7zM1014.75 124.75h7v7h-7zM909.75 131.75h7v7h-7zM1021.75 145.75h7v7h-7zM902.75 159.75h7v7h-7zM1028.75 194.75h7v7h-7zM895.75 257.75h7v7h-7zM895.75 264.75h7v7h-7zM881.75 299.75h7v7h-7zM1035.75 299.75h7v7h-7zM874.75 306.75h7v7h-7zM1042.75 313.75h7v7h-7zM741.75 320.75h7v7h-7zM839.75 320.75h7v7h-7zM762.75 327.75h7v7h-7zM811.75 327.75h7v7h-7zM1182.75 327.75h7v7h-7zM1210.75 327.75h7v7h-7zM692.75 341.75h7v7h-7zM1084.75 341.75h7v7h-7zM1126.75 341.75h14v7h-14zM1245.75 341.75h14v7h-14zM678.75 418.75h14v7h-14zM706.75 425.75h7v7h-7zM776.75 425.75h21v7h-21zM1014.75 425.75h7v7h-7zM748.75 432.75h7v7h-7zM888.75 432.75h14v7h-14zM951.75 432.75h21v7h-21z"/><path fill="rgb(49,49,49)" d="M972.75 82.75h7v7h-7zM937.75 89.75h7v7h-7zM930.75 96.75h7v7h-7zM1028.75 201.75h7v7h-7zM1028.75 208.75h7v7h-7zM895.75 271.75h7v7h-7zM888.75 292.75h7v7h-7zM867.75 313.75h7v7h-7zM734.75 320.75h7v7h-7zM846.75 320.75h7v7h-7zM1203.75 327.75h7v7h-7zM706.75 334.75h7v7h-7zM776.75 334.75h21v7h-21zM1063.75 334.75h7v7h-7zM1161.75 334.75h7v7h-7zM1224.75 334.75h7v7h-7zM1077.75 341.75h7v7h-7zM1140.75 341.75h7v7h-7zM1238.75 341.75h7v7h-7zM692.75 418.75h7v7h-7zM797.75 425.75h7v7h-7zM1140.75 425.75h7v7h-7zM1245.75 425.75h14v7h-14zM727.75 432.75h7v7h-7zM1175.75 432.75h7v7h-7z"/><path fill="rgb(50,50,50)" d="M958.75 82.75h14v7h-14zM1000.75 103.75h7v7h-7zM916.75 117.75h7v7h-7zM1021.75 152.75h7v7h-7zM902.75 166.75h7v7h-7zM1028.75 215.75h7v7h-7zM1028.75 222.75h7v7h-7zM1028.75 229.75h7v7h-7zM1028.75 236.75h7v7h-7zM1028.75 243.75h7v7h-7zM1028.75 250.75h7v7h-7zM1028.75 257.75h7v7h-7zM1028.75 264.75h7v7h-7zM1028.75 271.75h7v7h-7zM895.75 278.75h7v7h-7zM1035.75 306.75h7v7h-7zM720.75 327.75h7v7h-7zM755.75 327.75h7v7h-7zM818.75 327.75h7v7h-7zM1049.75 327.75h7v7h-7zM1189.75 327.75h7v7h-7zM797.75 334.75h7v7h-7zM1168.75 334.75h7v7h-7zM699.75 341.75h7v7h-7zM1070.75 341.75h7v7h-7zM678.75 348.75h14v7h-14zM1049.75 418.75h63v7h-63zM769.75 425.75h7v7h-7zM804.75 425.75h7v7h-7zM1007.75 425.75h7v7h-7zM1147.75 425.75h7v7h-7zM1238.75 425.75h7v7h-7zM741.75 432.75h7v7h-7zM1217.75 432.75h7v7h-7z"/><path fill="rgb(51,51,51)" d="M986.75 89.75h7v7h-7zM993.75 96.75h7v7h-7zM1028.75 278.75h7v7h-7zM895.75 285.75h7v7h-7zM1028.75 285.75h7v7h-7zM853.75 320.75h7v7h-7zM1042.75 320.75h7v7h-7zM825.75 327.75h7v7h-7zM1196.75 327.75h7v7h-7zM769.75 334.75h7v7h-7zM804.75 334.75h7v7h-7zM1056.75 334.75h7v7h-7zM1175.75 334.75h7v7h-7zM1147.75 341.75h7v7h-7zM1231.75 341.75h7v7h-7zM692.75 348.75h7v7h-7zM1091.75 348.75h35v7h-35zM699.75 418.75h7v7h-7zM1035.75 418.75h14v7h-14zM1112.75 418.75h7v7h-7zM713.75 425.75h7v7h-7zM811.75 425.75h7v7h-7zM1000.75 425.75h7v7h-7zM1154.75 425.75h7v7h-7zM734.75 432.75h7v7h-7zM1182.75 432.75h7v7h-7zM1210.75 432.75h7v7h-7z"/><path fill="rgb(52,52,52)" d="M1014.75 131.75h7v7h-7zM909.75 138.75h7v7h-7zM902.75 173.75h7v7h-7zM1028.75 292.75h7v7h-7zM888.75 299.75h7v7h-7zM881.75 306.75h7v7h-7zM874.75 313.75h7v7h-7zM1035.75 313.75h7v7h-7zM860.75 320.75h7v7h-7zM727.75 327.75h7v7h-7zM748.75 327.75h7v7h-7zM832.75 327.75h7v7h-7zM713.75 334.75h7v7h-7zM1217.75 334.75h7v7h-7zM1063.75 341.75h7v7h-7zM1154.75 341.75h7v7h-7zM1077.75 348.75h14v7h-14zM1126.75 348.75h14v7h-14zM1245.75 348.75h14v7h-14zM1028.75 418.75h7v7h-7zM1119.75 418.75h14v7h-14zM762.75 425.75h7v7h-7zM1231.75 425.75h7v7h-7zM1189.75 432.75h7v7h-7zM1203.75 432.75h7v7h-7z"/><path fill="rgb(53,53,53)" d="M1021.75 159.75h7v7h-7zM902.75 180.75h7v7h-7zM839.75 327.75h7v7h-7zM1042.75 327.75h7v7h-7zM762.75 334.75h7v7h-7zM811.75 334.75h7v7h-7zM1049.75 334.75h7v7h-7zM1182.75 334.75h7v7h-7zM1210.75 334.75h7v7h-7zM706.75 341.75h7v7h-7zM776.75 341.75h14v7h-14zM1161.75 341.75h7v7h-7zM1224.75 341.75h7v7h-7zM1070.75 348.75h7v7h-7zM1140.75 348.75h7v7h-7zM1238.75 348.75h7v7h-7zM678.75 355.75h14v7h-14zM678.75 411.75h14v7h-14zM1021.75 418.75h7v7h-7zM1133.75 418.75h7v7h-7zM818.75 425.75h7v7h-7zM986.75 425.75h14v7h-14zM1161.75 425.75h7v7h-7zM1196.75 432.75h7v7h-7z"/><path fill="rgb(54,54,54)" d="M944.75 89.75h7v7h-7zM923.75 110.75h7v7h-7zM1007.75 117.75h7v7h-7zM895.75 292.75h7v7h-7zM1028.75 299.75h7v7h-7zM867.75 320.75h7v7h-7zM741.75 327.75h7v7h-7zM846.75 327.75h7v7h-7zM790.75 341.75h7v7h-7zM1056.75 341.75h7v7h-7zM699.75 348.75h7v7h-7zM1098.75 355.75h14v7h-14zM692.75 411.75h7v7h-7zM776.75 418.75h14v7h-14zM1140.75 418.75h7v7h-7zM720.75 425.75h7v7h-7zM755.75 425.75h7v7h-7zM825.75 425.75h7v7h-7zM979.75 425.75h7v7h-7zM1168.75 425.75h7v7h-7zM1224.75 425.75h7v7h-7z"/><path fill="rgb(55,55,55)" d="M916.75 124.75h7v7h-7zM1021.75 166.75h7v7h-7zM902.75 187.75h7v7h-7zM902.75 264.75h7v7h-7zM902.75 271.75h7v7h-7zM888.75 306.75h7v7h-7zM1028.75 306.75h7v7h-7zM1035.75 320.75h7v7h-7zM734.75 327.75h7v7h-7zM720.75 334.75h7v7h-7zM755.75 334.75h7v7h-7zM818.75 334.75h7v7h-7zM1189.75 334.75h7v7h-7zM1203.75 334.75h7v7h-7zM797.75 341.75h7v7h-7zM1168.75 341.75h7v7h-7zM1063.75 348.75h7v7h-7zM1147.75 348.75h7v7h-7zM1231.75 348.75h7v7h-7zM692.75 355.75h7v7h-7zM1084.75 355.75h14v7h-14zM1112.75 355.75h21v7h-21zM1056.75 411.75h56v7h-56zM706.75 418.75h7v7h-7zM790.75 418.75h7v7h-7zM1014.75 418.75h7v7h-7zM1245.75 418.75h14v7h-14zM832.75 425.75h63v7h-63zM902.75 425.75h49v7h-49zM972.75 425.75h7v7h-7z"/><path fill="rgb(56,56,56)" d="M979.75 89.75h7v7h-7zM937.75 96.75h7v7h-7zM930.75 103.75h7v7h-7zM909.75 145.75h7v7h-7zM902.75 194.75h7v7h-7zM902.75 201.75h7v7h-7zM902.75 243.75h7v7h-7zM902.75 250.75h7v7h-7zM902.75 257.75h7v7h-7zM902.75 278.75h7v7h-7zM895.75 299.75h7v7h-7zM881.75 313.75h7v7h-7zM853.75 327.75h7v7h-7zM1042.75 334.75h7v7h-7zM1196.75 334.75h7v7h-7zM769.75 341.75h7v7h-7zM804.75 341.75h7v7h-7zM1049.75 341.75h7v7h-7zM1175.75 341.75h7v7h-7zM1154.75 348.75h7v7h-7zM1077.75 355.75h7v7h-7zM1133.75 355.75h7v7h-7zM1245.75 355.75h14v7h-14zM678.75 362.75h14v7h-14zM699.75 411.75h7v7h-7zM1042.75 411.75h14v7h-14zM1112.75 411.75h7v7h-7zM797.75 418.75h7v7h-7zM1147.75 418.75h7v7h-7zM1238.75 418.75h7v7h-7zM748.75 425.75h7v7h-7zM895.75 425.75h7v7h-7zM951.75 425.75h21v7h-21zM1175.75 425.75h7v7h-7z"/><path fill="rgb(57,57,57)" d="M1014.75 138.75h7v7h-7zM902.75 208.75h7v7h-7zM902.75 215.75h7v7h-7zM902.75 222.75h7v7h-7zM902.75 229.75h7v7h-7zM902.75 236.75h7v7h-7zM902.75 285.75h7v7h-7zM1028.75 313.75h7v7h-7zM874.75 320.75h7v7h-7zM860.75 327.75h7v7h-7zM727.75 334.75h7v7h-7zM748.75 334.75h7v7h-7zM825.75 334.75h7v7h-7zM713.75 341.75h7v7h-7zM1217.75 341.75h7v7h-7zM706.75 348.75h7v7h-7zM776.75 348.75h14v7h-14zM1056.75 348.75h7v7h-7zM699.75 355.75h7v7h-7zM1070.75 355.75h7v7h-7zM1140.75 355.75h7v7h-7zM1238.75 355.75h7v7h-7zM1098.75 362.75h7v7h-7zM678.75 404.75h14v7h-14zM1035.75 411.75h7v7h-7zM1119.75 411.75h14v7h-14zM769.75 418.75h7v7h-7zM804.75 418.75h7v7h-7zM1007.75 418.75h7v7h-7zM727.75 425.75h7v7h-7zM1217.75 425.75h7v7h-7z"/><path fill="rgb(58,58,58)" d="M1000.75 110.75h7v7h-7zM1021.75 173.75h7v7h-7zM1021.75 278.75h7v7h-7zM1021.75 285.75h7v7h-7zM1035.75 327.75h7v7h-7zM832.75 334.75h14v7h-14zM762.75 341.75h7v7h-7zM811.75 341.75h7v7h-7zM1182.75 341.75h7v7h-7zM1210.75 341.75h7v7h-7zM790.75 348.75h7v7h-7zM1161.75 348.75h7v7h-7zM1224.75 348.75h7v7h-7zM1063.75 355.75h7v7h-7zM692.75 362.75h7v7h-7zM1084.75 362.75h14v7h-14zM1105.75 362.75h28v7h-28zM692.75 404.75h7v7h-7zM1028.75 411.75h7v7h-7zM1133.75 411.75h7v7h-7zM713.75 418.75h7v7h-7zM811.75 418.75h7v7h-7zM1154.75 418.75h7v7h-7zM1231.75 418.75h7v7h-7zM741.75 425.75h7v7h-7zM1182.75 425.75h7v7h-7z"/><path fill="rgb(59,59,59)" d="M951.75 89.75h7v7h-7zM986.75 96.75h7v7h-7zM993.75 103.75h7v7h-7zM1021.75 180.75h7v7h-7zM1021.75 264.75h7v7h-7zM1021.75 271.75h7v7h-7zM902.75 292.75h7v7h-7zM1021.75 292.75h7v7h-7zM867.75 327.75h7v7h-7zM741.75 334.75h7v7h-7zM846.75 334.75h7v7h-7zM1042.75 341.75h7v7h-7zM797.75 348.75h7v7h-7zM1049.75 348.75h7v7h-7zM1168.75 348.75h7v7h-7zM1147.75 355.75h7v7h-7zM1231.75 355.75h7v7h-7zM1077.75 362.75h7v7h-7zM1133.75 362.75h7v7h-7zM1245.75 362.75h14v7h-14zM678.75 369.75h14v7h-14zM1070.75 404.75h42v7h-42zM1021.75 411.75h7v7h-7zM762.75 418.75h7v7h-7zM1000.75 418.75h7v7h-7zM1161.75 418.75h7v7h-7zM734.75 425.75h7v7h-7zM1210.75 425.75h7v7h-7z"/><path fill="rgb(60,60,60)" d="M972.75 89.75h7v7h-7zM909.75 152.75h7v7h-7zM1021.75 257.75h7v7h-7zM1021.75 299.75h7v7h-7zM895.75 306.75h7v7h-7zM888.75 313.75h7v7h-7zM881.75 320.75h7v7h-7zM1028.75 320.75h7v7h-7zM734.75 334.75h7v7h-7zM1035.75 334.75h7v7h-7zM720.75 341.75h7v7h-7zM755.75 341.75h7v7h-7zM818.75 341.75h7v7h-7zM1189.75 341.75h7v7h-7zM1203.75 341.75h7v7h-7zM769.75 348.75h7v7h-7zM804.75 348.75h7v7h-7zM1056.75 355.75h7v7h-7zM1154.75 355.75h7v7h-7zM1070.75 362.75h7v7h-7zM1238.75 362.75h7v7h-7zM692.75 369.75h7v7h-7zM1091.75 369.75h28v7h-28zM678.75 376.75h14v7h-14zM678.75 397.75h14v7h-14zM1049.75 404.75h21v7h-21zM1112.75 404.75h14v7h-14zM706.75 411.75h7v7h-7zM776.75 411.75h14v7h-14zM1140.75 411.75h7v7h-7zM1245.75 411.75h14v7h-14zM818.75 418.75h7v7h-7zM993.75 418.75h7v7h-7zM1189.75 425.75h7v7h-7zM1203.75 425.75h7v7h-7z"/><path fill="rgb(61,61,61)" d="M1007.75 124.75h7v7h-7zM916.75 131.75h7v7h-7zM1021.75 187.75h7v7h-7zM1021.75 250.75h7v7h-7zM902.75 299.75h7v7h-7zM1021.75 306.75h7v7h-7zM853.75 334.75h7v7h-7zM1196.75 341.75h7v7h-7zM713.75 348.75h7v7h-7zM1175.75 348.75h7v7h-7zM706.75 355.75h7v7h-7zM776.75 355.75h14v7h-14zM699.75 362.75h7v7h-7zM1063.75 362.75h7v7h-7zM1140.75 362.75h7v7h-7zM1077.75 369.75h14v7h-14zM1119.75 369.75h14v7h-14zM678.75 383.75h14v7h-14zM678.75 390.75h14v7h-14zM692.75 397.75h7v7h-7zM699.75 404.75h7v7h-7zM1042.75 404.75h7v7h-7zM1126.75 404.75h7v7h-7zM790.75 411.75h7v7h-7zM1014.75 411.75h7v7h-7zM1147.75 411.75h7v7h-7zM1238.75 411.75h7v7h-7zM720.75 418.75h7v7h-7zM986.75 418.75h7v7h-7zM1168.75 418.75h7v7h-7zM1224.75 418.75h7v7h-7zM1196.75 425.75h7v7h-7z"/><path fill="rgb(62,62,62)" d="M958.75 89.75h14v7h-14zM923.75 117.75h7v7h-7zM1014.75 145.75h7v7h-7zM1021.75 194.75h7v7h-7zM1021.75 243.75h7v7h-7zM874.75 327.75h7v7h-7zM1028.75 327.75h7v7h-7zM860.75 334.75h7v7h-7zM748.75 341.75h7v7h-7zM825.75 341.75h7v7h-7zM762.75 348.75h7v7h-7zM811.75 348.75h7v7h-7zM1042.75 348.75h7v7h-7zM1217.75 348.75h7v7h-7zM790.75 355.75h7v7h-7zM1049.75 355.75h7v7h-7zM1161.75 355.75h7v7h-7zM1224.75 355.75h7v7h-7zM1056.75 362.75h7v7h-7zM1147.75 362.75h7v7h-7zM1070.75 369.75h7v7h-7zM1133.75 369.75h7v7h-7zM1245.75 369.75h14v7h-14zM692.75 376.75h7v7h-7zM1084.75 376.75h35v7h-35zM1070.75 397.75h42v7h-42zM1133.75 404.75h7v7h-7zM797.75 411.75h7v7h-7zM755.75 418.75h7v7h-7zM825.75 418.75h42v7h-42zM979.75 418.75h7v7h-7z"/><path fill="rgb(63,63,63)" d="M944.75 96.75h7v7h-7zM909.75 159.75h7v7h-7zM1021.75 201.75h7v7h-7zM1021.75 236.75h7v7h-7zM1021.75 313.75h7v7h-7zM727.75 341.75h7v7h-7zM832.75 341.75h7v7h-7zM1035.75 341.75h7v7h-7zM1182.75 348.75h7v7h-7zM1210.75 348.75h7v7h-7zM797.75 355.75h7v7h-7zM1168.75 355.75h7v7h-7zM1231.75 362.75h7v7h-7zM699.75 369.75h7v7h-7zM1063.75 369.75h7v7h-7zM1140.75 369.75h7v7h-7zM1238.75 369.75h7v7h-7zM1077.75 376.75h7v7h-7zM1119.75 376.75h14v7h-14zM692.75 383.75h7v7h-7zM1084.75 383.75h35v7h-35zM692.75 390.75h7v7h-7zM1084.75 390.75h28v7h-28zM1063.75 397.75h7v7h-7zM1112.75 397.75h14v7h-14zM1035.75 404.75h7v7h-7zM1245.75 404.75h14v7h-14zM769.75 411.75h7v7h-7zM804.75 411.75h7v7h-7zM1154.75 411.75h7v7h-7zM1231.75 411.75h7v7h-7zM867.75 418.75h28v7h-28zM909.75 418.75h35v7h-35zM1175.75 418.75h7v7h-7z"/><path fill="rgb(64,64,64)" d="M1021.75 208.75h7v7h-7zM1021.75 215.75h7v7h-7zM1021.75 222.75h7v7h-7zM1021.75 229.75h7v7h-7zM909.75 278.75h7v7h-7zM909.75 285.75h7v7h-7zM902.75 306.75h7v7h-7zM895.75 313.75h7v7h-7zM888.75 320.75h7v7h-7zM741.75 341.75h7v7h-7zM839.75 341.75h14v7h-14zM720.75 348.75h7v7h-7zM818.75 348.75h7v7h-7zM769.75 355.75h7v7h-7zM804.75 355.75h7v7h-7zM776.75 362.75h14v7h-14zM1049.75 362.75h7v7h-7zM1154.75 362.75h7v7h-7zM1056.75 369.75h7v7h-7zM1070.75 376.75h7v7h-7zM1133.75 376.75h7v7h-7zM1245.75 376.75h14v7h-14zM1070.75 383.75h14v7h-14zM1119.75 383.75h14v7h-14zM1070.75 390.75h14v7h-14zM1112.75 390.75h14v7h-14zM699.75 397.75h7v7h-7zM1049.75 397.75h14v7h-14zM1126.75 397.75h14v7h-14zM783.75 404.75h7v7h-7zM1028.75 404.75h7v7h-7zM1140.75 404.75h7v7h-7zM1238.75 404.75h7v7h-7zM713.75 411.75h7v7h-7zM1007.75 411.75h7v7h-7zM727.75 418.75h7v7h-7zM748.75 418.75h7v7h-7zM895.75 418.75h14v7h-14zM944.75 418.75h14v7h-14zM972.75 418.75h7v7h-7zM1217.75 418.75h7v7h-7z"/><path fill="rgb(65,65,65)" d="M909.75 271.75h7v7h-7zM909.75 292.75h7v7h-7zM1021.75 320.75h7v7h-7zM881.75 327.75h7v7h-7zM867.75 334.75h7v7h-7zM1028.75 334.75h7v7h-7zM734.75 341.75h7v7h-7zM755.75 348.75h7v7h-7zM1035.75 348.75h7v7h-7zM1189.75 348.75h7v7h-7zM1203.75 348.75h7v7h-7zM713.75 355.75h7v7h-7zM1042.75 355.75h7v7h-7zM1175.75 355.75h7v7h-7zM706.75 362.75h7v7h-7zM790.75 362.75h7v7h-7zM1161.75 362.75h7v7h-7zM1147.75 369.75h7v7h-7zM699.75 376.75h7v7h-7zM1063.75 376.75h7v7h-7zM1238.75 376.75h7v7h-7zM1063.75 383.75h7v7h-7zM1133.75 383.75h7v7h-7zM1063.75 390.75h7v7h-7zM1126.75 390.75h14v7h-14zM1042.75 397.75h7v7h-7zM706.75 404.75h7v7h-7zM776.75 404.75h7v7h-7zM1021.75 404.75h7v7h-7zM1147.75 404.75h7v7h-7zM762.75 411.75h7v7h-7zM811.75 411.75h7v7h-7zM1161.75 411.75h7v7h-7zM958.75 418.75h14v7h-14zM1182.75 418.75h7v7h-7z"/><path fill="rgb(66,66,66)" d="M979.75 96.75h7v7h-7zM937.75 103.75h7v7h-7zM930.75 110.75h7v7h-7zM1014.75 152.75h7v7h-7zM853.75 341.75h7v7h-7zM825.75 348.75h7v7h-7zM1196.75 348.75h7v7h-7zM811.75 355.75h7v7h-7zM1217.75 355.75h7v7h-7zM1224.75 362.75h7v7h-7zM1049.75 369.75h7v7h-7zM1231.75 369.75h7v7h-7zM1056.75 376.75h7v7h-7zM1140.75 376.75h7v7h-7zM699.75 383.75h7v7h-7zM1056.75 383.75h7v7h-7zM1245.75 383.75h14v7h-14zM699.75 390.75h7v7h-7zM1049.75 390.75h14v7h-14zM1245.75 390.75h14v7h-14zM1140.75 397.75h7v7h-7zM1245.75 397.75h14v7h-14zM790.75 404.75h7v7h-7zM818.75 411.75h7v7h-7zM1000.75 411.75h7v7h-7zM1224.75 411.75h7v7h-7zM741.75 418.75h7v7h-7zM1210.75 418.75h7v7h-7z"/><path fill="rgb(67,67,67)" d="M1000.75 117.75h7v7h-7zM1007.75 131.75h7v7h-7zM916.75 138.75h7v7h-7zM909.75 166.75h7v7h-7zM909.75 264.75h7v7h-7zM1014.75 285.75h7v7h-7zM1014.75 292.75h7v7h-7zM909.75 299.75h7v7h-7zM1014.75 299.75h7v7h-7zM1021.75 327.75h7v7h-7zM874.75 334.75h7v7h-7zM860.75 341.75h7v7h-7zM1028.75 341.75h7v7h-7zM748.75 348.75h7v7h-7zM762.75 355.75h7v7h-7zM1182.75 355.75h7v7h-7zM769.75 362.75h7v7h-7zM797.75 362.75h7v7h-7zM1042.75 362.75h7v7h-7zM1168.75 362.75h7v7h-7zM706.75 369.75h7v7h-7zM776.75 369.75h14v7h-14zM1154.75 369.75h7v7h-7zM1049.75 376.75h7v7h-7zM1147.75 376.75h7v7h-7zM1049.75 383.75h7v7h-7zM1140.75 383.75h7v7h-7zM1238.75 383.75h7v7h-7zM1140.75 390.75h7v7h-7zM1238.75 390.75h7v7h-7zM1035.75 397.75h7v7h-7zM1238.75 397.75h7v7h-7zM797.75 404.75h7v7h-7zM1154.75 404.75h7v7h-7zM1231.75 404.75h7v7h-7zM1168.75 411.75h7v7h-7zM734.75 418.75h7v7h-7zM1189.75 418.75h7v7h-7zM1203.75 418.75h7v7h-7z"/><path fill="rgb(68,68,68)" d="M1014.75 306.75h7v7h-7zM902.75 313.75h7v7h-7zM895.75 320.75h7v7h-7zM727.75 348.75h7v7h-7zM832.75 348.75h7v7h-7zM1035.75 355.75h7v7h-7zM1210.75 355.75h7v7h-7zM804.75 362.75h7v7h-7zM790.75 369.75h7v7h-7zM1161.75 369.75h7v7h-7zM1231.75 376.75h7v7h-7zM1042.75 390.75h7v7h-7zM706.75 397.75h7v7h-7zM776.75 397.75h14v7h-14zM1028.75 397.75h7v7h-7zM1147.75 397.75h7v7h-7zM769.75 404.75h7v7h-7zM804.75 404.75h7v7h-7zM1014.75 404.75h7v7h-7zM720.75 411.75h7v7h-7zM755.75 411.75h7v7h-7zM825.75 411.75h7v7h-7zM993.75 411.75h7v7h-7z"/><path fill="rgb(69,69,69)" d="M951.75 96.75h7v7h-7zM986.75 103.75h7v7h-7zM909.75 173.75h7v7h-7zM909.75 257.75h7v7h-7zM1014.75 278.75h7v7h-7zM909.75 306.75h7v7h-7zM1014.75 313.75h7v7h-7zM888.75 327.75h7v7h-7zM741.75 348.75h7v7h-7zM839.75 348.75h14v7h-14zM1028.75 348.75h7v7h-7zM720.75 355.75h7v7h-7zM755.75 355.75h7v7h-7zM818.75 355.75h7v7h-7zM1203.75 355.75h7v7h-7zM713.75 362.75h7v7h-7zM1175.75 362.75h7v7h-7zM797.75 369.75h7v7h-7zM1042.75 369.75h7v7h-7zM1224.75 369.75h7v7h-7zM706.75 376.75h7v7h-7zM776.75 376.75h14v7h-14zM1042.75 376.75h7v7h-7zM1154.75 376.75h7v7h-7zM1042.75 383.75h7v7h-7zM1147.75 383.75h7v7h-7zM783.75 390.75h7v7h-7zM1147.75 390.75h7v7h-7zM790.75 397.75h7v7h-7zM1231.75 397.75h7v7h-7zM713.75 404.75h7v7h-7zM1161.75 404.75h7v7h-7zM832.75 411.75h35v7h-35zM1175.75 411.75h7v7h-7zM1196.75 418.75h7v7h-7z"/><path fill="rgb(70,70,70)" d="M993.75 110.75h7v7h-7zM923.75 124.75h7v7h-7zM881.75 334.75h7v7h-7zM1021.75 334.75h7v7h-7zM867.75 341.75h7v7h-7zM853.75 348.75h7v7h-7zM1189.75 355.75h7v7h-7zM762.75 362.75h7v7h-7zM811.75 362.75h7v7h-7zM1035.75 362.75h7v7h-7zM1217.75 362.75h7v7h-7zM769.75 369.75h7v7h-7zM1168.75 369.75h7v7h-7zM790.75 376.75h7v7h-7zM706.75 383.75h7v7h-7zM776.75 383.75h14v7h-14zM1154.75 383.75h7v7h-7zM1231.75 383.75h7v7h-7zM706.75 390.75h7v7h-7zM776.75 390.75h7v7h-7zM1035.75 390.75h7v7h-7zM1231.75 390.75h7v7h-7zM797.75 397.75h7v7h-7zM1021.75 397.75h7v7h-7zM1154.75 397.75h7v7h-7zM811.75 404.75h7v7h-7zM1224.75 404.75h7v7h-7zM748.75 411.75h7v7h-7zM867.75 411.75h14v7h-14zM986.75 411.75h7v7h-7zM1217.75 411.75h7v7h-7z"/><path fill="rgb(71,71,71)" d="M972.75 96.75h7v7h-7zM1014.75 159.75h7v7h-7zM909.75 250.75h7v7h-7zM1014.75 271.75h7v7h-7zM1014.75 320.75h7v7h-7zM734.75 348.75h7v7h-7zM748.75 355.75h7v7h-7zM825.75 355.75h7v7h-7zM1196.75 355.75h7v7h-7zM804.75 369.75h7v7h-7zM797.75 376.75h7v7h-7zM1161.75 376.75h7v7h-7zM790.75 383.75h7v7h-7zM790.75 390.75h7v7h-7zM1154.75 390.75h7v7h-7zM769.75 397.75h7v7h-7zM804.75 397.75h7v7h-7zM762.75 404.75h7v7h-7zM1007.75 404.75h7v7h-7zM1168.75 404.75h7v7h-7zM727.75 411.75h7v7h-7zM881.75 411.75h42v7h-42zM979.75 411.75h7v7h-7zM1182.75 411.75h7v7h-7z"/><path fill="rgb(72,72,72)" d="M909.75 180.75h7v7h-7zM874.75 341.75h7v7h-7zM1021.75 341.75h7v7h-7zM860.75 348.75h7v7h-7zM727.75 355.75h7v7h-7zM832.75 355.75h7v7h-7zM1028.75 355.75h7v7h-7zM720.75 362.75h7v7h-7zM818.75 362.75h7v7h-7zM1182.75 362.75h7v7h-7zM1210.75 362.75h7v7h-7zM713.75 369.75h7v7h-7zM1035.75 369.75h7v7h-7zM769.75 376.75h7v7h-7zM1035.75 376.75h7v7h-7zM1224.75 376.75h7v7h-7zM797.75 383.75h7v7h-7zM1035.75 383.75h7v7h-7zM1161.75 383.75h7v7h-7zM797.75 390.75h7v7h-7zM1028.75 390.75h7v7h-7zM1161.75 397.75h7v7h-7zM818.75 404.75h7v7h-7zM741.75 411.75h7v7h-7zM923.75 411.75h28v7h-28zM972.75 411.75h7v7h-7zM1210.75 411.75h7v7h-7z"/><path fill="rgb(73,73,73)" d="M958.75 96.75h14v7h-14zM916.75 145.75h7v7h-7zM909.75 187.75h7v7h-7zM909.75 243.75h7v7h-7zM916.75 292.75h7v7h-7zM916.75 299.75h7v7h-7zM909.75 313.75h7v7h-7zM902.75 320.75h7v7h-7zM895.75 327.75h7v7h-7zM839.75 355.75h7v7h-7zM755.75 362.75h7v7h-7zM762.75 369.75h7v7h-7zM811.75 369.75h7v7h-7zM1175.75 369.75h7v7h-7zM1217.75 369.75h7v7h-7zM804.75 376.75h7v7h-7zM1168.75 376.75h7v7h-7zM769.75 383.75h7v7h-7zM1224.75 383.75h7v7h-7zM769.75 390.75h7v7h-7zM804.75 390.75h7v7h-7zM1161.75 390.75h7v7h-7zM713.75 397.75h7v7h-7zM811.75 397.75h7v7h-7zM1014.75 397.75h7v7h-7zM1224.75 397.75h7v7h-7zM720.75 404.75h7v7h-7zM755.75 404.75h7v7h-7zM1175.75 404.75h7v7h-7zM951.75 411.75h7v7h-7zM1189.75 411.75h7v7h-7z"/><path fill="rgb(74,74,74)" d="M944.75 103.75h7v7h-7zM1007.75 138.75h7v7h-7zM1014.75 166.75h7v7h-7zM909.75 236.75h7v7h-7zM1014.75 264.75h7v7h-7zM1014.75 327.75h7v7h-7zM888.75 334.75h7v7h-7zM867.75 348.75h7v7h-7zM1021.75 348.75h7v7h-7zM741.75 355.75h7v7h-7zM846.75 355.75h7v7h-7zM1028.75 362.75h7v7h-7zM1189.75 362.75h7v7h-7zM1203.75 362.75h7v7h-7zM713.75 376.75h7v7h-7zM804.75 383.75h7v7h-7zM1028.75 383.75h7v7h-7zM1168.75 383.75h7v7h-7zM1021.75 390.75h7v7h-7zM1224.75 390.75h7v7h-7zM762.75 397.75h7v7h-7zM1168.75 397.75h7v7h-7zM825.75 404.75h7v7h-7zM1000.75 404.75h7v7h-7zM734.75 411.75h7v7h-7zM958.75 411.75h14v7h-14zM1203.75 411.75h7v7h-7z"/><path fill="rgb(75,75,75)" d="M909.75 194.75h7v7h-7zM909.75 229.75h7v7h-7zM916.75 285.75h7v7h-7zM916.75 306.75h7v7h-7zM1007.75 306.75h7v7h-7zM881.75 341.75h7v7h-7zM734.75 355.75h7v7h-7zM853.75 355.75h7v7h-7zM748.75 362.75h7v7h-7zM825.75 362.75h7v7h-7zM1196.75 362.75h7v7h-7zM720.75 369.75h7v7h-7zM818.75 369.75h7v7h-7zM1028.75 369.75h7v7h-7zM1182.75 369.75h7v7h-7zM762.75 376.75h7v7h-7zM811.75 376.75h7v7h-7zM1028.75 376.75h7v7h-7zM1175.75 376.75h7v7h-7zM713.75 383.75h7v7h-7zM713.75 390.75h7v7h-7zM811.75 390.75h7v7h-7zM1168.75 390.75h7v7h-7zM832.75 404.75h28v7h-28zM1217.75 404.75h7v7h-7zM1196.75 411.75h7v7h-7z"/><path fill="rgb(76,76,76)" d="M930.75 117.75h7v7h-7zM1000.75 124.75h7v7h-7zM909.75 201.75h7v7h-7zM909.75 208.75h7v7h-7zM909.75 215.75h7v7h-7zM909.75 222.75h7v7h-7zM1007.75 299.75h7v7h-7zM1007.75 313.75h7v7h-7zM1014.75 334.75h7v7h-7zM860.75 355.75h7v7h-7zM1021.75 355.75h7v7h-7zM727.75 362.75h7v7h-7zM832.75 362.75h7v7h-7zM755.75 369.75h7v7h-7zM1210.75 369.75h7v7h-7zM1217.75 376.75h7v7h-7zM762.75 383.75h7v7h-7zM811.75 383.75h7v7h-7zM762.75 390.75h7v7h-7zM818.75 397.75h7v7h-7zM1175.75 397.75h7v7h-7zM727.75 404.75h7v7h-7zM748.75 404.75h7v7h-7zM860.75 404.75h14v7h-14zM993.75 404.75h7v7h-7zM1182.75 404.75h7v7h-7z"/><path fill="rgb(77,77,77)" d="M979.75 103.75h7v7h-7zM937.75 110.75h7v7h-7zM1014.75 173.75h7v7h-7zM1014.75 257.75h7v7h-7zM916.75 278.75h7v7h-7zM909.75 320.75h7v7h-7zM902.75 327.75h7v7h-7zM874.75 348.75h7v7h-7zM839.75 362.75h7v7h-7zM1021.75 362.75h7v7h-7zM1189.75 369.75h7v7h-7zM1203.75 369.75h7v7h-7zM818.75 376.75h7v7h-7zM1021.75 383.75h7v7h-7zM1175.75 383.75h7v7h-7zM1175.75 390.75h7v7h-7zM720.75 397.75h7v7h-7zM755.75 397.75h7v7h-7zM1007.75 397.75h7v7h-7zM1217.75 397.75h7v7h-7zM874.75 404.75h7v7h-7zM1210.75 404.75h7v7h-7z"/><path fill="rgb(78,78,78)" d="M923.75 131.75h7v7h-7zM1007.75 292.75h7v7h-7zM916.75 313.75h7v7h-7zM1007.75 320.75h7v7h-7zM895.75 334.75h7v7h-7zM1014.75 341.75h7v7h-7zM867.75 355.75h7v7h-7zM741.75 362.75h7v7h-7zM846.75 362.75h7v7h-7zM748.75 369.75h7v7h-7zM825.75 369.75h7v7h-7zM1021.75 369.75h7v7h-7zM720.75 376.75h7v7h-7zM755.75 376.75h7v7h-7zM1021.75 376.75h7v7h-7zM1182.75 376.75h7v7h-7zM1210.75 376.75h7v7h-7zM818.75 383.75h7v7h-7zM1217.75 383.75h7v7h-7zM818.75 390.75h7v7h-7zM1014.75 390.75h7v7h-7zM1217.75 390.75h7v7h-7zM825.75 397.75h7v7h-7zM741.75 404.75h7v7h-7zM881.75 404.75h14v7h-14zM986.75 404.75h7v7h-7zM1189.75 404.75h7v7h-7zM1203.75 404.75h7v7h-7z"/><path fill="rgb(79,79,79)" d="M916.75 152.75h7v7h-7zM1014.75 250.75h7v7h-7zM888.75 341.75h7v7h-7zM734.75 362.75h7v7h-7zM853.75 362.75h7v7h-7zM727.75 369.75h7v7h-7zM832.75 369.75h7v7h-7zM1196.75 369.75h7v7h-7zM720.75 383.75h7v7h-7zM755.75 383.75h7v7h-7zM1182.75 383.75h7v7h-7zM720.75 390.75h7v7h-7zM755.75 390.75h7v7h-7zM832.75 397.75h7v7h-7zM1182.75 397.75h7v7h-7zM895.75 404.75h28v7h-28zM979.75 404.75h7v7h-7z"/><path fill="rgb(80,80,80)" d="M1007.75 145.75h7v7h-7zM1014.75 180.75h7v7h-7zM1007.75 327.75h7v7h-7zM881.75 348.75h7v7h-7zM1014.75 348.75h7v7h-7zM860.75 362.75h7v7h-7zM839.75 369.75h7v7h-7zM825.75 376.75h7v7h-7zM1189.75 376.75h7v7h-7zM1203.75 376.75h7v7h-7zM825.75 383.75h7v7h-7zM1210.75 383.75h7v7h-7zM825.75 390.75h7v7h-7zM1182.75 390.75h7v7h-7zM1210.75 390.75h7v7h-7zM727.75 397.75h7v7h-7zM748.75 397.75h7v7h-7zM839.75 397.75h28v7h-28zM1210.75 397.75h7v7h-7zM734.75 404.75h7v7h-7zM923.75 404.75h21v7h-21zM1196.75 404.75h7v7h-7z"/><path fill="rgb(81,81,81)" d="M951.75 103.75h7v7h-7zM986.75 110.75h7v7h-7zM993.75 117.75h7v7h-7zM916.75 271.75h7v7h-7zM1007.75 285.75h7v7h-7zM874.75 355.75h7v7h-7zM741.75 369.75h7v7h-7zM846.75 369.75h7v7h-7zM727.75 376.75h7v7h-7zM748.75 376.75h7v7h-7zM832.75 376.75h7v7h-7zM1014.75 383.75h7v7h-7zM867.75 397.75h7v7h-7zM1000.75 397.75h7v7h-7zM1189.75 397.75h7v7h-7zM1203.75 397.75h7v7h-7zM944.75 404.75h7v7h-7zM972.75 404.75h7v7h-7z"/><path fill="rgb(82,82,82)" d="M1014.75 187.75h7v7h-7zM1014.75 243.75h7v7h-7zM923.75 306.75h7v7h-7zM916.75 320.75h7v7h-7zM909.75 327.75h7v7h-7zM902.75 334.75h7v7h-7zM1014.75 355.75h7v7h-7zM867.75 362.75h7v7h-7zM853.75 369.75h7v7h-7zM839.75 376.75h7v7h-7zM1196.75 376.75h7v7h-7zM727.75 383.75h7v7h-7zM748.75 383.75h7v7h-7zM832.75 383.75h7v7h-7zM1189.75 383.75h7v7h-7zM1203.75 383.75h7v7h-7zM727.75 390.75h7v7h-7zM748.75 390.75h7v7h-7zM832.75 390.75h14v7h-14zM1007.75 390.75h7v7h-7zM1189.75 390.75h7v7h-7zM1203.75 390.75h7v7h-7zM741.75 397.75h7v7h-7zM874.75 397.75h7v7h-7zM951.75 404.75h7v7h-7zM965.75 404.75h7v7h-7z"/><path fill="rgb(83,83,83)" d="M972.75 103.75h7v7h-7zM916.75 159.75h7v7h-7zM1014.75 194.75h7v7h-7zM1014.75 236.75h7v7h-7zM923.75 299.75h7v7h-7zM1007.75 334.75h7v7h-7zM895.75 341.75h7v7h-7zM888.75 348.75h7v7h-7zM1014.75 362.75h7v7h-7zM734.75 369.75h7v7h-7zM860.75 369.75h7v7h-7zM741.75 376.75h7v7h-7zM846.75 376.75h7v7h-7zM1014.75 376.75h7v7h-7zM839.75 383.75h14v7h-14zM1196.75 383.75h7v7h-7zM846.75 390.75h14v7h-14zM881.75 397.75h7v7h-7zM993.75 397.75h7v7h-7zM1196.75 397.75h7v7h-7zM958.75 404.75h7v7h-7z"/><path fill="rgb(84,84,84)" d="M958.75 103.75h7v7h-7zM1000.75 131.75h7v7h-7zM1014.75 201.75h7v7h-7zM1014.75 229.75h7v7h-7zM916.75 264.75h7v7h-7zM1000.75 306.75h7v7h-7zM923.75 313.75h7v7h-7zM1000.75 313.75h7v7h-7zM881.75 355.75h7v7h-7zM1014.75 369.75h7v7h-7zM853.75 376.75h14v7h-14zM741.75 383.75h7v7h-7zM853.75 383.75h7v7h-7zM741.75 390.75h7v7h-7zM860.75 390.75h7v7h-7zM1196.75 390.75h7v7h-7zM734.75 397.75h7v7h-7zM888.75 397.75h7v7h-7z"/><path fill="rgb(85,85,85)" d="M965.75 103.75h7v7h-7zM923.75 138.75h7v7h-7zM1014.75 208.75h7v7h-7zM1014.75 215.75h7v7h-7zM1014.75 222.75h7v7h-7zM1007.75 278.75h7v7h-7zM1000.75 320.75h7v7h-7zM1007.75 341.75h7v7h-7zM874.75 362.75h7v7h-7zM867.75 369.75h7v7h-7zM734.75 376.75h7v7h-7zM860.75 383.75h7v7h-7zM867.75 390.75h7v7h-7zM895.75 397.75h14v7h-14zM986.75 397.75h7v7h-7z"/><path fill="rgb(86,86,86)" d="M930.75 124.75h7v7h-7zM1007.75 152.75h7v7h-7zM923.75 292.75h7v7h-7zM916.75 327.75h7v7h-7zM867.75 376.75h7v7h-7zM734.75 383.75h7v7h-7zM867.75 383.75h7v7h-7zM1007.75 383.75h7v7h-7zM734.75 390.75h7v7h-7zM874.75 390.75h7v7h-7zM1000.75 390.75h7v7h-7zM909.75 397.75h7v7h-7z"/><path fill="rgb(87,87,87)" d="M944.75 110.75h7v7h-7zM916.75 166.75h7v7h-7zM923.75 320.75h7v7h-7zM1000.75 327.75h7v7h-7zM909.75 334.75h7v7h-7zM902.75 341.75h7v7h-7zM895.75 348.75h7v7h-7zM1007.75 348.75h7v7h-7zM888.75 355.75h7v7h-7zM874.75 369.75h7v7h-7zM881.75 390.75h7v7h-7zM916.75 397.75h14v7h-14zM979.75 397.75h7v7h-7z"/><path fill="rgb(88,88,88)" d="M916.75 257.75h7v7h-7zM1000.75 299.75h7v7h-7zM1007.75 355.75h7v7h-7zM881.75 362.75h7v7h-7zM874.75 376.75h7v7h-7zM874.75 383.75h7v7h-7zM888.75 390.75h7v7h-7zM930.75 397.75h14v7h-14z"/><path fill="rgb(89,89,89)" d="M937.75 117.75h7v7h-7zM1007.75 271.75h7v7h-7zM1000.75 334.75h7v7h-7zM1007.75 362.75h7v7h-7zM1007.75 369.75h7v7h-7zM1007.75 376.75h7v7h-7zM944.75 397.75h7v7h-7zM972.75 397.75h7v7h-7z"/><path fill="rgb(90,90,90)" d="M979.75 110.75h7v7h-7zM916.75 250.75h7v7h-7zM923.75 285.75h7v7h-7zM930.75 313.75h7v7h-7zM881.75 369.75h7v7h-7zM881.75 376.75h7v7h-7zM881.75 383.75h7v7h-7zM895.75 390.75h7v7h-7zM993.75 390.75h7v7h-7zM951.75 397.75h7v7h-7z"/><path fill="rgb(91,91,91)" d="M993.75 124.75h7v7h-7zM1007.75 159.75h7v7h-7zM916.75 173.75h7v7h-7zM993.75 320.75h7v7h-7zM923.75 327.75h7v7h-7zM916.75 334.75h7v7h-7zM909.75 341.75h7v7h-7zM1000.75 341.75h7v7h-7zM902.75 348.75h7v7h-7zM895.75 355.75h7v7h-7zM888.75 362.75h7v7h-7zM1000.75 383.75h7v7h-7zM902.75 390.75h7v7h-7zM958.75 397.75h14v7h-14z"/><path fill="rgb(92,92,92)" d="M1000.75 138.75h7v7h-7zM923.75 145.75h7v7h-7zM930.75 306.75h7v7h-7zM993.75 313.75h7v7h-7zM930.75 320.75h7v7h-7zM888.75 383.75h7v7h-7zM909.75 390.75h7v7h-7zM986.75 390.75h7v7h-7z"/><path fill="rgb(93,93,93)" d="M986.75 117.75h7v7h-7zM916.75 180.75h7v7h-7zM916.75 243.75h7v7h-7zM1007.75 264.75h7v7h-7zM1000.75 292.75h7v7h-7zM993.75 327.75h7v7h-7zM1000.75 348.75h7v7h-7zM888.75 369.75h7v7h-7zM888.75 376.75h7v7h-7zM895.75 383.75h7v7h-7zM916.75 390.75h7v7h-7z"/><path fill="rgb(94,94,94)" d="M923.75 278.75h7v7h-7zM902.75 355.75h7v7h-7zM895.75 362.75h7v7h-7zM1000.75 376.75h7v7h-7zM993.75 383.75h7v7h-7zM923.75 390.75h7v7h-7zM979.75 390.75h7v7h-7z"/><path fill="rgb(95,95,95)" d="M951.75 110.75h7v7h-7zM930.75 131.75h7v7h-7zM916.75 187.75h7v7h-7zM916.75 236.75h7v7h-7zM923.75 334.75h7v7h-7zM993.75 334.75h7v7h-7zM916.75 341.75h7v7h-7zM909.75 348.75h7v7h-7zM1000.75 355.75h7v7h-7zM895.75 369.75h7v7h-7zM1000.75 369.75h7v7h-7zM895.75 376.75h7v7h-7zM902.75 383.75h7v7h-7zM930.75 390.75h7v7h-7z"/><path fill="rgb(96,96,96)" d="M1007.75 166.75h7v7h-7zM930.75 299.75h7v7h-7zM993.75 306.75h7v7h-7zM930.75 327.75h7v7h-7zM1000.75 362.75h7v7h-7zM909.75 383.75h7v7h-7zM937.75 390.75h14v7h-14zM972.75 390.75h7v7h-7z"/><path fill="rgb(97,97,97)" d="M972.75 110.75h7v7h-7zM916.75 194.75h7v7h-7zM916.75 229.75h7v7h-7zM1007.75 257.75h7v7h-7zM1000.75 285.75h7v7h-7zM986.75 320.75h7v7h-7zM993.75 341.75h7v7h-7zM909.75 355.75h7v7h-7zM902.75 362.75h7v7h-7zM902.75 376.75h7v7h-7zM986.75 383.75h7v7h-7zM951.75 390.75h7v7h-7z"/><path fill="rgb(98,98,98)" d="M916.75 201.75h7v7h-7zM916.75 208.75h7v7h-7zM916.75 215.75h7v7h-7zM916.75 222.75h7v7h-7zM923.75 271.75h7v7h-7zM937.75 320.75h7v7h-7zM986.75 327.75h7v7h-7zM916.75 348.75h7v7h-7zM902.75 369.75h7v7h-7zM993.75 376.75h7v7h-7zM916.75 383.75h7v7h-7zM958.75 390.75h14v7h-14z"/><path fill="rgb(99,99,99)" d="M958.75 110.75h7v7h-7zM923.75 152.75h7v7h-7zM1007.75 173.75h7v7h-7zM937.75 313.75h7v7h-7zM923.75 341.75h7v7h-7zM993.75 348.75h7v7h-7zM909.75 376.75h7v7h-7zM923.75 383.75h7v7h-7zM979.75 383.75h7v7h-7z"/><path fill="rgb(100,100,100)" d="M965.75 110.75h7v7h-7zM944.75 117.75h7v7h-7zM937.75 124.75h7v7h-7zM1000.75 145.75h7v7h-7zM1007.75 250.75h7v7h-7zM930.75 292.75h7v7h-7zM937.75 327.75h7v7h-7zM930.75 334.75h7v7h-7zM986.75 334.75h7v7h-7zM993.75 355.75h7v7h-7zM909.75 362.75h7v7h-7zM909.75 369.75h7v7h-7zM993.75 369.75h7v7h-7zM930.75 383.75h7v7h-7z"/><path fill="rgb(101,101,101)" d="M993.75 131.75h7v7h-7zM993.75 299.75h7v7h-7zM986.75 313.75h7v7h-7zM916.75 355.75h7v7h-7zM993.75 362.75h7v7h-7zM916.75 376.75h7v7h-7zM986.75 376.75h7v7h-7zM937.75 383.75h7v7h-7z"/><path fill="rgb(102,102,102)" d="M1000.75 278.75h7v7h-7zM986.75 341.75h7v7h-7zM923.75 348.75h7v7h-7zM944.75 383.75h7v7h-7zM972.75 383.75h7v7h-7z"/><path fill="rgb(103,103,103)" d="M1007.75 180.75h7v7h-7zM1007.75 243.75h7v7h-7zM923.75 264.75h7v7h-7zM937.75 306.75h7v7h-7zM944.75 320.75h7v7h-7zM979.75 327.75h7v7h-7zM937.75 334.75h7v7h-7zM930.75 341.75h7v7h-7zM916.75 362.75h7v7h-7zM916.75 369.75h7v7h-7zM923.75 376.75h7v7h-7z"/><path fill="rgb(104,104,104)" d="M979.75 117.75h7v7h-7zM930.75 138.75h7v7h-7zM979.75 320.75h7v7h-7zM944.75 327.75h7v7h-7zM979.75 334.75h7v7h-7zM986.75 348.75h7v7h-7zM986.75 369.75h7v7h-7zM930.75 376.75h7v7h-7zM979.75 376.75h7v7h-7zM951.75 383.75h7v7h-7zM965.75 383.75h7v7h-7z"/><path fill="rgb(105,105,105)" d="M986.75 124.75h7v7h-7zM923.75 159.75h7v7h-7zM1007.75 187.75h7v7h-7zM1007.75 236.75h7v7h-7zM930.75 285.75h7v7h-7zM923.75 355.75h7v7h-7zM986.75 355.75h7v7h-7zM986.75 362.75h7v7h-7zM923.75 369.75h7v7h-7zM958.75 383.75h7v7h-7z"/><path fill="rgb(106,106,106)" d="M986.75 306.75h7v7h-7zM979.75 341.75h7v7h-7zM930.75 348.75h7v7h-7zM923.75 362.75h7v7h-7zM937.75 376.75h7v7h-7z"/><path fill="rgb(107,107,107)" d="M1000.75 152.75h7v7h-7zM1007.75 194.75h7v7h-7zM1007.75 229.75h7v7h-7zM1000.75 271.75h7v7h-7zM993.75 292.75h7v7h-7zM944.75 313.75h7v7h-7zM951.75 327.75h7v7h-7zM972.75 327.75h7v7h-7zM944.75 334.75h7v7h-7zM937.75 341.75h7v7h-7zM930.75 369.75h7v7h-7zM979.75 369.75h7v7h-7zM944.75 376.75h7v7h-7zM972.75 376.75h7v7h-7z"/><path fill="rgb(108,108,108)" d="M1007.75 201.75h7v7h-7zM1007.75 208.75h7v7h-7zM1007.75 215.75h7v7h-7zM1007.75 222.75h7v7h-7zM923.75 257.75h7v7h-7zM937.75 299.75h7v7h-7zM951.75 320.75h7v7h-7zM972.75 334.75h7v7h-7zM979.75 348.75h7v7h-7zM930.75 355.75h7v7h-7zM951.75 376.75h7v7h-7z"/><path fill="rgb(109,109,109)" d="M951.75 117.75h7v7h-7zM979.75 313.75h7v7h-7zM972.75 320.75h7v7h-7zM958.75 327.75h14v7h-14zM951.75 334.75h7v7h-7zM937.75 348.75h7v7h-7zM979.75 355.75h7v7h-7zM930.75 362.75h7v7h-7zM979.75 362.75h7v7h-7zM937.75 369.75h7v7h-7zM965.75 376.75h7v7h-7z"/><path fill="rgb(110,110,110)" d="M923.75 166.75h7v7h-7zM930.75 278.75h7v7h-7zM944.75 341.75h7v7h-7zM972.75 341.75h7v7h-7zM972.75 369.75h7v7h-7zM958.75 376.75h7v7h-7z"/><path fill="rgb(111,111,111)" d="M937.75 131.75h7v7h-7zM993.75 138.75h7v7h-7zM958.75 334.75h14v7h-14zM937.75 355.75h7v7h-7zM937.75 362.75h7v7h-7zM944.75 369.75h7v7h-7z"/><path fill="rgb(112,112,112)" d="M972.75 117.75h7v7h-7zM930.75 145.75h7v7h-7zM923.75 250.75h7v7h-7zM993.75 285.75h7v7h-7zM944.75 306.75h7v7h-7zM958.75 320.75h14v7h-14zM951.75 341.75h7v7h-7zM944.75 348.75h7v7h-7zM972.75 348.75h7v7h-7zM972.75 362.75h7v7h-7z"/><path fill="rgb(113,113,113)" d="M944.75 124.75h7v7h-7zM1000.75 264.75h7v7h-7zM937.75 292.75h7v7h-7zM986.75 299.75h7v7h-7zM951.75 313.75h7v7h-7zM958.75 341.75h14v7h-14zM944.75 355.75h7v7h-7zM972.75 355.75h7v7h-7zM944.75 362.75h7v7h-7zM951.75 369.75h7v7h-7zM965.75 369.75h7v7h-7z"/><path fill="rgb(114,114,114)" d="M1000.75 159.75h7v7h-7zM923.75 173.75h7v7h-7zM972.75 313.75h7v7h-7zM951.75 348.75h7v7h-7zM958.75 369.75h7v7h-7z"/><path fill="rgb(115,115,115)" d="M958.75 117.75h14v7h-14zM979.75 306.75h7v7h-7zM958.75 348.75h14v7h-14zM951.75 355.75h7v7h-7zM951.75 362.75h7v7h-7z"/><path fill="rgb(116,116,116)" d="M923.75 243.75h7v7h-7zM958.75 355.75h14v7h-14zM958.75 362.75h14v7h-14z"/><path fill="rgb(117,117,117)" d="M986.75 131.75h7v7h-7zM930.75 271.75h7v7h-7zM958.75 313.75h14v7h-14z"/><path fill="rgb(118,118,118)" d="M979.75 124.75h7v7h-7zM923.75 180.75h7v7h-7zM1000.75 257.75h7v7h-7zM944.75 299.75h7v7h-7z"/><path fill="rgb(119,119,119)" d="M923.75 236.75h7v7h-7zM993.75 278.75h7v7h-7zM986.75 292.75h7v7h-7zM951.75 306.75h7v7h-7z"/><path fill="rgb(120,120,120)" d="M993.75 145.75h7v7h-7zM1000.75 166.75h7v7h-7zM937.75 285.75h7v7h-7z"/><path fill="rgb(121,121,121)" d="M930.75 152.75h7v7h-7zM923.75 187.75h7v7h-7zM923.75 229.75h7v7h-7zM972.75 306.75h7v7h-7z"/><path fill="rgb(122,122,122)" d="M937.75 138.75h7v7h-7zM979.75 299.75h7v7h-7z"/><path fill="rgb(123,123,123)" d="M923.75 194.75h7v7h-7zM923.75 222.75h7v7h-7zM1000.75 250.75h7v7h-7zM958.75 306.75h7v7h-7z"/><path fill="rgb(124,124,124)" d="M951.75 124.75h7v7h-7zM923.75 201.75h7v7h-7zM923.75 208.75h7v7h-7zM923.75 215.75h7v7h-7zM930.75 264.75h7v7h-7zM965.75 306.75h7v7h-7z"/><path fill="rgb(125,125,125)" d="M1000.75 173.75h7v7h-7zM944.75 292.75h7v7h-7z"/><path fill="rgb(126,126,126)" d="M944.75 131.75h7v7h-7zM951.75 299.75h7v7h-7z"/><path fill="rgb(127,127,127)" d="M972.75 124.75h7v7h-7zM1000.75 243.75h7v7h-7zM993.75 271.75h7v7h-7zM986.75 285.75h7v7h-7z"/><path fill="rgb(128,128,128)" d="M937.75 278.75h7v7h-7z"/><path fill="rgb(129,129,129)" d="M986.75 138.75h7v7h-7zM930.75 159.75h7v7h-7zM1000.75 180.75h7v7h-7zM972.75 299.75h7v7h-7z"/><path fill="rgb(130,130,130)" d="M958.75 124.75h7v7h-7zM993.75 152.75h7v7h-7zM930.75 257.75h7v7h-7zM979.75 292.75h7v7h-7z"/><path fill="rgb(131,131,131)" d="M965.75 124.75h7v7h-7zM1000.75 236.75h7v7h-7zM958.75 299.75h7v7h-7z"/><path fill="rgb(132,132,132)" d="M979.75 131.75h7v7h-7zM1000.75 187.75h7v7h-7zM965.75 299.75h7v7h-7z"/><path fill="rgb(133,133,133)" d="M1000.75 229.75h7v7h-7z"/><path fill="rgb(134,134,134)" d="M937.75 145.75h7v7h-7zM1000.75 194.75h7v7h-7zM993.75 264.75h7v7h-7zM944.75 285.75h7v7h-7z"/><path fill="rgb(135,135,135)" d="M1000.75 201.75h7v7h-7zM1000.75 222.75h7v7h-7zM951.75 292.75h7v7h-7z"/><path fill="rgb(136,136,136)" d="M930.75 166.75h7v7h-7zM1000.75 208.75h7v7h-7zM1000.75 215.75h7v7h-7zM937.75 271.75h7v7h-7zM986.75 278.75h7v7h-7z"/><path fill="rgb(137,137,137)" d="M930.75 250.75h7v7h-7z"/><path fill="rgb(139,139,139)" d="M951.75 131.75h7v7h-7zM993.75 159.75h7v7h-7zM972.75 292.75h7v7h-7z"/><path fill="rgb(140,140,140)" d="M979.75 285.75h7v7h-7z"/><path fill="rgb(141,141,141)" d="M944.75 138.75h7v7h-7zM958.75 292.75h7v7h-7z"/><path fill="rgb(142,142,142)" d="M986.75 145.75h7v7h-7zM930.75 173.75h7v7h-7zM993.75 257.75h7v7h-7zM965.75 292.75h7v7h-7z"/><path fill="rgb(143,143,143)" d="M972.75 131.75h7v7h-7zM930.75 243.75h7v7h-7z"/><path fill="rgb(144,144,144)" d="M944.75 278.75h7v7h-7z"/><path fill="rgb(145,145,145)" d="M937.75 152.75h7v7h-7zM951.75 285.75h7v7h-7z"/><path fill="rgb(146,146,146)" d="M937.75 264.75h7v7h-7zM986.75 271.75h7v7h-7z"/><path fill="rgb(147,147,147)" d="M958.75 131.75h7v7h-7zM979.75 138.75h7v7h-7zM993.75 166.75h7v7h-7z"/><path fill="rgb(148,148,148)" d="M930.75 180.75h7v7h-7zM930.75 236.75h7v7h-7z"/><path fill="rgb(149,149,149)" d="M965.75 131.75h7v7h-7zM993.75 250.75h7v7h-7z"/><path fill="rgb(150,150,150)" d="M972.75 285.75h7v7h-7z"/><path fill="rgb(152,152,152)" d="M930.75 187.75h7v7h-7zM930.75 229.75h7v7h-7zM979.75 278.75h7v7h-7z"/><path fill="rgb(153,153,153)" d="M958.75 285.75h7v7h-7z"/><path fill="rgb(154,154,154)" d="M930.75 194.75h7v7h-7zM930.75 222.75h7v7h-7z"/><path fill="rgb(155,155,155)" d="M986.75 152.75h7v7h-7zM993.75 173.75h7v7h-7zM965.75 285.75h7v7h-7z"/><path fill="rgb(156,156,156)" d="M951.75 138.75h7v7h-7zM944.75 145.75h7v7h-7zM937.75 159.75h7v7h-7zM930.75 201.75h7v7h-7zM930.75 208.75h7v7h-7zM930.75 215.75h7v7h-7zM993.75 243.75h7v7h-7zM937.75 257.75h7v7h-7z"/><path fill="rgb(157,157,157)" d="M986.75 264.75h7v7h-7zM944.75 271.75h7v7h-7z"/><path fill="rgb(159,159,159)" d="M951.75 278.75h7v7h-7z"/><path fill="rgb(161,161,161)" d="M972.75 138.75h7v7h-7zM993.75 180.75h7v7h-7z"/><path fill="rgb(162,162,162)" d="M993.75 236.75h7v7h-7z"/><path fill="rgb(163,163,163)" d="M979.75 145.75h7v7h-7z"/><path fill="rgb(164,164,164)" d="M972.75 278.75h7v7h-7z"/><path fill="rgb(165,165,165)" d="M993.75 187.75h7v7h-7zM979.75 271.75h7v7h-7z"/><path fill="rgb(166,166,166)" d="M958.75 138.75h7v7h-7zM937.75 166.75h7v7h-7zM993.75 229.75h7v7h-7zM937.75 250.75h7v7h-7z"/><path fill="rgb(167,167,167)" d="M986.75 159.75h7v7h-7z"/><path fill="rgb(168,168,168)" d="M965.75 138.75h7v7h-7zM993.75 194.75h7v7h-7zM986.75 257.75h7v7h-7zM958.75 278.75h7v7h-7z"/><path fill="rgb(169,169,169)" d="M993.75 222.75h7v7h-7z"/><path fill="rgb(170,170,170)" d="M944.75 152.75h7v7h-7zM993.75 201.75h7v7h-7zM993.75 215.75h7v7h-7zM944.75 264.75h7v7h-7zM965.75 278.75h7v7h-7z"/><path fill="rgb(171,171,171)" d="M993.75 208.75h7v7h-7z"/><path fill="rgb(173,173,173)" d="M951.75 145.75h7v7h-7z"/><path fill="rgb(174,174,174)" d="M937.75 243.75h7v7h-7zM951.75 271.75h7v7h-7z"/><path fill="rgb(175,175,175)" d="M937.75 173.75h7v7h-7z"/><path fill="rgb(178,178,178)" d="M972.75 145.75h7v7h-7zM979.75 152.75h7v7h-7zM986.75 166.75h7v7h-7zM986.75 250.75h7v7h-7z"/><path fill="rgb(179,179,179)" d="M979.75 264.75h7v7h-7zM972.75 271.75h7v7h-7z"/><path fill="rgb(181,181,181)" d="M937.75 180.75h7v7h-7zM937.75 236.75h7v7h-7z"/><path fill="rgb(182,182,182)" d="M944.75 257.75h7v7h-7z"/><path fill="rgb(183,183,183)" d="M944.75 159.75h7v7h-7z"/><path fill="rgb(184,184,184)" d="M958.75 145.75h7v7h-7zM958.75 271.75h7v7h-7z"/><path fill="rgb(185,185,185)" d="M965.75 145.75h7v7h-7zM937.75 229.75h7v7h-7z"/><path fill="rgb(186,186,186)" d="M986.75 173.75h7v7h-7zM937.75 187.75h7v7h-7zM965.75 271.75h7v7h-7z"/><path fill="rgb(187,187,187)" d="M986.75 243.75h7v7h-7z"/><path fill="rgb(188,188,188)" d="M951.75 264.75h7v7h-7z"/><path fill="rgb(189,189,189)" d="M951.75 152.75h7v7h-7zM937.75 194.75h7v7h-7zM937.75 222.75h7v7h-7z"/><path fill="rgb(190,190,190)" d="M937.75 215.75h7v7h-7z"/><path fill="rgb(191,191,191)" d="M979.75 159.75h7v7h-7zM937.75 201.75h7v7h-7zM937.75 208.75h7v7h-7z"/><path fill="rgb(192,192,192)" d="M979.75 257.75h7v7h-7z"/><path fill="rgb(193,193,193)" d="M986.75 180.75h7v7h-7zM986.75 236.75h7v7h-7zM944.75 250.75h7v7h-7z"/><path fill="rgb(194,194,194)" d="M972.75 152.75h7v7h-7zM944.75 166.75h7v7h-7zM972.75 264.75h7v7h-7z"/><path fill="rgb(198,198,198)" d="M986.75 187.75h7v7h-7zM986.75 229.75h7v7h-7zM958.75 264.75h7v7h-7z"/><path fill="rgb(199,199,199)" d="M958.75 152.75h7v7h-7z"/><path fill="rgb(200,200,200)" d="M965.75 264.75h7v7h-7z"/><path fill="rgb(201,201,201)" d="M965.75 152.75h7v7h-7zM986.75 194.75h7v7h-7zM986.75 222.75h7v7h-7zM944.75 243.75h7v7h-7zM951.75 257.75h7v7h-7z"/><path fill="rgb(202,202,202)" d="M951.75 159.75h7v7h-7zM979.75 166.75h7v7h-7zM944.75 173.75h7v7h-7zM979.75 250.75h7v7h-7z"/><path fill="rgb(203,203,203)" d="M986.75 201.75h7v7h-7zM986.75 208.75h7v7h-7zM986.75 215.75h7v7h-7z"/><path fill="rgb(207,207,207)" d="M972.75 159.75h7v7h-7zM972.75 257.75h7v7h-7z"/><path fill="rgb(208,208,208)" d="M944.75 236.75h7v7h-7z"/><path fill="rgb(209,209,209)" d="M944.75 180.75h7v7h-7z"/><path fill="rgb(211,211,211)" d="M979.75 173.75h7v7h-7zM979.75 243.75h7v7h-7z"/><path fill="rgb(212,212,212)" d="M951.75 250.75h7v7h-7zM958.75 257.75h7v7h-7z"/><path fill="rgb(213,213,213)" d="M958.75 159.75h7v7h-7z"/><path fill="rgb(214,214,214)" d="M951.75 166.75h7v7h-7zM944.75 229.75h7v7h-7zM965.75 257.75h7v7h-7z"/><path fill="rgb(215,215,215)" d="M965.75 159.75h7v7h-7zM944.75 187.75h7v7h-7z"/><path fill="rgb(218,218,218)" d="M944.75 194.75h7v7h-7zM944.75 222.75h7v7h-7z"/><path fill="rgb(219,219,219)" d="M979.75 180.75h7v7h-7zM979.75 236.75h7v7h-7zM972.75 250.75h7v7h-7z"/><path fill="rgb(220,220,220)" d="M972.75 166.75h7v7h-7zM944.75 201.75h7v7h-7zM944.75 215.75h7v7h-7z"/><path fill="rgb(221,221,221)" d="M944.75 208.75h7v7h-7z"/><path fill="rgb(222,222,222)" d="M951.75 243.75h7v7h-7z"/><path fill="rgb(224,224,224)" d="M951.75 173.75h7v7h-7zM979.75 229.75h7v7h-7zM958.75 250.75h7v7h-7z"/><path fill="rgb(225,225,225)" d="M979.75 187.75h7v7h-7z"/><path fill="rgb(227,227,227)" d="M958.75 166.75h7v7h-7zM965.75 250.75h7v7h-7z"/><path fill="rgb(229,229,229)" d="M965.75 166.75h7v7h-7zM979.75 194.75h7v7h-7zM979.75 222.75h7v7h-7zM972.75 243.75h7v7h-7z"/><path fill="rgb(231,231,231)" d="M972.75 173.75h7v7h-7zM979.75 201.75h7v7h-7zM979.75 215.75h7v7h-7zM951.75 236.75h7v7h-7z"/><path fill="rgb(232,232,232)" d="M979.75 208.75h7v7h-7z"/><path fill="rgb(233,233,233)" d="M951.75 180.75h7v7h-7z"/><path fill="rgb(236,236,236)" d="M958.75 243.75h7v7h-7z"/><path fill="rgb(238,238,238)" d="M958.75 173.75h7v7h-7zM951.75 229.75h7v7h-7z"/><path fill="rgb(239,239,239)" d="M972.75 236.75h7v7h-7zM965.75 243.75h7v7h-7z"/><path fill="rgb(240,240,240)" d="M972.75 180.75h7v7h-7zM951.75 187.75h7v7h-7z"/><path fill="rgb(241,241,241)" d="M965.75 173.75h7v7h-7z"/><path fill="rgb(243,243,243)" d="M951.75 222.75h7v7h-7z"/><path fill="rgb(244,244,244)" d="M951.75 194.75h7v7h-7z"/><path fill="rgb(246,246,246)" d="M951.75 215.75h7v7h-7zM972.75 229.75h7v7h-7zM958.75 236.75h7v7h-7z"/><path fill="rgb(247,247,247)" d="M951.75 201.75h7v7h-7zM951.75 208.75h7v7h-7z"/><path fill="rgb(248,248,248)" d="M972.75 187.75h7v7h-7z"/><path fill="rgb(249,249,249)" d="M958.75 180.75h7v7h-7zM965.75 236.75h7v7h-7z"/><path fill="rgb(251,251,251)" d="M965.75 180.75h7v7h-7z"/><path fill="rgb(252,252,252)" d="M972.75 222.75h7v7h-7z"/><path fill="rgb(253,253,253)" d="M972.75 194.75h7v7h-7z"/><path fill="rgb(255,255,255)" d="M958.75 187.75h14v7h-14zM958.75 194.75h14v7h-14zM958.75 201.75h21v7h-21zM958.75 208.75h21v7h-21zM958.75 215.75h21v7h-21zM958.75 222.75h14v7h-14zM958.75 229.75h14v7h-14z"/></g></g>
<path d="M851.5 47.75V580.2M1048.5 47.75V580.2" stroke="#fff" stroke-width="1"/>
<line x1="699.75" y1="306.56" x2="1232.1" y2="306.56" stroke="#C81E23" stroke-width="1.5" stroke-dasharray="6 6" stroke-linecap="round"/>
<line x1="928.34" y1="580.2" x2="928.34" y2="47.75" stroke="#006400" stroke-width="1.5" stroke-dasharray="6 6" stroke-linecap="round"/>
<line x1="1002.66" y1="580.2" x2="1002.66" y2="47.75" stroke="#006400" stroke-width="1.5" stroke-dasharray="6 6" stroke-linecap="round"/>
<rect x="699.75" y="47.75" width="532.35" height="532.45" fill="none" stroke="#000" stroke-width="1"/>
</svg>
</body></html>
